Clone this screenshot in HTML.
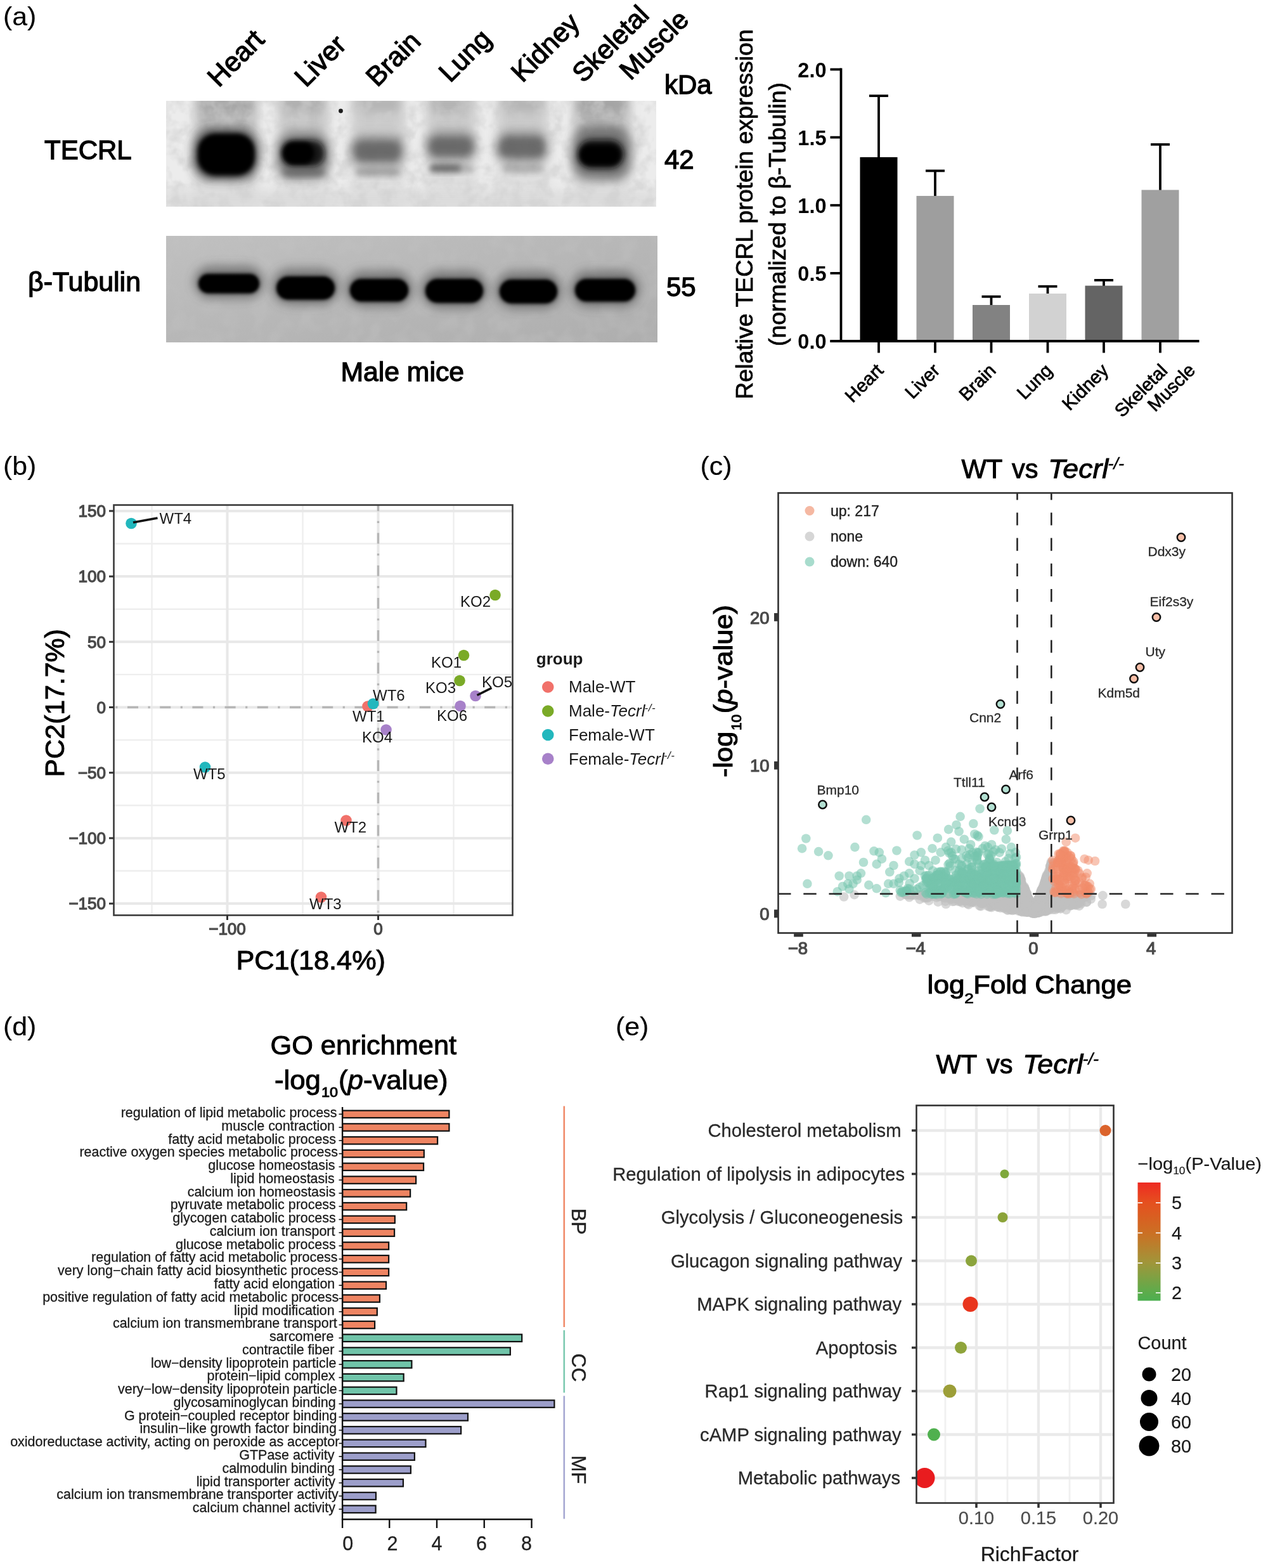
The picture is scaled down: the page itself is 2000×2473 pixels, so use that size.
<!DOCTYPE html>
<html lang="en">
<head>
<meta charset="utf-8">
<title>TECRL expression and Tecrl-/- transcriptome figure</title>
<style>
html,body{margin:0;padding:0;background:#fff;}
body{width:2000px;height:2473px;overflow:hidden;}
svg{display:block;font-family:"Liberation Sans", sans-serif;filter:blur(0.55px);}
text{white-space:pre;}
</style>
</head>
<body>
<svg width="2000" height="2473" viewBox="0 0 2000 2473">
<defs>
<filter id="b2" x="-30%" y="-50%" width="160%" height="200%"><feGaussianBlur stdDeviation="2"/></filter>
<filter id="b3" x="-30%" y="-50%" width="160%" height="200%"><feGaussianBlur stdDeviation="3"/></filter>
<filter id="b5" x="-30%" y="-50%" width="160%" height="200%"><feGaussianBlur stdDeviation="5"/></filter>
<filter id="b8" x="-40%" y="-60%" width="180%" height="220%"><feGaussianBlur stdDeviation="8"/></filter>
<filter id="b14" x="-50%" y="-50%" width="200%" height="200%"><feGaussianBlur stdDeviation="14"/></filter>
<filter id="soft" x="-5%" y="-5%" width="110%" height="110%"><feGaussianBlur stdDeviation="0.6"/></filter>
<filter id="noise1" x="0" y="0" width="100%" height="100%"><feTurbulence type="fractalNoise" baseFrequency="0.045" numOctaves="3" seed="4" result="t"/><feColorMatrix in="t" type="matrix" values="0 0 0 0 0.62  0 0 0 0 0.62  0 0 0 0 0.62  2.2 2.2 0 0 -1.9"/></filter>
<filter id="noise2" x="0" y="0" width="100%" height="100%"><feTurbulence type="fractalNoise" baseFrequency="0.04" numOctaves="2" seed="9" result="t"/><feColorMatrix in="t" type="matrix" values="0 0 0 0 0.55  0 0 0 0 0.55  0 0 0 0 0.55  2 2 0 0 -1.8"/></filter>
<linearGradient id="g2" x1="0" y1="0" x2="1" y2="1"><stop offset="0" stop-color="#c0c0c0"/><stop offset="1" stop-color="#aeaeae"/></linearGradient>
<clipPath id="clipA1"><rect x="262" y="159" width="773" height="167"/></clipPath>
<clipPath id="clipA2"><rect x="262" y="372" width="775" height="168"/></clipPath>
<clipPath id="clipE"><rect x="1445.5" y="1743.5" width="311" height="627"/></clipPath>
<clipPath id="clipC"><rect x="1228" y="778" width="715" height="693"/></clipPath>
<linearGradient id="cbar" x1="0" y1="0" x2="0" y2="1">
<stop offset="0" stop-color="#ee2a22"/><stop offset="0.17" stop-color="#e5501f"/><stop offset="0.43" stop-color="#cb7024"/><stop offset="0.68" stop-color="#a0963a"/><stop offset="0.93" stop-color="#5cac4c"/><stop offset="1" stop-color="#4caf50"/>
</linearGradient>
</defs>
<rect width="2000" height="2473" fill="#fff"/>
<g id="panel-a">
<text x="5" y="40.4" font-size="41" stroke="#000" stroke-width="0.15" textLength="52.3" lengthAdjust="spacingAndGlyphs">(a)</text>
<g clip-path="url(#clipA1)">
<rect x="262" y="159" width="773" height="167" fill="#ececec" />
<rect x="305" y="150" width="103" height="146" rx="6" fill="#bdbdbd" opacity="0.375" filter="url(#b8)"/>
<rect x="305" y="288" width="103" height="47" rx="6" fill="#c8c8c8" opacity="0.2" filter="url(#b8)"/>
<rect x="311" y="146" width="91" height="66" rx="6" fill="#8c8c8c" opacity="0.465" filter="url(#b8)"/>
<rect x="313" y="150" width="87" height="26" rx="6" fill="#808080" opacity="0.3" filter="url(#b8)"/>
<rect x="436" y="150" width="84" height="146" rx="6" fill="#bdbdbd" opacity="0.315" filter="url(#b8)"/>
<rect x="436" y="288" width="84" height="47" rx="6" fill="#c8c8c8" opacity="0.168" filter="url(#b8)"/>
<rect x="442" y="146" width="72" height="66" rx="6" fill="#8c8c8c" opacity="0.31" filter="url(#b8)"/>
<rect x="444" y="150" width="68" height="26" rx="6" fill="#808080" opacity="0.3" filter="url(#b8)"/>
<rect x="552" y="150" width="88" height="146" rx="6" fill="#bdbdbd" opacity="0.27" filter="url(#b8)"/>
<rect x="552" y="288" width="88" height="47" rx="6" fill="#c8c8c8" opacity="0.144" filter="url(#b8)"/>
<rect x="558" y="146" width="76" height="66" rx="6" fill="#8c8c8c" opacity="0.248" filter="url(#b8)"/>
<rect x="560" y="150" width="72" height="26" rx="6" fill="#808080" opacity="0.3" filter="url(#b8)"/>
<rect x="670" y="150" width="82" height="146" rx="6" fill="#bdbdbd" opacity="0.3" filter="url(#b8)"/>
<rect x="670" y="288" width="82" height="47" rx="6" fill="#c8c8c8" opacity="0.16" filter="url(#b8)"/>
<rect x="676" y="146" width="70" height="66" rx="6" fill="#8c8c8c" opacity="0.2604" filter="url(#b8)"/>
<rect x="678" y="150" width="66" height="26" rx="6" fill="#808080" opacity="0.3" filter="url(#b8)"/>
<rect x="782" y="150" width="84" height="146" rx="6" fill="#bdbdbd" opacity="0.27" filter="url(#b8)"/>
<rect x="782" y="288" width="84" height="47" rx="6" fill="#c8c8c8" opacity="0.144" filter="url(#b8)"/>
<rect x="788" y="146" width="72" height="66" rx="6" fill="#8c8c8c" opacity="0.248" filter="url(#b8)"/>
<rect x="790" y="150" width="68" height="26" rx="6" fill="#808080" opacity="0.3" filter="url(#b8)"/>
<rect x="902" y="150" width="94" height="146" rx="6" fill="#bdbdbd" opacity="0.375" filter="url(#b8)"/>
<rect x="902" y="288" width="94" height="47" rx="6" fill="#c8c8c8" opacity="0.2" filter="url(#b8)"/>
<rect x="908" y="146" width="82" height="66" rx="6" fill="#8c8c8c" opacity="0.496" filter="url(#b8)"/>
<rect x="910" y="150" width="78" height="26" rx="6" fill="#808080" opacity="0.3" filter="url(#b8)"/>
<rect x="262" y="159" width="773" height="167" filter="url(#noise1)" opacity="0.55"/>
<rect x="262" y="300" width="773" height="30" rx="2" fill="#d0d0d0" opacity="0.5" filter="url(#b8)"/>
<rect x="304" y="202" width="104" height="82" rx="30" fill="#333" opacity="0.75" filter="url(#b8)"/>
<rect x="312" y="211" width="89" height="66" rx="28" fill="#000" opacity="1" filter="url(#b5)"/>
<rect x="315" y="214" width="84" height="58" rx="24" fill="#000" opacity="1" filter="url(#b3)"/>
<rect x="436" y="208" width="84" height="74" rx="26" fill="#444" opacity="0.6" filter="url(#b8)"/>
<rect x="444" y="221" width="68" height="42" rx="20" fill="#111" opacity="0.9" filter="url(#b5)"/>
<rect x="446" y="224" width="50" height="35" rx="17" fill="#000" opacity="1" filter="url(#b3)"/>
<rect x="446" y="266" width="66" height="12" rx="6" fill="#555" opacity="0.55" filter="url(#b5)"/>
<rect x="553" y="214" width="85" height="48" rx="18" fill="#5a5a5a" opacity="0.66" filter="url(#b8)"/>
<rect x="560" y="224" width="70" height="28" rx="12" fill="#4a4a4a" opacity="0.45" filter="url(#b5)"/>
<rect x="560" y="265" width="72" height="13" rx="6.5" fill="#777" opacity="0.55" filter="url(#b5)"/>
<rect x="672" y="208" width="78" height="46" rx="18" fill="#5a5a5a" opacity="0.66" filter="url(#b8)"/>
<rect x="678" y="218" width="66" height="26" rx="12" fill="#4a4a4a" opacity="0.45" filter="url(#b5)"/>
<rect x="677" y="259" width="51" height="13" rx="6.5" fill="#3c3c3c" opacity="0.7" filter="url(#b5)"/>
<rect x="720" y="260" width="28" height="12" rx="6" fill="#777" opacity="0.4" filter="url(#b5)"/>
<rect x="783" y="208" width="81" height="48" rx="18" fill="#5a5a5a" opacity="0.66" filter="url(#b8)"/>
<rect x="789" y="217" width="69" height="29" rx="12" fill="#4a4a4a" opacity="0.45" filter="url(#b5)"/>
<rect x="792" y="259" width="66" height="14" rx="7" fill="#888" opacity="0.5" filter="url(#b5)"/>
<rect x="902" y="200" width="94" height="84" rx="28" fill="#444" opacity="0.65" filter="url(#b8)"/>
<rect x="911" y="220" width="73" height="46" rx="22" fill="#111" opacity="0.95" filter="url(#b5)"/>
<rect x="915" y="229" width="63" height="31" rx="15" fill="#000" opacity="1" filter="url(#b3)"/>
<circle cx="537.5" cy="175" r="3.4" fill="#1a1a1a" filter="url(#soft)"/>
</g>
<g clip-path="url(#clipA2)">
<rect x="262" y="372" width="775" height="168" fill="#b5b5b5" />
<rect x="262" y="372" width="775" height="168" fill="url(#g2)"/>
<rect x="262" y="372" width="775" height="168" filter="url(#noise2)" opacity="0.3"/>
<rect x="306" y="419" width="110" height="52" rx="26" fill="#444" opacity="0.55" filter="url(#b8)"/>
<rect x="313" y="432" width="96" height="30.5" rx="15.25" fill="#000" opacity="1" filter="url(#b3)"/>
<rect x="315" y="434" width="92" height="26.5" rx="13.25" fill="#000" opacity="1" filter="url(#b2)"/>
<rect x="429" y="423" width="106" height="58" rx="29" fill="#444" opacity="0.55" filter="url(#b8)"/>
<rect x="436" y="436" width="92" height="36.5" rx="18.25" fill="#000" opacity="1" filter="url(#b3)"/>
<rect x="438" y="438" width="88" height="32.5" rx="16.25" fill="#000" opacity="1" filter="url(#b2)"/>
<rect x="545" y="427" width="106" height="57" rx="28.5" fill="#444" opacity="0.55" filter="url(#b8)"/>
<rect x="552" y="440" width="92" height="35.5" rx="17.75" fill="#000" opacity="1" filter="url(#b3)"/>
<rect x="554" y="442" width="88" height="31.5" rx="15.75" fill="#000" opacity="1" filter="url(#b2)"/>
<rect x="664" y="427" width="105" height="59" rx="29.5" fill="#444" opacity="0.55" filter="url(#b8)"/>
<rect x="671" y="440" width="91" height="37.5" rx="18.75" fill="#000" opacity="1" filter="url(#b3)"/>
<rect x="673" y="442" width="87" height="33.5" rx="16.75" fill="#000" opacity="1" filter="url(#b2)"/>
<rect x="781" y="428" width="105" height="59" rx="29.5" fill="#444" opacity="0.55" filter="url(#b8)"/>
<rect x="788" y="441" width="91" height="37.5" rx="18.75" fill="#000" opacity="1" filter="url(#b3)"/>
<rect x="790" y="443" width="87" height="33.5" rx="16.75" fill="#000" opacity="1" filter="url(#b2)"/>
<rect x="900" y="427" width="109" height="57" rx="28.5" fill="#444" opacity="0.55" filter="url(#b8)"/>
<rect x="907" y="440" width="95" height="35.5" rx="17.75" fill="#000" opacity="1" filter="url(#b3)"/>
<rect x="909" y="442" width="91" height="31.5" rx="15.75" fill="#000" opacity="1" filter="url(#b2)"/>
</g>
<text x="70" y="251" font-size="42" stroke="#000" stroke-width="1.3">TECRL</text>
<text x="44" y="459" font-size="42" stroke="#000" stroke-width="1.3" textLength="178" lengthAdjust="spacingAndGlyphs">β-Tubulin</text>
<text x="537.5" y="601" font-size="42" stroke="#000" stroke-width="1.3" textLength="194.5" lengthAdjust="spacingAndGlyphs">Male mice</text>
<text x="1048" y="148" font-size="42" stroke="#000" stroke-width="1.3">kDa</text>
<text x="1048" y="266" font-size="42" stroke="#000" stroke-width="1.3">42</text>
<text x="1051" y="467" font-size="42" stroke="#000" stroke-width="1.3">55</text>
<text x="345" y="139" font-size="42.9" stroke="#000" stroke-width="1.3" transform="rotate(-45 345 139)">Heart</text>
<text x="482.5" y="139" font-size="42.9" stroke="#000" stroke-width="1.3" transform="rotate(-45 482.5 139)">Liver</text>
<text x="595" y="138.5" font-size="42.9" stroke="#000" stroke-width="1.3" transform="rotate(-45 595 138.5)">Brain</text>
<text x="710" y="131.5" font-size="42.9" stroke="#000" stroke-width="1.3" transform="rotate(-45 710 131.5)">Lung</text>
<text x="824" y="131.5" font-size="42.9" stroke="#000" stroke-width="1.3" transform="rotate(-45 824 131.5)">Kidney</text>
<text x="920" y="132" font-size="42.1" stroke="#000" stroke-width="1.3" transform="rotate(-45 920 132)">Skeletal</text>
<text x="994.5" y="128" font-size="42.1" stroke="#000" stroke-width="1.3" transform="rotate(-45 994.5 128)">Muscle</text>
<line x1="1386" y1="248.905" x2="1386" y2="151.15" stroke="#000" stroke-width="3.8" />
<line x1="1371" y1="151.15" x2="1401" y2="151.15" stroke="#000" stroke-width="3.8" />
<rect x="1356.5" y="247.905" width="59" height="290.095" fill="#000" />
<line x1="1386" y1="538" x2="1386" y2="556.5" stroke="#000" stroke-width="3.8" />
<line x1="1475" y1="309.967" x2="1475" y2="269.416" stroke="#000" stroke-width="3.8" />
<line x1="1460" y1="269.416" x2="1490" y2="269.416" stroke="#000" stroke-width="3.8" />
<rect x="1445.5" y="308.967" width="59" height="229.033" fill="#9e9e9e" />
<line x1="1475" y1="538" x2="1475" y2="556.5" stroke="#000" stroke-width="3.8" />
<line x1="1563.5" y1="482.01" x2="1563.5" y2="467.812" stroke="#000" stroke-width="3.8" />
<line x1="1548.5" y1="467.812" x2="1578.5" y2="467.812" stroke="#000" stroke-width="3.8" />
<rect x="1534" y="481.01" width="59" height="56.9905" fill="#828282" />
<line x1="1563.5" y1="538" x2="1563.5" y2="556.5" stroke="#000" stroke-width="3.8" />
<line x1="1652.5" y1="464.012" x2="1652.5" y2="451.743" stroke="#000" stroke-width="3.8" />
<line x1="1637.5" y1="451.743" x2="1667.5" y2="451.743" stroke="#000" stroke-width="3.8" />
<rect x="1623" y="463.012" width="59" height="74.9875" fill="#d2d2d2" />
<line x1="1652.5" y1="538" x2="1652.5" y2="556.5" stroke="#000" stroke-width="3.8" />
<line x1="1741" y1="451.586" x2="1741" y2="441.887" stroke="#000" stroke-width="3.8" />
<line x1="1726" y1="441.887" x2="1756" y2="441.887" stroke="#000" stroke-width="3.8" />
<rect x="1711.5" y="450.586" width="59" height="87.414" fill="#646464" />
<line x1="1741" y1="538" x2="1741" y2="556.5" stroke="#000" stroke-width="3.8" />
<line x1="1830" y1="300.54" x2="1830" y2="227.852" stroke="#000" stroke-width="3.8" />
<line x1="1815" y1="227.852" x2="1845" y2="227.852" stroke="#000" stroke-width="3.8" />
<rect x="1800.5" y="299.54" width="59" height="238.46" fill="#a0a0a0" />
<line x1="1830" y1="538" x2="1830" y2="556.5" stroke="#000" stroke-width="3.8" />
<line x1="1326.5" y1="107.6" x2="1326.5" y2="539.9" stroke="#000" stroke-width="3.8" />
<line x1="1309.5" y1="538" x2="1891.5" y2="538" stroke="#000" stroke-width="3.8" />
<line x1="1309.5" y1="538" x2="1326.5" y2="538" stroke="#000" stroke-width="3.8" />
<text x="1303.5" y="550.2" font-size="32.5" text-anchor="end" font-weight="bold">0.0</text>
<line x1="1309.5" y1="430.875" x2="1326.5" y2="430.875" stroke="#000" stroke-width="3.8" />
<text x="1303.5" y="443.075" font-size="32.5" text-anchor="end" font-weight="bold">0.5</text>
<line x1="1309.5" y1="323.75" x2="1326.5" y2="323.75" stroke="#000" stroke-width="3.8" />
<text x="1303.5" y="335.95" font-size="32.5" text-anchor="end" font-weight="bold">1.0</text>
<line x1="1309.5" y1="216.625" x2="1326.5" y2="216.625" stroke="#000" stroke-width="3.8" />
<text x="1303.5" y="228.825" font-size="32.5" text-anchor="end" font-weight="bold">1.5</text>
<line x1="1309.5" y1="109.5" x2="1326.5" y2="109.5" stroke="#000" stroke-width="3.8" />
<text x="1303.5" y="121.7" font-size="32.5" text-anchor="end" font-weight="bold">2.0</text>
<text x="1187" y="338" font-size="37.5" text-anchor="middle" stroke="#000" stroke-width="0.8" transform="rotate(-90 1187 338)">Relative TECRL protein expression</text>
<text x="1239" y="338" font-size="37.5" text-anchor="middle" stroke="#000" stroke-width="0.8" transform="rotate(-90 1239 338)">(normalized to β-Tubulin)</text>
<text x="1395" y="586" font-size="29" text-anchor="end" stroke="#000" stroke-width="0.8" transform="rotate(-45 1395 586)">Heart</text>
<text x="1484" y="586" font-size="29" text-anchor="end" stroke="#000" stroke-width="0.8" transform="rotate(-45 1484 586)">Liver</text>
<text x="1572.5" y="586" font-size="29" text-anchor="end" stroke="#000" stroke-width="0.8" transform="rotate(-45 1572.5 586)">Brain</text>
<text x="1661.5" y="586" font-size="29" text-anchor="end" stroke="#000" stroke-width="0.8" transform="rotate(-45 1661.5 586)">Lung</text>
<text x="1750" y="586" font-size="29" text-anchor="end" stroke="#000" stroke-width="0.8" transform="rotate(-45 1750 586)">Kidney</text>
<text x="1843" y="586.5" font-size="29" text-anchor="end" stroke="#000" stroke-width="0.8" transform="rotate(-45 1843 586.5)">Skeletal</text>
<text x="1887" y="585.5" font-size="29" text-anchor="end" stroke="#000" stroke-width="0.8" transform="rotate(-45 1887 585.5)">Muscle</text>
</g>
<g id="panel-b">
<text x="5" y="749.4" font-size="41" stroke="#000" stroke-width="0.15" textLength="52.3" lengthAdjust="spacingAndGlyphs">(b)</text>
<rect x="179.5" y="796.5" width="629" height="647" fill="#fff" />
<line x1="239.5" y1="796.5" x2="239.5" y2="1443.5" stroke="#eeeeee" stroke-width="2.4" />
<line x1="477.5" y1="796.5" x2="477.5" y2="1443.5" stroke="#eeeeee" stroke-width="2.4" />
<line x1="715.5" y1="796.5" x2="715.5" y2="1443.5" stroke="#eeeeee" stroke-width="2.4" />
<line x1="179.5" y1="1373.5" x2="808.5" y2="1373.5" stroke="#eeeeee" stroke-width="2.4" />
<line x1="179.5" y1="1270.3" x2="808.5" y2="1270.3" stroke="#eeeeee" stroke-width="2.4" />
<line x1="179.5" y1="1167.1" x2="808.5" y2="1167.1" stroke="#eeeeee" stroke-width="2.4" />
<line x1="179.5" y1="1063.9" x2="808.5" y2="1063.9" stroke="#eeeeee" stroke-width="2.4" />
<line x1="179.5" y1="960.7" x2="808.5" y2="960.7" stroke="#eeeeee" stroke-width="2.4" />
<line x1="179.5" y1="857.5" x2="808.5" y2="857.5" stroke="#eeeeee" stroke-width="2.4" />
<line x1="358.5" y1="796.5" x2="358.5" y2="1443.5" stroke="#e8e8e8" stroke-width="4" />
<line x1="596.5" y1="796.5" x2="596.5" y2="1443.5" stroke="#e8e8e8" stroke-width="4" />
<line x1="179.5" y1="1425.1" x2="808.5" y2="1425.1" stroke="#e8e8e8" stroke-width="4" />
<line x1="179.5" y1="1321.9" x2="808.5" y2="1321.9" stroke="#e8e8e8" stroke-width="4" />
<line x1="179.5" y1="1218.7" x2="808.5" y2="1218.7" stroke="#e8e8e8" stroke-width="4" />
<line x1="179.5" y1="1115.5" x2="808.5" y2="1115.5" stroke="#e8e8e8" stroke-width="4" />
<line x1="179.5" y1="1012.3" x2="808.5" y2="1012.3" stroke="#e8e8e8" stroke-width="4" />
<line x1="179.5" y1="909.1" x2="808.5" y2="909.1" stroke="#e8e8e8" stroke-width="4" />
<line x1="179.5" y1="805.9" x2="808.5" y2="805.9" stroke="#e8e8e8" stroke-width="4" />
<line x1="179.5" y1="1115.5" x2="808.5" y2="1115.5" stroke="#b6b6b6" stroke-width="3.4" stroke-dasharray="17 15.5 3.2 15.5" stroke-dashoffset="29.7"/>
<line x1="596.5" y1="796.5" x2="596.5" y2="1443.5" stroke="#b6b6b6" stroke-width="3.4" stroke-dasharray="17 15.5 3.2 15.5" stroke-dashoffset="7.2"/>
<circle cx="580" cy="1114" r="8.8" fill="#f1716a" />
<circle cx="546" cy="1294" r="8.8" fill="#f1716a" />
<circle cx="506.5" cy="1415" r="8.8" fill="#f1716a" />
<circle cx="731.5" cy="1033.5" r="8.8" fill="#7aaa27" />
<circle cx="781" cy="938.5" r="8.8" fill="#7aaa27" />
<circle cx="725" cy="1073.5" r="8.8" fill="#7aaa27" />
<circle cx="207" cy="825.5" r="8.8" fill="#22b7bd" />
<circle cx="323.5" cy="1210" r="8.8" fill="#22b7bd" />
<circle cx="588.5" cy="1110" r="8.8" fill="#22b7bd" />
<circle cx="609" cy="1151" r="8.8" fill="#a781c9" />
<circle cx="750" cy="1097.5" r="8.8" fill="#a781c9" />
<circle cx="726" cy="1113.5" r="8.8" fill="#a781c9" />
<line x1="210" y1="824" x2="248.5" y2="817" stroke="#111" stroke-width="3.6" />
<line x1="752.5" y1="1096.5" x2="775.5" y2="1085" stroke="#111" stroke-width="3.6" />
<text x="556" y="1137.5" font-size="24" fill="#1a1a1a">WT1</text>
<text x="527.5" y="1312.5" font-size="24" fill="#1a1a1a">WT2</text>
<text x="488" y="1434" font-size="24" fill="#1a1a1a">WT3</text>
<text x="680" y="1052.5" font-size="24" fill="#1a1a1a">KO1</text>
<text x="726" y="957" font-size="24" fill="#1a1a1a">KO2</text>
<text x="671" y="1093" font-size="24" fill="#1a1a1a">KO3</text>
<text x="251.5" y="826" font-size="24" fill="#1a1a1a">WT4</text>
<text x="305" y="1229" font-size="24" fill="#1a1a1a">WT5</text>
<text x="588" y="1105" font-size="24" fill="#1a1a1a">WT6</text>
<text x="571" y="1171" font-size="24" fill="#1a1a1a">KO4</text>
<text x="760" y="1084" font-size="24" fill="#1a1a1a">KO5</text>
<text x="689" y="1136.5" font-size="24" fill="#1a1a1a">KO6</text>
<rect x="179.5" y="796.5" width="629" height="647" fill="none" stroke="#3a3a3a" stroke-width="2.6" />
<line x1="172" y1="1425.1" x2="179.5" y2="1425.1" stroke="#333" stroke-width="3" />
<text x="167" y="1434.3" font-size="26" text-anchor="end" fill="#4a4a4a" stroke="#4a4a4a" stroke-width="1.3">−150</text>
<line x1="172" y1="1321.9" x2="179.5" y2="1321.9" stroke="#333" stroke-width="3" />
<text x="167" y="1331.1" font-size="26" text-anchor="end" fill="#4a4a4a" stroke="#4a4a4a" stroke-width="1.3">−100</text>
<line x1="172" y1="1218.7" x2="179.5" y2="1218.7" stroke="#333" stroke-width="3" />
<text x="167" y="1227.9" font-size="26" text-anchor="end" fill="#4a4a4a" stroke="#4a4a4a" stroke-width="1.3">−50</text>
<line x1="172" y1="1115.5" x2="179.5" y2="1115.5" stroke="#333" stroke-width="3" />
<text x="167" y="1124.7" font-size="26" text-anchor="end" fill="#4a4a4a" stroke="#4a4a4a" stroke-width="1.3">0</text>
<line x1="172" y1="1012.3" x2="179.5" y2="1012.3" stroke="#333" stroke-width="3" />
<text x="167" y="1021.5" font-size="26" text-anchor="end" fill="#4a4a4a" stroke="#4a4a4a" stroke-width="1.3">50</text>
<line x1="172" y1="909.1" x2="179.5" y2="909.1" stroke="#333" stroke-width="3" />
<text x="167" y="918.3" font-size="26" text-anchor="end" fill="#4a4a4a" stroke="#4a4a4a" stroke-width="1.3">100</text>
<line x1="172" y1="805.9" x2="179.5" y2="805.9" stroke="#333" stroke-width="3" />
<text x="167" y="815.1" font-size="26" text-anchor="end" fill="#4a4a4a" stroke="#4a4a4a" stroke-width="1.3">150</text>
<line x1="358.5" y1="1443.5" x2="358.5" y2="1451" stroke="#333" stroke-width="3" />
<text x="358.5" y="1474.3" font-size="26" text-anchor="middle" fill="#4a4a4a" stroke="#4a4a4a" stroke-width="1.3">−100</text>
<line x1="596.5" y1="1443.5" x2="596.5" y2="1451" stroke="#333" stroke-width="3" />
<text x="596.5" y="1474.3" font-size="26" text-anchor="middle" fill="#4a4a4a" stroke="#4a4a4a" stroke-width="1.3">0</text>
<text x="372.5" y="1528.5" font-size="43" stroke="#000" stroke-width="1" textLength="235.5" lengthAdjust="spacingAndGlyphs">PC1(18.4%)</text>
<text x="100.5" y="1225.5" font-size="43" stroke="#000" stroke-width="1" transform="rotate(-90 100.5 1225.5)" textLength="233.5" lengthAdjust="spacingAndGlyphs">PC2(17.7%)</text>
<text x="845.75" y="1047.5" font-size="26" font-weight="bold" fill="#1a1a1a">group</text>
<circle cx="864.25" cy="1083.5" r="9.3" fill="#f1716a" />
<text x="897" y="1092.3" font-size="26" fill="#1a1a1a">Male-WT</text>
<circle cx="864.25" cy="1121.5" r="9.3" fill="#7aaa27" />
<text x="897" y="1130.3" font-size="26" fill="#1a1a1a">Male-<tspan font-style="italic">Tecrl</tspan><tspan font-size="17" dy="-8.5" dx="-1" font-style="italic" letter-spacing="0.6">-/-</tspan></text>
<circle cx="864.25" cy="1159" r="9.3" fill="#22b7bd" />
<text x="897" y="1167.8" font-size="26" fill="#1a1a1a">Female-WT</text>
<circle cx="864.25" cy="1196.75" r="9.3" fill="#a781c9" />
<text x="897" y="1205.55" font-size="26" fill="#1a1a1a">Female-<tspan font-style="italic">Tecrl</tspan><tspan font-size="17" dy="-8.5" dx="-1" font-style="italic" letter-spacing="0.6">-/-</tspan></text>
</g>
<g id="panel-c">
<text x="1104.5" y="749.4" font-size="41" stroke="#000" stroke-width="0.15" textLength="50" lengthAdjust="spacingAndGlyphs">(c)</text>
<text stroke="#000" stroke-width="1"><tspan x="1516.4" y="754" font-size="43" textLength="65" lengthAdjust="spacingAndGlyphs">WT</tspan><tspan font-size="1"> </tspan><tspan x="1595.9" y="754" font-size="43" textLength="41.5" lengthAdjust="spacingAndGlyphs">vs</tspan><tspan font-size="1"> </tspan><tspan x="1653.2" y="754" font-size="43" textLength="95" lengthAdjust="spacingAndGlyphs" font-style="italic">Tecrl</tspan><tspan x="1747.4" y="740" font-size="25" textLength="25.5" lengthAdjust="spacingAndGlyphs" stroke-width="0.5" font-style="italic">-/-</tspan></text>
<rect x="1227.5" y="777.5" width="716" height="694" fill="#fff" />
<g clip-path="url(#clipC)">
<g fill="#c0c0c0" fill-opacity="0.62">
<circle cx="1572.1" cy="1421.1" r="7.3"/><circle cx="1607.8" cy="1403.5" r="7.3"/><circle cx="1591.8" cy="1414.9" r="7.3"/><circle cx="1628.1" cy="1436.8" r="7.3"/><circle cx="1646.7" cy="1436.2" r="7.3"/><circle cx="1712.1" cy="1415.1" r="7.3"/><circle cx="1591.1" cy="1430.3" r="7.3"/><circle cx="1621.4" cy="1434.5" r="7.3"/><circle cx="1629.3" cy="1440.5" r="7.3"/><circle cx="1581.1" cy="1420.5" r="7.3"/><circle cx="1650.6" cy="1408.8" r="7.3"/><circle cx="1544.8" cy="1410.6" r="7.3"/><circle cx="1670.5" cy="1416.2" r="7.3"/><circle cx="1637.0" cy="1435.0" r="7.3"/><circle cx="1674.0" cy="1422.3" r="7.3"/><circle cx="1621.8" cy="1429.4" r="7.3"/><circle cx="1672.8" cy="1433.4" r="7.3"/><circle cx="1657.5" cy="1361.8" r="7.3"/><circle cx="1614.2" cy="1435.7" r="7.3"/><circle cx="1634.9" cy="1438.9" r="7.3"/><circle cx="1609.3" cy="1384.6" r="7.3"/><circle cx="1612.9" cy="1434.0" r="7.3"/><circle cx="1645.2" cy="1404.0" r="7.3"/><circle cx="1602.7" cy="1430.4" r="7.3"/><circle cx="1564.3" cy="1428.2" r="7.3"/><circle cx="1652.7" cy="1423.7" r="7.3"/><circle cx="1650.5" cy="1381.9" r="7.3"/><circle cx="1549.1" cy="1424.7" r="7.3"/><circle cx="1685.6" cy="1413.0" r="7.3"/><circle cx="1698.8" cy="1423.5" r="7.3"/><circle cx="1680.5" cy="1414.6" r="7.3"/><circle cx="1627.9" cy="1439.5" r="7.3"/><circle cx="1641.4" cy="1431.0" r="7.3"/><circle cx="1609.8" cy="1386.2" r="7.3"/><circle cx="1653.1" cy="1400.1" r="7.3"/><circle cx="1596.7" cy="1412.5" r="7.3"/><circle cx="1611.5" cy="1426.0" r="7.3"/><circle cx="1626.6" cy="1437.3" r="7.3"/><circle cx="1684.5" cy="1417.5" r="7.3"/><circle cx="1565.0" cy="1429.0" r="7.3"/><circle cx="1651.0" cy="1396.1" r="7.3"/><circle cx="1626.2" cy="1426.6" r="7.3"/><circle cx="1626.3" cy="1428.5" r="7.3"/><circle cx="1647.7" cy="1426.6" r="7.3"/><circle cx="1654.1" cy="1418.1" r="7.3"/><circle cx="1457.7" cy="1416.4" r="7.3"/><circle cx="1600.2" cy="1423.3" r="7.3"/><circle cx="1642.9" cy="1417.5" r="7.3"/><circle cx="1654.9" cy="1411.7" r="7.3"/><circle cx="1658.7" cy="1417.1" r="7.3"/><circle cx="1626.0" cy="1438.0" r="7.3"/><circle cx="1691.8" cy="1415.4" r="7.3"/><circle cx="1637.9" cy="1428.2" r="7.3"/><circle cx="1502.4" cy="1422.0" r="7.3"/><circle cx="1652.2" cy="1393.7" r="7.3"/><circle cx="1535.6" cy="1411.8" r="7.3"/><circle cx="1607.3" cy="1385.6" r="7.3"/><circle cx="1576.0" cy="1414.6" r="7.3"/><circle cx="1520.4" cy="1419.0" r="7.3"/><circle cx="1613.8" cy="1411.3" r="7.3"/><circle cx="1574.5" cy="1412.9" r="7.3"/><circle cx="1460.4" cy="1414.0" r="7.3"/><circle cx="1536.5" cy="1413.0" r="7.3"/><circle cx="1616.4" cy="1409.7" r="7.3"/><circle cx="1605.3" cy="1423.0" r="7.3"/><circle cx="1549.8" cy="1419.1" r="7.3"/><circle cx="1649.8" cy="1437.0" r="7.3"/><circle cx="1620.7" cy="1419.8" r="7.3"/><circle cx="1660.3" cy="1417.7" r="7.3"/><circle cx="1684.0" cy="1412.4" r="7.3"/><circle cx="1621.7" cy="1428.1" r="7.3"/><circle cx="1555.2" cy="1412.0" r="7.3"/><circle cx="1534.0" cy="1421.3" r="7.3"/><circle cx="1655.5" cy="1401.6" r="7.3"/><circle cx="1631.4" cy="1434.5" r="7.3"/><circle cx="1595.3" cy="1430.3" r="7.3"/><circle cx="1628.0" cy="1435.3" r="7.3"/><circle cx="1650.1" cy="1409.8" r="7.3"/><circle cx="1673.0" cy="1421.3" r="7.3"/><circle cx="1564.1" cy="1431.1" r="7.3"/><circle cx="1662.1" cy="1419.6" r="7.3"/><circle cx="1642.3" cy="1410.8" r="7.3"/><circle cx="1651.2" cy="1435.9" r="7.3"/><circle cx="1627.0" cy="1436.9" r="7.3"/><circle cx="1668.6" cy="1421.8" r="7.3"/><circle cx="1642.4" cy="1415.4" r="7.3"/><circle cx="1659.5" cy="1428.9" r="7.3"/><circle cx="1620.1" cy="1434.2" r="7.3"/><circle cx="1587.6" cy="1429.3" r="7.3"/><circle cx="1638.7" cy="1430.6" r="7.3"/><circle cx="1514.6" cy="1413.6" r="7.3"/><circle cx="1626.1" cy="1426.8" r="7.3"/><circle cx="1631.1" cy="1440.2" r="7.3"/><circle cx="1587.9" cy="1424.2" r="7.3"/><circle cx="1587.6" cy="1413.1" r="7.3"/><circle cx="1638.1" cy="1423.7" r="7.3"/><circle cx="1620.3" cy="1417.8" r="7.3"/><circle cx="1533.4" cy="1423.1" r="7.3"/><circle cx="1521.4" cy="1410.9" r="7.3"/><circle cx="1569.1" cy="1414.5" r="7.3"/><circle cx="1677.3" cy="1423.1" r="7.3"/><circle cx="1601.6" cy="1423.5" r="7.3"/><circle cx="1634.7" cy="1439.9" r="7.3"/><circle cx="1525.9" cy="1425.3" r="7.3"/><circle cx="1606.1" cy="1388.2" r="7.3"/><circle cx="1653.3" cy="1427.4" r="7.3"/><circle cx="1622.2" cy="1422.0" r="7.3"/><circle cx="1554.2" cy="1411.4" r="7.3"/><circle cx="1578.4" cy="1427.3" r="7.3"/><circle cx="1619.8" cy="1419.4" r="7.3"/><circle cx="1674.6" cy="1413.5" r="7.3"/><circle cx="1620.7" cy="1414.8" r="7.3"/><circle cx="1459.1" cy="1411.4" r="7.3"/><circle cx="1564.8" cy="1418.5" r="7.3"/><circle cx="1656.3" cy="1397.6" r="7.3"/><circle cx="1625.8" cy="1423.1" r="7.3"/><circle cx="1626.9" cy="1434.4" r="7.3"/><circle cx="1529.8" cy="1415.0" r="7.3"/><circle cx="1618.5" cy="1420.9" r="7.3"/><circle cx="1691.9" cy="1423.2" r="7.3"/><circle cx="1614.1" cy="1433.3" r="7.3"/><circle cx="1655.0" cy="1403.7" r="7.3"/><circle cx="1576.2" cy="1427.9" r="7.3"/><circle cx="1644.1" cy="1407.2" r="7.3"/><circle cx="1624.4" cy="1436.1" r="7.3"/><circle cx="1621.5" cy="1430.1" r="7.3"/><circle cx="1608.3" cy="1432.2" r="7.3"/><circle cx="1628.3" cy="1437.7" r="7.3"/><circle cx="1654.2" cy="1401.2" r="7.3"/><circle cx="1610.6" cy="1410.6" r="7.3"/><circle cx="1651.3" cy="1425.2" r="7.3"/><circle cx="1608.9" cy="1390.2" r="7.3"/><circle cx="1604.8" cy="1382.5" r="7.3"/><circle cx="1628.1" cy="1429.3" r="7.3"/><circle cx="1580.3" cy="1425.1" r="7.3"/><circle cx="1462.5" cy="1410.6" r="7.3"/><circle cx="1609.7" cy="1398.7" r="7.3"/><circle cx="1646.4" cy="1433.7" r="7.3"/><circle cx="1505.0" cy="1421.5" r="7.3"/><circle cx="1654.3" cy="1390.7" r="7.3"/><circle cx="1643.8" cy="1402.6" r="7.3"/><circle cx="1428.1" cy="1411.0" r="7.3"/><circle cx="1658.3" cy="1421.4" r="7.3"/><circle cx="1591.9" cy="1431.9" r="7.3"/><circle cx="1640.9" cy="1421.6" r="7.3"/><circle cx="1616.8" cy="1432.2" r="7.3"/><circle cx="1624.4" cy="1422.6" r="7.3"/><circle cx="1699.4" cy="1425.9" r="7.3"/><circle cx="1660.6" cy="1415.4" r="7.3"/><circle cx="1621.7" cy="1427.2" r="7.3"/><circle cx="1596.8" cy="1436.0" r="7.3"/><circle cx="1614.0" cy="1401.1" r="7.3"/><circle cx="1587.2" cy="1423.4" r="7.3"/><circle cx="1644.0" cy="1432.0" r="7.3"/><circle cx="1689.7" cy="1413.8" r="7.3"/><circle cx="1595.0" cy="1413.5" r="7.3"/><circle cx="1599.9" cy="1421.8" r="7.3"/><circle cx="1658.6" cy="1427.4" r="7.3"/><circle cx="1638.4" cy="1419.9" r="7.3"/><circle cx="1623.6" cy="1430.8" r="7.3"/><circle cx="1641.9" cy="1412.5" r="7.3"/><circle cx="1530.6" cy="1419.5" r="7.3"/><circle cx="1626.8" cy="1433.2" r="7.3"/><circle cx="1641.9" cy="1426.7" r="7.3"/><circle cx="1616.6" cy="1402.5" r="7.3"/><circle cx="1558.5" cy="1422.9" r="7.3"/><circle cx="1599.8" cy="1424.7" r="7.3"/><circle cx="1604.3" cy="1392.5" r="7.3"/><circle cx="1557.9" cy="1410.9" r="7.3"/><circle cx="1596.8" cy="1428.0" r="7.3"/><circle cx="1600.7" cy="1434.9" r="7.3"/><circle cx="1622.0" cy="1433.3" r="7.3"/><circle cx="1573.4" cy="1420.3" r="7.3"/><circle cx="1579.4" cy="1410.7" r="7.3"/><circle cx="1639.9" cy="1415.6" r="7.3"/><circle cx="1592.5" cy="1434.1" r="7.3"/><circle cx="1443.0" cy="1412.2" r="7.3"/><circle cx="1604.0" cy="1405.7" r="7.3"/><circle cx="1693.7" cy="1420.1" r="7.3"/><circle cx="1655.2" cy="1395.0" r="7.3"/><circle cx="1621.9" cy="1425.0" r="7.3"/><circle cx="1670.6" cy="1416.0" r="7.3"/><circle cx="1651.8" cy="1434.6" r="7.3"/><circle cx="1632.8" cy="1432.6" r="7.3"/><circle cx="1668.0" cy="1432.1" r="7.3"/><circle cx="1705.3" cy="1425.4" r="7.3"/><circle cx="1533.1" cy="1418.4" r="7.3"/><circle cx="1471.0" cy="1413.9" r="7.3"/><circle cx="1631.2" cy="1438.0" r="7.3"/><circle cx="1662.6" cy="1418.8" r="7.3"/><circle cx="1603.2" cy="1419.1" r="7.3"/><circle cx="1633.6" cy="1433.8" r="7.3"/><circle cx="1639.7" cy="1426.6" r="7.3"/><circle cx="1546.3" cy="1417.4" r="7.3"/><circle cx="1637.0" cy="1423.1" r="7.3"/><circle cx="1699.8" cy="1414.5" r="7.3"/><circle cx="1630.0" cy="1439.9" r="7.3"/><circle cx="1599.9" cy="1425.5" r="7.3"/><circle cx="1592.9" cy="1417.3" r="7.3"/><circle cx="1597.9" cy="1415.9" r="7.3"/><circle cx="1609.5" cy="1424.7" r="7.3"/><circle cx="1695.7" cy="1412.4" r="7.3"/><circle cx="1651.6" cy="1411.7" r="7.3"/><circle cx="1639.3" cy="1436.7" r="7.3"/><circle cx="1641.6" cy="1416.1" r="7.3"/><circle cx="1636.2" cy="1427.7" r="7.3"/><circle cx="1612.0" cy="1421.7" r="7.3"/><circle cx="1589.3" cy="1413.9" r="7.3"/><circle cx="1668.0" cy="1418.1" r="7.3"/><circle cx="1648.1" cy="1427.0" r="7.3"/><circle cx="1628.4" cy="1436.4" r="7.3"/><circle cx="1681.7" cy="1410.8" r="7.3"/><circle cx="1587.0" cy="1412.2" r="7.3"/><circle cx="1617.1" cy="1425.4" r="7.3"/><circle cx="1639.0" cy="1437.3" r="7.3"/><circle cx="1623.0" cy="1428.4" r="7.3"/><circle cx="1557.9" cy="1429.0" r="7.3"/><circle cx="1676.9" cy="1416.8" r="7.3"/><circle cx="1616.2" cy="1411.5" r="7.3"/><circle cx="1673.2" cy="1428.5" r="7.3"/><circle cx="1627.0" cy="1438.8" r="7.3"/><circle cx="1536.3" cy="1417.1" r="7.3"/><circle cx="1703.8" cy="1411.8" r="7.3"/><circle cx="1638.8" cy="1431.2" r="7.3"/><circle cx="1608.5" cy="1384.7" r="7.3"/><circle cx="1585.1" cy="1424.3" r="7.3"/><circle cx="1657.4" cy="1406.3" r="7.3"/><circle cx="1643.2" cy="1408.6" r="7.3"/><circle cx="1664.8" cy="1413.8" r="7.3"/><circle cx="1651.9" cy="1383.4" r="7.3"/><circle cx="1673.1" cy="1432.3" r="7.3"/><circle cx="1596.3" cy="1411.3" r="7.3"/><circle cx="1621.1" cy="1416.9" r="7.3"/><circle cx="1584.0" cy="1431.8" r="7.3"/><circle cx="1616.8" cy="1410.9" r="7.3"/><circle cx="1647.0" cy="1431.2" r="7.3"/><circle cx="1621.3" cy="1421.6" r="7.3"/><circle cx="1639.8" cy="1424.3" r="7.3"/><circle cx="1670.0" cy="1422.8" r="7.3"/><circle cx="1671.8" cy="1420.5" r="7.3"/><circle cx="1622.8" cy="1422.1" r="7.3"/><circle cx="1629.8" cy="1433.7" r="7.3"/><circle cx="1557.8" cy="1413.1" r="7.3"/><circle cx="1638.4" cy="1415.5" r="7.3"/><circle cx="1580.5" cy="1420.3" r="7.3"/><circle cx="1601.8" cy="1424.0" r="7.3"/><circle cx="1603.4" cy="1416.4" r="7.3"/><circle cx="1515.1" cy="1422.0" r="7.3"/><circle cx="1610.4" cy="1386.9" r="7.3"/><circle cx="1641.5" cy="1428.7" r="7.3"/><circle cx="1602.2" cy="1430.7" r="7.3"/><circle cx="1592.4" cy="1422.5" r="7.3"/><circle cx="1637.4" cy="1437.4" r="7.3"/><circle cx="1626.9" cy="1437.2" r="7.3"/><circle cx="1623.3" cy="1434.8" r="7.3"/><circle cx="1594.3" cy="1427.1" r="7.3"/><circle cx="1632.1" cy="1435.9" r="7.3"/><circle cx="1540.5" cy="1418.9" r="7.3"/><circle cx="1677.9" cy="1423.2" r="7.3"/><circle cx="1590.9" cy="1411.5" r="7.3"/><circle cx="1632.6" cy="1431.1" r="7.3"/><circle cx="1600.6" cy="1424.9" r="7.3"/><circle cx="1608.8" cy="1382.0" r="7.3"/><circle cx="1628.8" cy="1438.1" r="7.3"/><circle cx="1604.5" cy="1386.3" r="7.3"/><circle cx="1593.0" cy="1419.1" r="7.3"/><circle cx="1644.6" cy="1427.7" r="7.3"/><circle cx="1622.1" cy="1426.4" r="7.3"/><circle cx="1652.9" cy="1403.0" r="7.3"/><circle cx="1630.1" cy="1434.7" r="7.3"/><circle cx="1654.4" cy="1381.2" r="7.3"/><circle cx="1582.4" cy="1426.4" r="7.3"/><circle cx="1632.4" cy="1436.2" r="7.3"/><circle cx="1585.7" cy="1413.5" r="7.3"/><circle cx="1649.3" cy="1395.0" r="7.3"/><circle cx="1641.5" cy="1411.3" r="7.3"/><circle cx="1624.9" cy="1429.5" r="7.3"/><circle cx="1659.9" cy="1425.9" r="7.3"/><circle cx="1675.0" cy="1430.2" r="7.3"/><circle cx="1587.8" cy="1424.6" r="7.3"/><circle cx="1601.1" cy="1432.9" r="7.3"/><circle cx="1560.3" cy="1413.6" r="7.3"/><circle cx="1648.3" cy="1437.2" r="7.3"/><circle cx="1625.9" cy="1430.5" r="7.3"/><circle cx="1611.1" cy="1438.1" r="7.3"/><circle cx="1656.8" cy="1421.0" r="7.3"/><circle cx="1624.2" cy="1428.6" r="7.3"/><circle cx="1657.2" cy="1411.0" r="7.3"/><circle cx="1620.3" cy="1433.6" r="7.3"/><circle cx="1550.5" cy="1422.4" r="7.3"/><circle cx="1577.7" cy="1416.0" r="7.3"/><circle cx="1636.7" cy="1437.0" r="7.3"/><circle cx="1620.1" cy="1418.8" r="7.3"/><circle cx="1606.7" cy="1386.4" r="7.3"/><circle cx="1656.6" cy="1429.8" r="7.3"/><circle cx="1638.9" cy="1428.7" r="7.3"/><circle cx="1643.0" cy="1404.4" r="7.3"/><circle cx="1590.9" cy="1415.5" r="7.3"/><circle cx="1579.2" cy="1423.4" r="7.3"/><circle cx="1626.8" cy="1434.3" r="7.3"/><circle cx="1589.3" cy="1411.0" r="7.3"/><circle cx="1547.2" cy="1429.4" r="7.3"/><circle cx="1598.7" cy="1425.8" r="7.3"/><circle cx="1652.3" cy="1405.5" r="7.3"/><circle cx="1615.4" cy="1404.7" r="7.3"/><circle cx="1656.9" cy="1369.4" r="7.3"/><circle cx="1670.9" cy="1423.7" r="7.3"/><circle cx="1658.7" cy="1410.9" r="7.3"/><circle cx="1665.3" cy="1416.3" r="7.3"/><circle cx="1624.6" cy="1427.4" r="7.3"/><circle cx="1694.4" cy="1426.9" r="7.3"/><circle cx="1592.8" cy="1425.7" r="7.3"/><circle cx="1510.3" cy="1417.1" r="7.3"/><circle cx="1611.1" cy="1388.4" r="7.3"/><circle cx="1659.7" cy="1419.9" r="7.3"/><circle cx="1611.2" cy="1425.1" r="7.3"/><circle cx="1721.2" cy="1412.7" r="7.3"/><circle cx="1668.3" cy="1425.5" r="7.3"/><circle cx="1651.0" cy="1423.3" r="7.3"/><circle cx="1639.7" cy="1423.7" r="7.3"/><circle cx="1615.4" cy="1437.8" r="7.3"/><circle cx="1696.8" cy="1415.9" r="7.3"/><circle cx="1625.6" cy="1428.1" r="7.3"/><circle cx="1534.2" cy="1413.4" r="7.3"/><circle cx="1656.3" cy="1422.0" r="7.3"/><circle cx="1648.2" cy="1408.8" r="7.3"/><circle cx="1652.5" cy="1404.5" r="7.3"/><circle cx="1608.2" cy="1400.9" r="7.3"/><circle cx="1620.6" cy="1419.8" r="7.3"/><circle cx="1667.5" cy="1421.4" r="7.3"/><circle cx="1621.5" cy="1422.6" r="7.3"/><circle cx="1588.9" cy="1421.7" r="7.3"/><circle cx="1669.8" cy="1413.4" r="7.3"/><circle cx="1584.5" cy="1422.6" r="7.3"/><circle cx="1659.2" cy="1420.8" r="7.3"/><circle cx="1611.9" cy="1393.8" r="7.3"/><circle cx="1673.2" cy="1412.4" r="7.3"/><circle cx="1612.2" cy="1409.5" r="7.3"/><circle cx="1561.4" cy="1429.6" r="7.3"/><circle cx="1666.2" cy="1422.0" r="7.3"/><circle cx="1623.7" cy="1424.5" r="7.3"/><circle cx="1636.5" cy="1435.1" r="7.3"/><circle cx="1614.8" cy="1436.1" r="7.3"/><circle cx="1712.7" cy="1414.9" r="7.3"/><circle cx="1607.4" cy="1412.9" r="7.3"/><circle cx="1599.5" cy="1420.3" r="7.3"/><circle cx="1667.9" cy="1429.9" r="7.3"/><circle cx="1631.9" cy="1438.8" r="7.3"/><circle cx="1630.7" cy="1438.9" r="7.3"/><circle cx="1671.5" cy="1422.6" r="7.3"/><circle cx="1599.6" cy="1419.9" r="7.3"/><circle cx="1689.5" cy="1422.7" r="7.3"/><circle cx="1642.6" cy="1404.9" r="7.3"/><circle cx="1547.5" cy="1424.7" r="7.3"/><circle cx="1683.5" cy="1425.8" r="7.3"/><circle cx="1533.7" cy="1420.6" r="7.3"/><circle cx="1658.0" cy="1359.5" r="7.3"/><circle cx="1681.6" cy="1417.1" r="7.3"/><circle cx="1637.5" cy="1437.4" r="7.3"/><circle cx="1573.4" cy="1424.6" r="7.3"/><circle cx="1680.3" cy="1415.7" r="7.3"/><circle cx="1609.1" cy="1413.4" r="7.3"/><circle cx="1569.1" cy="1426.4" r="7.3"/><circle cx="1626.5" cy="1437.5" r="7.3"/><circle cx="1613.1" cy="1407.7" r="7.3"/><circle cx="1532.2" cy="1412.2" r="7.3"/><circle cx="1660.5" cy="1428.0" r="7.3"/><circle cx="1668.0" cy="1425.8" r="7.3"/><circle cx="1612.6" cy="1434.5" r="7.3"/><circle cx="1536.7" cy="1417.8" r="7.3"/><circle cx="1667.2" cy="1425.7" r="7.3"/><circle cx="1641.6" cy="1411.9" r="7.3"/><circle cx="1620.8" cy="1432.5" r="7.3"/><circle cx="1676.6" cy="1419.1" r="7.3"/><circle cx="1697.0" cy="1427.8" r="7.3"/><circle cx="1581.2" cy="1415.6" r="7.3"/><circle cx="1660.6" cy="1429.3" r="7.3"/><circle cx="1616.9" cy="1414.6" r="7.3"/><circle cx="1604.5" cy="1404.4" r="7.3"/><circle cx="1590.2" cy="1413.8" r="7.3"/><circle cx="1459.9" cy="1415.4" r="7.3"/><circle cx="1568.4" cy="1427.8" r="7.3"/><circle cx="1633.8" cy="1430.4" r="7.3"/><circle cx="1639.4" cy="1417.4" r="7.3"/><circle cx="1611.3" cy="1409.1" r="7.3"/><circle cx="1632.3" cy="1440.4" r="7.3"/><circle cx="1623.0" cy="1418.9" r="7.3"/><circle cx="1595.6" cy="1430.9" r="7.3"/><circle cx="1601.3" cy="1423.4" r="7.3"/><circle cx="1631.7" cy="1434.7" r="7.3"/><circle cx="1661.2" cy="1420.2" r="7.3"/><circle cx="1548.1" cy="1424.1" r="7.3"/><circle cx="1627.9" cy="1436.6" r="7.3"/><circle cx="1638.6" cy="1426.0" r="7.3"/><circle cx="1620.8" cy="1415.8" r="7.3"/><circle cx="1624.7" cy="1435.0" r="7.3"/><circle cx="1611.9" cy="1399.5" r="7.3"/><circle cx="1582.1" cy="1423.0" r="7.3"/><circle cx="1646.5" cy="1436.2" r="7.3"/><circle cx="1703.3" cy="1414.0" r="7.3"/><circle cx="1437.9" cy="1411.9" r="7.3"/><circle cx="1621.3" cy="1414.8" r="7.3"/><circle cx="1636.0" cy="1432.6" r="7.3"/><circle cx="1621.1" cy="1438.8" r="7.3"/><circle cx="1644.7" cy="1407.6" r="7.3"/><circle cx="1636.1" cy="1435.2" r="7.3"/><circle cx="1632.6" cy="1431.3" r="7.3"/><circle cx="1662.0" cy="1425.0" r="7.3"/><circle cx="1593.8" cy="1434.5" r="7.3"/><circle cx="1625.3" cy="1433.8" r="7.3"/><circle cx="1570.2" cy="1413.1" r="7.3"/><circle cx="1654.5" cy="1410.1" r="7.3"/><circle cx="1547.3" cy="1421.1" r="7.3"/><circle cx="1594.7" cy="1429.9" r="7.3"/><circle cx="1656.1" cy="1424.6" r="7.3"/><circle cx="1637.9" cy="1432.3" r="7.3"/><circle cx="1661.5" cy="1410.7" r="7.3"/><circle cx="1607.0" cy="1414.8" r="7.3"/><circle cx="1616.7" cy="1412.5" r="7.3"/><circle cx="1630.2" cy="1439.5" r="7.3"/><circle cx="1636.3" cy="1432.2" r="7.3"/><circle cx="1628.6" cy="1437.7" r="7.3"/><circle cx="1668.3" cy="1423.8" r="7.3"/><circle cx="1683.2" cy="1415.4" r="7.3"/><circle cx="1622.3" cy="1417.2" r="7.3"/><circle cx="1638.7" cy="1419.4" r="7.3"/><circle cx="1657.2" cy="1418.4" r="7.3"/><circle cx="1640.4" cy="1434.7" r="7.3"/><circle cx="1654.6" cy="1407.8" r="7.3"/><circle cx="1635.8" cy="1437.6" r="7.3"/><circle cx="1579.2" cy="1417.2" r="7.3"/><circle cx="1675.7" cy="1426.6" r="7.3"/><circle cx="1624.4" cy="1432.1" r="7.3"/><circle cx="1533.9" cy="1422.9" r="7.3"/><circle cx="1620.1" cy="1438.4" r="7.3"/><circle cx="1647.1" cy="1407.7" r="7.3"/><circle cx="1658.4" cy="1426.4" r="7.3"/><circle cx="1454.7" cy="1411.0" r="7.3"/><circle cx="1615.6" cy="1399.8" r="7.3"/><circle cx="1514.3" cy="1420.8" r="7.3"/><circle cx="1655.9" cy="1408.5" r="7.3"/><circle cx="1646.8" cy="1420.0" r="7.3"/><circle cx="1608.4" cy="1429.1" r="7.3"/><circle cx="1631.4" cy="1437.6" r="7.3"/><circle cx="1620.5" cy="1437.0" r="7.3"/><circle cx="1613.2" cy="1419.2" r="7.3"/><circle cx="1593.4" cy="1420.3" r="7.3"/><circle cx="1545.2" cy="1428.9" r="7.3"/><circle cx="1624.4" cy="1431.7" r="7.3"/><circle cx="1638.6" cy="1426.8" r="7.3"/><circle cx="1606.7" cy="1422.5" r="7.3"/><circle cx="1635.8" cy="1433.7" r="7.3"/><circle cx="1548.1" cy="1416.0" r="7.3"/><circle cx="1622.3" cy="1427.8" r="7.3"/><circle cx="1656.4" cy="1394.5" r="7.3"/><circle cx="1647.5" cy="1407.1" r="7.3"/><circle cx="1623.6" cy="1430.7" r="7.3"/><circle cx="1622.4" cy="1417.5" r="7.3"/><circle cx="1682.7" cy="1412.1" r="7.3"/><circle cx="1652.8" cy="1417.5" r="7.3"/><circle cx="1656.0" cy="1366.4" r="7.3"/><circle cx="1638.1" cy="1423.0" r="7.3"/><circle cx="1649.8" cy="1437.5" r="7.3"/><circle cx="1614.8" cy="1417.8" r="7.3"/><circle cx="1643.7" cy="1417.1" r="7.3"/><circle cx="1582.2" cy="1411.2" r="7.3"/><circle cx="1611.4" cy="1421.0" r="7.3"/><circle cx="1553.1" cy="1415.7" r="7.3"/><circle cx="1659.3" cy="1411.3" r="7.3"/><circle cx="1622.9" cy="1428.1" r="7.3"/><circle cx="1663.7" cy="1424.0" r="7.3"/><circle cx="1630.8" cy="1439.5" r="7.3"/><circle cx="1596.6" cy="1426.1" r="7.3"/><circle cx="1616.6" cy="1436.8" r="7.3"/><circle cx="1629.8" cy="1440.0" r="7.3"/><circle cx="1627.1" cy="1429.1" r="7.3"/><circle cx="1650.9" cy="1427.9" r="7.3"/><circle cx="1596.1" cy="1428.0" r="7.3"/><circle cx="1624.3" cy="1423.2" r="7.3"/><circle cx="1626.5" cy="1428.9" r="7.3"/><circle cx="1610.3" cy="1420.6" r="7.3"/><circle cx="1637.3" cy="1427.0" r="7.3"/><circle cx="1587.3" cy="1416.7" r="7.3"/><circle cx="1655.4" cy="1427.8" r="7.3"/><circle cx="1587.3" cy="1417.5" r="7.3"/><circle cx="1632.8" cy="1434.4" r="7.3"/><circle cx="1714.0" cy="1422.9" r="7.3"/><circle cx="1592.3" cy="1423.4" r="7.3"/><circle cx="1579.3" cy="1410.8" r="7.3"/><circle cx="1670.2" cy="1416.1" r="7.3"/><circle cx="1653.1" cy="1390.2" r="7.3"/><circle cx="1429.7" cy="1411.4" r="7.3"/><circle cx="1637.0" cy="1428.1" r="7.3"/><circle cx="1614.2" cy="1403.5" r="7.3"/><circle cx="1615.9" cy="1427.7" r="7.3"/><circle cx="1596.0" cy="1411.0" r="7.3"/><circle cx="1599.0" cy="1417.3" r="7.3"/><circle cx="1635.9" cy="1436.8" r="7.3"/><circle cx="1616.1" cy="1401.7" r="7.3"/><circle cx="1616.9" cy="1427.0" r="7.3"/><circle cx="1632.0" cy="1436.0" r="7.3"/><circle cx="1615.3" cy="1429.6" r="7.3"/><circle cx="1615.2" cy="1423.7" r="7.3"/><circle cx="1640.6" cy="1411.3" r="7.3"/><circle cx="1634.2" cy="1439.3" r="7.3"/><circle cx="1536.1" cy="1423.6" r="7.3"/><circle cx="1602.7" cy="1422.5" r="7.3"/><circle cx="1640.8" cy="1437.4" r="7.3"/><circle cx="1604.8" cy="1395.4" r="7.3"/><circle cx="1619.8" cy="1412.4" r="7.3"/><circle cx="1537.7" cy="1413.1" r="7.3"/><circle cx="1703.6" cy="1423.6" r="7.3"/><circle cx="1637.8" cy="1438.0" r="7.3"/><circle cx="1643.2" cy="1410.1" r="7.3"/><circle cx="1627.0" cy="1437.3" r="7.3"/><circle cx="1630.6" cy="1435.5" r="7.3"/><circle cx="1579.8" cy="1414.5" r="7.3"/><circle cx="1533.2" cy="1414.0" r="7.3"/><circle cx="1524.0" cy="1414.6" r="7.3"/><circle cx="1636.1" cy="1428.9" r="7.3"/><circle cx="1627.7" cy="1435.4" r="7.3"/><circle cx="1602.9" cy="1425.5" r="7.3"/><circle cx="1588.6" cy="1424.8" r="7.3"/><circle cx="1651.3" cy="1431.7" r="7.3"/><circle cx="1617.2" cy="1411.5" r="7.3"/><circle cx="1629.5" cy="1434.5" r="7.3"/><circle cx="1596.0" cy="1432.4" r="7.3"/><circle cx="1613.6" cy="1438.5" r="7.3"/><circle cx="1654.9" cy="1408.9" r="7.3"/><circle cx="1564.1" cy="1426.4" r="7.3"/><circle cx="1555.4" cy="1423.0" r="7.3"/><circle cx="1702.1" cy="1419.2" r="7.3"/><circle cx="1462.9" cy="1414.1" r="7.3"/><circle cx="1679.8" cy="1426.7" r="7.3"/><circle cx="1601.1" cy="1426.5" r="7.3"/><circle cx="1570.3" cy="1423.4" r="7.3"/><circle cx="1439.0" cy="1411.5" r="7.3"/><circle cx="1619.1" cy="1419.1" r="7.3"/><circle cx="1556.8" cy="1413.0" r="7.3"/><circle cx="1594.9" cy="1432.0" r="7.3"/><circle cx="1582.5" cy="1416.9" r="7.3"/><circle cx="1616.3" cy="1424.0" r="7.3"/><circle cx="1605.9" cy="1399.9" r="7.3"/><circle cx="1623.9" cy="1426.3" r="7.3"/><circle cx="1630.3" cy="1436.5" r="7.3"/><circle cx="1645.5" cy="1417.6" r="7.3"/><circle cx="1636.3" cy="1433.9" r="7.3"/><circle cx="1572.3" cy="1410.8" r="7.3"/><circle cx="1640.8" cy="1408.0" r="7.3"/><circle cx="1620.3" cy="1432.6" r="7.3"/><circle cx="1513.3" cy="1412.6" r="7.3"/><circle cx="1487.5" cy="1415.1" r="7.3"/><circle cx="1575.3" cy="1414.3" r="7.3"/><circle cx="1610.4" cy="1410.1" r="7.3"/><circle cx="1598.3" cy="1418.4" r="7.3"/><circle cx="1652.3" cy="1402.7" r="7.3"/><circle cx="1546.6" cy="1413.8" r="7.3"/><circle cx="1586.8" cy="1415.3" r="7.3"/><circle cx="1672.3" cy="1428.5" r="7.3"/><circle cx="1603.2" cy="1433.3" r="7.3"/><circle cx="1599.4" cy="1414.2" r="7.3"/><circle cx="1677.0" cy="1427.0" r="7.3"/><circle cx="1653.5" cy="1378.0" r="7.3"/><circle cx="1599.7" cy="1410.9" r="7.3"/><circle cx="1591.8" cy="1416.3" r="7.3"/><circle cx="1589.6" cy="1417.6" r="7.3"/><circle cx="1656.3" cy="1413.6" r="7.3"/><circle cx="1633.4" cy="1437.1" r="7.3"/><circle cx="1625.0" cy="1437.8" r="7.3"/><circle cx="1554.2" cy="1420.0" r="7.3"/><circle cx="1680.4" cy="1417.6" r="7.3"/><circle cx="1675.2" cy="1426.9" r="7.3"/><circle cx="1620.8" cy="1418.2" r="7.3"/><circle cx="1620.4" cy="1435.3" r="7.3"/><circle cx="1657.5" cy="1404.0" r="7.3"/><circle cx="1537.1" cy="1418.2" r="7.3"/><circle cx="1505.3" cy="1413.9" r="7.3"/><circle cx="1647.7" cy="1409.1" r="7.3"/><circle cx="1646.9" cy="1397.2" r="7.3"/><circle cx="1554.4" cy="1420.2" r="7.3"/><circle cx="1519.1" cy="1413.9" r="7.3"/><circle cx="1621.4" cy="1428.1" r="7.3"/><circle cx="1634.2" cy="1434.1" r="7.3"/><circle cx="1487.5" cy="1413.3" r="7.3"/><circle cx="1586.3" cy="1430.5" r="7.3"/><circle cx="1637.1" cy="1434.3" r="7.3"/><circle cx="1602.9" cy="1413.9" r="7.3"/><circle cx="1674.3" cy="1419.3" r="7.3"/><circle cx="1640.5" cy="1428.0" r="7.3"/><circle cx="1623.7" cy="1423.9" r="7.3"/><circle cx="1523.9" cy="1411.3" r="7.3"/><circle cx="1680.5" cy="1417.2" r="7.3"/><circle cx="1610.9" cy="1422.1" r="7.3"/><circle cx="1628.2" cy="1433.2" r="7.3"/><circle cx="1716.0" cy="1410.7" r="7.3"/><circle cx="1650.2" cy="1398.0" r="7.3"/><circle cx="1595.5" cy="1424.1" r="7.3"/><circle cx="1647.8" cy="1427.4" r="7.3"/><circle cx="1713.7" cy="1422.8" r="7.3"/><circle cx="1630.4" cy="1439.7" r="7.3"/><circle cx="1619.4" cy="1419.3" r="7.3"/><circle cx="1582.6" cy="1416.0" r="7.3"/><circle cx="1677.8" cy="1428.5" r="7.3"/><circle cx="1686.0" cy="1411.5" r="7.3"/><circle cx="1594.6" cy="1435.2" r="7.3"/><circle cx="1597.5" cy="1432.3" r="7.3"/><circle cx="1570.5" cy="1424.6" r="7.3"/><circle cx="1656.6" cy="1426.8" r="7.3"/><circle cx="1656.5" cy="1399.0" r="7.3"/><circle cx="1634.6" cy="1434.0" r="7.3"/><circle cx="1610.3" cy="1426.9" r="7.3"/><circle cx="1602.1" cy="1413.9" r="7.3"/><circle cx="1620.0" cy="1413.2" r="7.3"/><circle cx="1664.4" cy="1423.1" r="7.3"/><circle cx="1624.7" cy="1422.7" r="7.3"/><circle cx="1527.7" cy="1426.9" r="7.3"/><circle cx="1649.9" cy="1397.8" r="7.3"/><circle cx="1589.8" cy="1420.7" r="7.3"/><circle cx="1649.1" cy="1385.8" r="7.3"/><circle cx="1646.1" cy="1399.7" r="7.3"/><circle cx="1621.3" cy="1432.5" r="7.3"/><circle cx="1636.7" cy="1420.9" r="7.3"/><circle cx="1590.5" cy="1412.9" r="7.3"/><circle cx="1579.4" cy="1420.8" r="7.3"/><circle cx="1521.4" cy="1420.4" r="7.3"/><circle cx="1589.7" cy="1427.3" r="7.3"/><circle cx="1602.4" cy="1425.7" r="7.3"/><circle cx="1644.6" cy="1419.7" r="7.3"/><circle cx="1636.1" cy="1429.9" r="7.3"/><circle cx="1622.5" cy="1429.8" r="7.3"/><circle cx="1652.8" cy="1417.1" r="7.3"/><circle cx="1646.7" cy="1427.3" r="7.3"/><circle cx="1577.7" cy="1422.8" r="7.3"/><circle cx="1631.3" cy="1434.6" r="7.3"/><circle cx="1609.2" cy="1421.5" r="7.3"/><circle cx="1615.6" cy="1414.8" r="7.3"/><circle cx="1597.4" cy="1415.9" r="7.3"/><circle cx="1631.5" cy="1440.2" r="7.3"/><circle cx="1624.7" cy="1431.6" r="7.3"/><circle cx="1674.9" cy="1422.2" r="7.3"/><circle cx="1626.0" cy="1423.3" r="7.3"/><circle cx="1565.0" cy="1423.6" r="7.3"/><circle cx="1651.7" cy="1398.4" r="7.3"/><circle cx="1586.5" cy="1415.4" r="7.3"/><circle cx="1606.0" cy="1379.3" r="7.3"/><circle cx="1606.1" cy="1436.6" r="7.3"/><circle cx="1641.2" cy="1420.2" r="7.3"/><circle cx="1628.6" cy="1433.0" r="7.3"/><circle cx="1696.0" cy="1426.9" r="7.3"/><circle cx="1531.6" cy="1418.9" r="7.3"/><circle cx="1544.5" cy="1419.9" r="7.3"/><circle cx="1652.1" cy="1417.5" r="7.3"/><circle cx="1607.4" cy="1388.1" r="7.3"/><circle cx="1595.6" cy="1420.5" r="7.3"/><circle cx="1648.7" cy="1387.8" r="7.3"/><circle cx="1647.3" cy="1393.1" r="7.3"/><circle cx="1601.3" cy="1414.1" r="7.3"/><circle cx="1648.6" cy="1392.1" r="7.3"/><circle cx="1660.1" cy="1424.2" r="7.3"/><circle cx="1595.2" cy="1412.1" r="7.3"/><circle cx="1620.8" cy="1416.9" r="7.3"/><circle cx="1605.4" cy="1389.9" r="7.3"/><circle cx="1614.9" cy="1424.3" r="7.3"/><circle cx="1621.4" cy="1430.1" r="7.3"/><circle cx="1603.6" cy="1420.3" r="7.3"/><circle cx="1578.2" cy="1423.9" r="7.3"/><circle cx="1553.3" cy="1422.7" r="7.3"/><circle cx="1602.1" cy="1429.1" r="7.3"/><circle cx="1626.5" cy="1436.3" r="7.3"/><circle cx="1594.8" cy="1414.3" r="7.3"/><circle cx="1624.8" cy="1427.8" r="7.3"/><circle cx="1602.0" cy="1411.1" r="7.3"/><circle cx="1541.9" cy="1418.8" r="7.3"/><circle cx="1631.3" cy="1439.0" r="7.3"/><circle cx="1560.8" cy="1430.6" r="7.3"/><circle cx="1525.7" cy="1420.3" r="7.3"/><circle cx="1616.4" cy="1401.7" r="7.3"/><circle cx="1592.5" cy="1415.1" r="7.3"/><circle cx="1619.1" cy="1433.0" r="7.3"/><circle cx="1620.1" cy="1416.1" r="7.3"/><circle cx="1622.0" cy="1416.1" r="7.3"/><circle cx="1620.0" cy="1428.3" r="7.3"/><circle cx="1629.8" cy="1438.3" r="7.3"/><circle cx="1578.8" cy="1426.6" r="7.3"/><circle cx="1609.4" cy="1408.6" r="7.3"/><circle cx="1625.3" cy="1437.8" r="7.3"/><circle cx="1651.5" cy="1420.9" r="7.3"/><circle cx="1625.3" cy="1423.7" r="7.3"/><circle cx="1663.7" cy="1413.4" r="7.3"/><circle cx="1535.1" cy="1414.5" r="7.3"/><circle cx="1608.9" cy="1400.9" r="7.3"/><circle cx="1648.7" cy="1424.1" r="7.3"/><circle cx="1655.4" cy="1381.3" r="7.3"/><circle cx="1620.7" cy="1426.5" r="7.3"/><circle cx="1622.3" cy="1426.9" r="7.3"/><circle cx="1564.7" cy="1423.1" r="7.3"/><circle cx="1643.8" cy="1401.4" r="7.3"/><circle cx="1626.8" cy="1439.4" r="7.3"/><circle cx="1692.0" cy="1422.4" r="7.3"/><circle cx="1689.2" cy="1428.3" r="7.3"/><circle cx="1596.0" cy="1420.0" r="7.3"/><circle cx="1618.6" cy="1410.2" r="7.3"/><circle cx="1589.7" cy="1420.9" r="7.3"/><circle cx="1613.5" cy="1414.6" r="7.3"/><circle cx="1628.0" cy="1434.3" r="7.3"/><circle cx="1622.9" cy="1428.2" r="7.3"/><circle cx="1603.2" cy="1422.4" r="7.3"/><circle cx="1666.2" cy="1429.8" r="7.3"/><circle cx="1624.9" cy="1433.6" r="7.3"/><circle cx="1713.9" cy="1411.2" r="7.3"/><circle cx="1676.6" cy="1411.8" r="7.3"/><circle cx="1602.5" cy="1422.3" r="7.3"/><circle cx="1615.9" cy="1414.4" r="7.3"/><circle cx="1595.7" cy="1411.5" r="7.3"/><circle cx="1673.9" cy="1411.4" r="7.3"/><circle cx="1667.3" cy="1432.9" r="7.3"/><circle cx="1561.2" cy="1418.2" r="7.3"/><circle cx="1527.3" cy="1413.2" r="7.3"/><circle cx="1676.1" cy="1411.0" r="7.3"/><circle cx="1622.1" cy="1429.3" r="7.3"/><circle cx="1628.2" cy="1431.3" r="7.3"/><circle cx="1635.0" cy="1430.7" r="7.3"/><circle cx="1609.7" cy="1413.5" r="7.3"/><circle cx="1666.9" cy="1412.9" r="7.3"/><circle cx="1643.5" cy="1420.1" r="7.3"/><circle cx="1616.2" cy="1425.9" r="7.3"/><circle cx="1618.8" cy="1421.8" r="7.3"/><circle cx="1613.2" cy="1397.8" r="7.3"/><circle cx="1633.6" cy="1436.3" r="7.3"/><circle cx="1627.6" cy="1431.3" r="7.3"/><circle cx="1564.5" cy="1414.9" r="7.3"/><circle cx="1628.2" cy="1438.0" r="7.3"/><circle cx="1657.8" cy="1408.9" r="7.3"/><circle cx="1720.7" cy="1418.1" r="7.3"/><circle cx="1629.3" cy="1433.1" r="7.3"/><circle cx="1537.1" cy="1420.4" r="7.3"/><circle cx="1672.9" cy="1418.4" r="7.3"/><circle cx="1491.3" cy="1421.6" r="7.3"/><circle cx="1638.8" cy="1429.6" r="7.3"/><circle cx="1644.3" cy="1430.2" r="7.3"/><circle cx="1570.0" cy="1411.3" r="7.3"/><circle cx="1503.8" cy="1411.3" r="7.3"/><circle cx="1616.1" cy="1431.5" r="7.3"/><circle cx="1565.4" cy="1416.5" r="7.3"/><circle cx="1566.2" cy="1421.0" r="7.3"/><circle cx="1563.7" cy="1428.4" r="7.3"/><circle cx="1641.0" cy="1433.3" r="7.3"/><circle cx="1627.0" cy="1439.8" r="7.3"/><circle cx="1636.8" cy="1428.7" r="7.3"/><circle cx="1644.0" cy="1415.8" r="7.3"/><circle cx="1462.4" cy="1416.5" r="7.3"/><circle cx="1619.7" cy="1437.2" r="7.3"/><circle cx="1635.2" cy="1431.6" r="7.3"/><circle cx="1567.9" cy="1423.8" r="7.3"/><circle cx="1617.4" cy="1403.3" r="7.3"/><circle cx="1678.5" cy="1417.9" r="7.3"/><circle cx="1552.1" cy="1411.5" r="7.3"/><circle cx="1591.8" cy="1423.9" r="7.3"/><circle cx="1639.9" cy="1417.7" r="7.3"/><circle cx="1645.7" cy="1437.5" r="7.3"/><circle cx="1641.0" cy="1418.2" r="7.3"/><circle cx="1599.8" cy="1430.4" r="7.3"/><circle cx="1628.3" cy="1437.5" r="7.3"/><circle cx="1638.6" cy="1430.0" r="7.3"/><circle cx="1613.7" cy="1422.6" r="7.3"/><circle cx="1553.2" cy="1417.8" r="7.3"/><circle cx="1601.0" cy="1426.3" r="7.3"/><circle cx="1467.5" cy="1411.0" r="7.3"/><circle cx="1570.4" cy="1412.8" r="7.3"/><circle cx="1550.7" cy="1423.2" r="7.3"/><circle cx="1626.5" cy="1428.8" r="7.3"/><circle cx="1616.9" cy="1403.0" r="7.3"/><circle cx="1622.8" cy="1437.6" r="7.3"/><circle cx="1547.1" cy="1419.0" r="7.3"/><circle cx="1561.4" cy="1422.2" r="7.3"/><circle cx="1660.2" cy="1421.4" r="7.3"/><circle cx="1595.8" cy="1422.6" r="7.3"/><circle cx="1613.3" cy="1415.7" r="7.3"/><circle cx="1584.4" cy="1426.3" r="7.3"/><circle cx="1573.7" cy="1430.6" r="7.3"/><circle cx="1593.9" cy="1414.9" r="7.3"/><circle cx="1683.1" cy="1412.3" r="7.3"/><circle cx="1599.3" cy="1411.8" r="7.3"/><circle cx="1646.9" cy="1415.1" r="7.3"/><circle cx="1648.9" cy="1419.6" r="7.3"/><circle cx="1603.3" cy="1429.7" r="7.3"/><circle cx="1631.3" cy="1434.9" r="7.3"/><circle cx="1450.8" cy="1411.4" r="7.3"/><circle cx="1618.2" cy="1433.2" r="7.3"/><circle cx="1499.1" cy="1418.3" r="7.3"/><circle cx="1636.2" cy="1430.0" r="7.3"/><circle cx="1628.1" cy="1430.7" r="7.3"/><circle cx="1685.9" cy="1416.7" r="7.3"/><circle cx="1596.7" cy="1417.8" r="7.3"/><circle cx="1687.1" cy="1422.9" r="7.3"/><circle cx="1624.7" cy="1426.1" r="7.3"/><circle cx="1655.6" cy="1427.7" r="7.3"/><circle cx="1577.9" cy="1431.9" r="7.3"/><circle cx="1595.0" cy="1413.3" r="7.3"/><circle cx="1582.5" cy="1411.7" r="7.3"/><circle cx="1603.6" cy="1425.9" r="7.3"/><circle cx="1632.4" cy="1439.2" r="7.3"/><circle cx="1594.5" cy="1415.4" r="7.3"/><circle cx="1658.3" cy="1421.1" r="7.3"/><circle cx="1628.4" cy="1433.1" r="7.3"/><circle cx="1617.1" cy="1403.8" r="7.3"/><circle cx="1686.0" cy="1423.4" r="7.3"/><circle cx="1596.6" cy="1411.4" r="7.3"/><circle cx="1534.8" cy="1421.0" r="7.3"/><circle cx="1599.1" cy="1435.3" r="7.3"/><circle cx="1576.2" cy="1419.9" r="7.3"/><circle cx="1630.3" cy="1439.4" r="7.3"/><circle cx="1609.9" cy="1425.3" r="7.3"/><circle cx="1639.3" cy="1429.7" r="7.3"/><circle cx="1634.9" cy="1425.0" r="7.3"/><circle cx="1606.5" cy="1423.4" r="7.3"/><circle cx="1645.6" cy="1395.8" r="7.3"/><circle cx="1592.3" cy="1415.6" r="7.3"/><circle cx="1648.3" cy="1404.8" r="7.3"/><circle cx="1691.3" cy="1423.6" r="7.3"/><circle cx="1665.1" cy="1428.4" r="7.3"/><circle cx="1583.5" cy="1432.6" r="7.3"/><circle cx="1609.9" cy="1399.4" r="7.3"/><circle cx="1571.7" cy="1424.3" r="7.3"/><circle cx="1536.7" cy="1419.0" r="7.3"/><circle cx="1596.1" cy="1432.4" r="7.3"/><circle cx="1687.0" cy="1428.8" r="7.3"/><circle cx="1614.6" cy="1427.3" r="7.3"/><circle cx="1559.9" cy="1421.2" r="7.3"/><circle cx="1636.6" cy="1424.7" r="7.3"/><circle cx="1606.2" cy="1399.3" r="7.3"/><circle cx="1597.0" cy="1416.9" r="7.3"/><circle cx="1660.7" cy="1434.7" r="7.3"/><circle cx="1641.6" cy="1425.8" r="7.3"/><circle cx="1685.4" cy="1413.1" r="7.3"/><circle cx="1673.5" cy="1418.5" r="7.3"/><circle cx="1645.0" cy="1425.4" r="7.3"/><circle cx="1629.6" cy="1432.9" r="7.3"/><circle cx="1607.2" cy="1384.5" r="7.3"/><circle cx="1646.0" cy="1402.3" r="7.3"/><circle cx="1538.4" cy="1419.5" r="7.3"/><circle cx="1639.5" cy="1430.6" r="7.3"/><circle cx="1610.9" cy="1398.4" r="7.3"/><circle cx="1643.6" cy="1420.3" r="7.3"/><circle cx="1536.9" cy="1412.1" r="7.3"/><circle cx="1652.2" cy="1412.3" r="7.3"/><circle cx="1598.5" cy="1416.2" r="7.3"/><circle cx="1619.9" cy="1419.1" r="7.3"/><circle cx="1461.3" cy="1413.8" r="7.3"/><circle cx="1638.2" cy="1426.3" r="7.3"/><circle cx="1503.8" cy="1413.8" r="7.3"/><circle cx="1678.3" cy="1421.6" r="7.3"/><circle cx="1580.4" cy="1427.5" r="7.3"/><circle cx="1669.4" cy="1410.7" r="7.3"/><circle cx="1639.3" cy="1423.2" r="7.3"/><circle cx="1575.2" cy="1413.7" r="7.3"/><circle cx="1593.9" cy="1415.7" r="7.3"/><circle cx="1541.2" cy="1417.2" r="7.3"/><circle cx="1621.1" cy="1424.2" r="7.3"/><circle cx="1435.1" cy="1411.0" r="7.3"/><circle cx="1596.6" cy="1416.5" r="7.3"/><circle cx="1481.3" cy="1414.2" r="7.3"/><circle cx="1614.2" cy="1411.1" r="7.3"/><circle cx="1585.5" cy="1417.5" r="7.3"/><circle cx="1641.0" cy="1434.5" r="7.3"/><circle cx="1603.7" cy="1423.1" r="7.3"/><circle cx="1667.1" cy="1411.5" r="7.3"/><circle cx="1629.0" cy="1432.8" r="7.3"/><circle cx="1617.7" cy="1414.3" r="7.3"/><circle cx="1659.1" cy="1424.2" r="7.3"/><circle cx="1609.2" cy="1437.0" r="7.3"/><circle cx="1657.9" cy="1385.7" r="7.3"/><circle cx="1609.8" cy="1387.6" r="7.3"/><circle cx="1683.4" cy="1426.2" r="7.3"/><circle cx="1673.5" cy="1415.5" r="7.3"/><circle cx="1656.4" cy="1400.8" r="7.3"/><circle cx="1677.5" cy="1413.1" r="7.3"/><circle cx="1640.0" cy="1418.5" r="7.3"/><circle cx="1530.0" cy="1422.7" r="7.3"/><circle cx="1679.9" cy="1423.6" r="7.3"/><circle cx="1644.8" cy="1412.7" r="7.3"/><circle cx="1464.2" cy="1415.5" r="7.3"/><circle cx="1597.5" cy="1431.1" r="7.3"/><circle cx="1503.6" cy="1417.0" r="7.3"/><circle cx="1660.0" cy="1417.3" r="7.3"/><circle cx="1576.3" cy="1423.9" r="7.3"/><circle cx="1606.9" cy="1384.8" r="7.3"/><circle cx="1687.4" cy="1421.8" r="7.3"/><circle cx="1629.3" cy="1434.0" r="7.3"/><circle cx="1622.5" cy="1418.7" r="7.3"/><circle cx="1620.2" cy="1438.4" r="7.3"/><circle cx="1624.8" cy="1420.4" r="7.3"/><circle cx="1637.5" cy="1437.5" r="7.3"/><circle cx="1623.4" cy="1423.8" r="7.3"/><circle cx="1625.1" cy="1426.9" r="7.3"/><circle cx="1671.9" cy="1421.1" r="7.3"/><circle cx="1606.8" cy="1415.9" r="7.3"/><circle cx="1621.2" cy="1431.5" r="7.3"/><circle cx="1654.9" cy="1395.9" r="7.3"/><circle cx="1633.4" cy="1439.2" r="7.3"/><circle cx="1524.5" cy="1420.5" r="7.3"/><circle cx="1596.4" cy="1415.9" r="7.3"/><circle cx="1607.9" cy="1408.8" r="7.3"/><circle cx="1595.0" cy="1424.3" r="7.3"/><circle cx="1597.5" cy="1421.0" r="7.3"/><circle cx="1596.8" cy="1412.9" r="7.3"/><circle cx="1654.4" cy="1434.6" r="7.3"/><circle cx="1590.6" cy="1418.7" r="7.3"/><circle cx="1651.3" cy="1387.8" r="7.3"/><circle cx="1680.6" cy="1416.1" r="7.3"/><circle cx="1535.2" cy="1417.4" r="7.3"/><circle cx="1599.0" cy="1410.8" r="7.3"/><circle cx="1668.9" cy="1431.2" r="7.3"/><circle cx="1665.3" cy="1420.6" r="7.3"/><circle cx="1624.7" cy="1422.7" r="7.3"/><circle cx="1642.0" cy="1404.3" r="7.3"/><circle cx="1630.3" cy="1439.8" r="7.3"/><circle cx="1622.4" cy="1425.5" r="7.3"/><circle cx="1535.1" cy="1414.1" r="7.3"/><circle cx="1620.6" cy="1422.5" r="7.3"/><circle cx="1572.7" cy="1416.8" r="7.3"/><circle cx="1644.4" cy="1420.1" r="7.3"/><circle cx="1612.0" cy="1407.5" r="7.3"/><circle cx="1662.3" cy="1428.0" r="7.3"/><circle cx="1633.4" cy="1431.3" r="7.3"/><circle cx="1641.6" cy="1406.8" r="7.3"/><circle cx="1662.9" cy="1426.8" r="7.3"/><circle cx="1627.8" cy="1431.0" r="7.3"/><circle cx="1597.2" cy="1414.9" r="7.3"/><circle cx="1633.6" cy="1438.0" r="7.3"/><circle cx="1647.3" cy="1391.2" r="7.3"/><circle cx="1658.0" cy="1416.2" r="7.3"/><circle cx="1613.6" cy="1410.7" r="7.3"/><circle cx="1667.3" cy="1423.4" r="7.3"/><circle cx="1583.4" cy="1428.7" r="7.3"/><circle cx="1675.1" cy="1411.2" r="7.3"/><circle cx="1619.8" cy="1418.3" r="7.3"/><circle cx="1692.2" cy="1424.9" r="7.3"/><circle cx="1617.7" cy="1413.8" r="7.3"/><circle cx="1613.4" cy="1409.9" r="7.3"/><circle cx="1683.1" cy="1415.5" r="7.3"/><circle cx="1661.2" cy="1423.9" r="7.3"/><circle cx="1642.7" cy="1437.1" r="7.3"/><circle cx="1657.7" cy="1411.0" r="7.3"/><circle cx="1628.1" cy="1433.3" r="7.3"/><circle cx="1449.8" cy="1412.6" r="7.3"/><circle cx="1634.6" cy="1436.7" r="7.3"/><circle cx="1595.2" cy="1416.5" r="7.3"/><circle cx="1635.8" cy="1436.6" r="7.3"/><circle cx="1625.5" cy="1424.8" r="7.3"/><circle cx="1629.8" cy="1434.6" r="7.3"/><circle cx="1583.9" cy="1414.1" r="7.3"/><circle cx="1635.0" cy="1439.8" r="7.3"/><circle cx="1596.6" cy="1424.7" r="7.3"/><circle cx="1682.6" cy="1417.6" r="7.3"/><circle cx="1646.6" cy="1424.7" r="7.3"/><circle cx="1645.2" cy="1410.7" r="7.3"/><circle cx="1643.1" cy="1432.5" r="7.3"/><circle cx="1619.7" cy="1421.6" r="7.3"/><circle cx="1642.2" cy="1425.3" r="7.3"/><circle cx="1668.3" cy="1427.9" r="7.3"/><circle cx="1640.5" cy="1439.0" r="7.3"/><circle cx="1541.1" cy="1417.9" r="7.3"/><circle cx="1433.7" cy="1411.7" r="7.3"/><circle cx="1557.9" cy="1422.1" r="7.3"/><circle cx="1596.9" cy="1427.2" r="7.3"/><circle cx="1626.6" cy="1428.5" r="7.3"/><circle cx="1548.3" cy="1425.2" r="7.3"/><circle cx="1570.8" cy="1413.3" r="7.3"/><circle cx="1692.9" cy="1414.7" r="7.3"/><circle cx="1677.3" cy="1422.8" r="7.3"/><circle cx="1688.5" cy="1417.7" r="7.3"/><circle cx="1556.6" cy="1410.6" r="7.3"/><circle cx="1512.2" cy="1422.0" r="7.3"/><circle cx="1572.2" cy="1419.1" r="7.3"/><circle cx="1632.9" cy="1433.8" r="7.3"/><circle cx="1621.2" cy="1430.7" r="7.3"/><circle cx="1641.9" cy="1409.3" r="7.3"/><circle cx="1477.3" cy="1415.7" r="7.3"/><circle cx="1636.5" cy="1436.2" r="7.3"/><circle cx="1605.2" cy="1415.9" r="7.3"/><circle cx="1664.7" cy="1434.8" r="7.3"/><circle cx="1620.4" cy="1409.9" r="7.3"/><circle cx="1650.7" cy="1433.7" r="7.3"/><circle cx="1591.0" cy="1416.4" r="7.3"/><circle cx="1642.8" cy="1404.4" r="7.3"/><circle cx="1619.4" cy="1429.5" r="7.3"/><circle cx="1631.4" cy="1437.7" r="7.3"/><circle cx="1636.1" cy="1421.3" r="7.3"/><circle cx="1670.7" cy="1418.0" r="7.3"/><circle cx="1659.1" cy="1429.4" r="7.3"/><circle cx="1596.2" cy="1420.0" r="7.3"/><circle cx="1601.9" cy="1433.2" r="7.3"/><circle cx="1629.1" cy="1436.0" r="7.3"/><circle cx="1558.5" cy="1413.1" r="7.3"/><circle cx="1598.9" cy="1432.4" r="7.3"/><circle cx="1650.9" cy="1435.7" r="7.3"/><circle cx="1634.2" cy="1439.5" r="7.3"/><circle cx="1657.3" cy="1374.3" r="7.3"/><circle cx="1658.3" cy="1431.4" r="7.3"/><circle cx="1570.3" cy="1419.2" r="7.3"/><circle cx="1573.7" cy="1413.2" r="7.3"/><circle cx="1626.1" cy="1427.1" r="7.3"/><circle cx="1627.4" cy="1434.0" r="7.3"/><circle cx="1609.5" cy="1405.1" r="7.3"/><circle cx="1634.2" cy="1433.1" r="7.3"/><circle cx="1656.8" cy="1385.9" r="7.3"/><circle cx="1654.6" cy="1417.0" r="7.3"/><circle cx="1659.0" cy="1421.2" r="7.3"/><circle cx="1493.9" cy="1415.8" r="7.3"/><circle cx="1669.6" cy="1421.0" r="7.3"/><circle cx="1639.6" cy="1428.1" r="7.3"/><circle cx="1631.0" cy="1437.0" r="7.3"/><circle cx="1648.3" cy="1406.8" r="7.3"/><circle cx="1627.8" cy="1434.7" r="7.3"/><circle cx="1591.6" cy="1428.7" r="7.3"/><circle cx="1674.1" cy="1412.7" r="7.3"/><circle cx="1641.2" cy="1410.1" r="7.3"/><circle cx="1605.0" cy="1433.7" r="7.3"/><circle cx="1597.1" cy="1419.3" r="7.3"/><circle cx="1660.5" cy="1411.9" r="7.3"/><circle cx="1661.0" cy="1431.3" r="7.3"/><circle cx="1669.1" cy="1417.4" r="7.3"/><circle cx="1671.0" cy="1427.2" r="7.3"/><circle cx="1602.2" cy="1419.5" r="7.3"/><circle cx="1611.4" cy="1428.0" r="7.3"/><circle cx="1690.0" cy="1427.9" r="7.3"/><circle cx="1706.7" cy="1415.9" r="7.3"/><circle cx="1621.2" cy="1417.3" r="7.3"/><circle cx="1571.6" cy="1420.3" r="7.3"/><circle cx="1565.7" cy="1413.0" r="7.3"/><circle cx="1611.4" cy="1410.6" r="7.3"/><circle cx="1653.5" cy="1387.3" r="7.3"/><circle cx="1671.1" cy="1422.2" r="7.3"/><circle cx="1576.6" cy="1429.9" r="7.3"/><circle cx="1600.2" cy="1430.8" r="7.3"/><circle cx="1511.1" cy="1418.5" r="7.3"/><circle cx="1631.9" cy="1439.4" r="7.3"/><circle cx="1592.0" cy="1431.2" r="7.3"/><circle cx="1527.1" cy="1413.8" r="7.3"/><circle cx="1608.8" cy="1388.6" r="7.3"/><circle cx="1525.5" cy="1415.4" r="7.3"/><circle cx="1608.5" cy="1401.0" r="7.3"/><circle cx="1645.2" cy="1423.2" r="7.3"/><circle cx="1608.1" cy="1389.0" r="7.3"/><circle cx="1591.2" cy="1418.2" r="7.3"/><circle cx="1625.9" cy="1426.3" r="7.3"/><circle cx="1490.7" cy="1416.7" r="7.3"/><circle cx="1642.8" cy="1433.6" r="7.3"/><circle cx="1640.1" cy="1431.8" r="7.3"/><circle cx="1571.1" cy="1426.5" r="7.3"/><circle cx="1549.7" cy="1425.0" r="7.3"/><circle cx="1656.2" cy="1405.7" r="7.3"/><circle cx="1630.1" cy="1435.8" r="7.3"/><circle cx="1572.0" cy="1424.2" r="7.3"/><circle cx="1639.2" cy="1417.8" r="7.3"/><circle cx="1638.7" cy="1439.2" r="7.3"/><circle cx="1611.1" cy="1436.8" r="7.3"/><circle cx="1616.8" cy="1425.7" r="7.3"/><circle cx="1509.8" cy="1411.5" r="7.3"/><circle cx="1560.9" cy="1414.0" r="7.3"/><circle cx="1624.5" cy="1428.6" r="7.3"/><circle cx="1654.9" cy="1425.9" r="7.3"/><circle cx="1582.8" cy="1412.6" r="7.3"/><circle cx="1642.9" cy="1414.7" r="7.3"/><circle cx="1646.7" cy="1401.3" r="7.3"/><circle cx="1618.9" cy="1425.6" r="7.3"/><circle cx="1659.7" cy="1416.6" r="7.3"/><circle cx="1503.0" cy="1412.5" r="7.3"/><circle cx="1610.1" cy="1430.7" r="7.3"/><circle cx="1668.6" cy="1425.0" r="7.3"/><circle cx="1690.6" cy="1419.6" r="7.3"/><circle cx="1622.1" cy="1431.2" r="7.3"/><circle cx="1671.8" cy="1414.3" r="7.3"/><circle cx="1619.2" cy="1410.5" r="7.3"/><circle cx="1627.4" cy="1436.8" r="7.3"/><circle cx="1520.8" cy="1418.6" r="7.3"/><circle cx="1608.7" cy="1426.7" r="7.3"/><circle cx="1629.1" cy="1439.7" r="7.3"/><circle cx="1672.8" cy="1427.2" r="7.3"/><circle cx="1629.1" cy="1430.8" r="7.3"/><circle cx="1582.6" cy="1423.7" r="7.3"/><circle cx="1666.1" cy="1428.6" r="7.3"/><circle cx="1459.9" cy="1411.5" r="7.3"/><circle cx="1459.3" cy="1415.7" r="7.3"/><circle cx="1638.0" cy="1417.5" r="7.3"/><circle cx="1690.4" cy="1426.5" r="7.3"/><circle cx="1633.2" cy="1432.1" r="7.3"/><circle cx="1658.3" cy="1422.9" r="7.3"/><circle cx="1604.7" cy="1408.4" r="7.3"/><circle cx="1594.4" cy="1416.8" r="7.3"/><circle cx="1616.8" cy="1437.5" r="7.3"/><circle cx="1624.6" cy="1432.9" r="7.3"/><circle cx="1656.8" cy="1366.8" r="7.3"/><circle cx="1610.3" cy="1436.9" r="7.3"/><circle cx="1614.7" cy="1433.1" r="7.3"/><circle cx="1648.7" cy="1393.8" r="7.3"/><circle cx="1636.9" cy="1439.6" r="7.3"/><circle cx="1606.1" cy="1423.4" r="7.3"/><circle cx="1590.0" cy="1429.2" r="7.3"/><circle cx="1619.7" cy="1415.3" r="7.3"/><circle cx="1566.3" cy="1423.1" r="7.3"/><circle cx="1659.9" cy="1414.9" r="7.3"/><circle cx="1654.2" cy="1396.4" r="7.3"/><circle cx="1703.2" cy="1423.7" r="7.3"/><circle cx="1456.6" cy="1411.5" r="7.3"/><circle cx="1572.8" cy="1424.8" r="7.3"/><circle cx="1653.4" cy="1423.7" r="7.3"/><circle cx="1519.2" cy="1412.3" r="7.3"/><circle cx="1652.7" cy="1418.6" r="7.3"/><circle cx="1638.1" cy="1416.4" r="7.3"/><circle cx="1635.5" cy="1435.8" r="7.3"/><circle cx="1566.8" cy="1423.5" r="7.3"/><circle cx="1639.3" cy="1428.0" r="7.3"/><circle cx="1634.5" cy="1434.4" r="7.3"/><circle cx="1629.7" cy="1434.9" r="7.3"/><circle cx="1636.0" cy="1430.8" r="7.3"/><circle cx="1629.9" cy="1438.4" r="7.3"/><circle cx="1640.0" cy="1436.0" r="7.3"/><circle cx="1625.5" cy="1424.1" r="7.3"/><circle cx="1631.7" cy="1437.5" r="7.3"/><circle cx="1643.7" cy="1407.7" r="7.3"/><circle cx="1632.9" cy="1435.2" r="7.3"/><circle cx="1631.3" cy="1435.8" r="7.3"/><circle cx="1524.1" cy="1412.0" r="7.3"/><circle cx="1558.4" cy="1419.0" r="7.3"/><circle cx="1603.5" cy="1421.5" r="7.3"/><circle cx="1595.1" cy="1415.9" r="7.3"/><circle cx="1623.9" cy="1426.9" r="7.3"/><circle cx="1582.9" cy="1429.2" r="7.3"/><circle cx="1678.9" cy="1427.7" r="7.3"/><circle cx="1501.5" cy="1418.5" r="7.3"/><circle cx="1590.3" cy="1435.5" r="7.3"/><circle cx="1625.0" cy="1425.1" r="7.3"/><circle cx="1574.1" cy="1430.7" r="7.3"/><circle cx="1582.5" cy="1411.9" r="7.3"/><circle cx="1621.2" cy="1438.9" r="7.3"/><circle cx="1624.1" cy="1421.0" r="7.3"/><circle cx="1431.0" cy="1411.3" r="7.3"/><circle cx="1642.1" cy="1415.3" r="7.3"/><circle cx="1616.7" cy="1420.9" r="7.3"/><circle cx="1655.8" cy="1394.1" r="7.3"/><circle cx="1701.0" cy="1411.9" r="7.3"/><circle cx="1589.7" cy="1422.3" r="7.3"/><circle cx="1651.7" cy="1400.6" r="7.3"/><circle cx="1655.1" cy="1435.3" r="7.3"/><circle cx="1629.8" cy="1439.0" r="7.3"/><circle cx="1592.6" cy="1428.2" r="7.3"/><circle cx="1624.2" cy="1423.2" r="7.3"/><circle cx="1582.6" cy="1411.3" r="7.3"/><circle cx="1629.1" cy="1436.0" r="7.3"/><circle cx="1608.2" cy="1393.6" r="7.3"/><circle cx="1626.5" cy="1429.7" r="7.3"/><circle cx="1664.7" cy="1417.9" r="7.3"/><circle cx="1649.9" cy="1425.0" r="7.3"/><circle cx="1707.2" cy="1411.6" r="7.3"/><circle cx="1578.1" cy="1413.5" r="7.3"/><circle cx="1566.2" cy="1415.5" r="7.3"/><circle cx="1576.4" cy="1413.7" r="7.3"/><circle cx="1672.8" cy="1420.6" r="7.3"/><circle cx="1615.6" cy="1398.4" r="7.3"/><circle cx="1612.4" cy="1405.1" r="7.3"/><circle cx="1594.2" cy="1418.4" r="7.3"/><circle cx="1667.2" cy="1414.5" r="7.3"/><circle cx="1604.8" cy="1424.6" r="7.3"/><circle cx="1616.2" cy="1434.9" r="7.3"/><circle cx="1599.2" cy="1424.4" r="7.3"/><circle cx="1633.9" cy="1434.9" r="7.3"/><circle cx="1620.3" cy="1412.0" r="7.3"/><circle cx="1686.4" cy="1417.3" r="7.3"/><circle cx="1597.9" cy="1419.1" r="7.3"/><circle cx="1625.3" cy="1427.7" r="7.3"/><circle cx="1640.1" cy="1419.1" r="7.3"/><circle cx="1612.8" cy="1410.0" r="7.3"/><circle cx="1675.1" cy="1410.8" r="7.3"/><circle cx="1618.2" cy="1439.0" r="7.3"/><circle cx="1595.2" cy="1419.0" r="7.3"/><circle cx="1588.5" cy="1435.4" r="7.3"/><circle cx="1479.4" cy="1413.8" r="7.3"/><circle cx="1479.8" cy="1412.4" r="7.3"/><circle cx="1544.1" cy="1412.2" r="7.3"/><circle cx="1655.7" cy="1411.6" r="7.3"/><circle cx="1521.5" cy="1420.8" r="7.3"/><circle cx="1587.8" cy="1431.8" r="7.3"/><circle cx="1619.7" cy="1420.6" r="7.3"/><circle cx="1639.8" cy="1416.1" r="7.3"/><circle cx="1649.2" cy="1409.1" r="7.3"/><circle cx="1628.4" cy="1440.5" r="7.3"/><circle cx="1649.3" cy="1411.2" r="7.3"/><circle cx="1616.9" cy="1429.1" r="7.3"/><circle cx="1654.7" cy="1417.3" r="7.3"/><circle cx="1603.5" cy="1415.7" r="7.3"/><circle cx="1499.7" cy="1413.3" r="7.3"/><circle cx="1599.6" cy="1432.0" r="7.3"/><circle cx="1667.0" cy="1415.0" r="7.3"/><circle cx="1560.1" cy="1418.4" r="7.3"/><circle cx="1619.2" cy="1407.6" r="7.3"/><circle cx="1621.8" cy="1432.7" r="7.3"/><circle cx="1518.2" cy="1424.2" r="7.3"/><circle cx="1582.4" cy="1425.6" r="7.3"/><circle cx="1636.8" cy="1433.9" r="7.3"/><circle cx="1639.9" cy="1412.6" r="7.3"/><circle cx="1657.7" cy="1363.1" r="7.3"/><circle cx="1653.9" cy="1391.5" r="7.3"/><circle cx="1648.6" cy="1411.1" r="7.3"/><circle cx="1635.4" cy="1439.6" r="7.3"/><circle cx="1609.2" cy="1384.0" r="7.3"/><circle cx="1610.7" cy="1394.1" r="7.3"/><circle cx="1632.5" cy="1441.0" r="7.3"/><circle cx="1646.9" cy="1416.6" r="7.3"/><circle cx="1652.0" cy="1381.0" r="7.3"/><circle cx="1630.8" cy="1438.2" r="7.3"/><circle cx="1605.3" cy="1384.0" r="7.3"/><circle cx="1606.0" cy="1388.8" r="7.3"/><circle cx="1654.1" cy="1379.0" r="7.3"/><circle cx="1610.2" cy="1392.6" r="7.3"/><circle cx="1642.0" cy="1423.1" r="7.3"/><circle cx="1645.8" cy="1405.4" r="7.3"/><circle cx="1626.3" cy="1432.0" r="7.3"/><circle cx="1618.8" cy="1425.7" r="7.3"/><circle cx="1652.1" cy="1393.8" r="7.3"/><circle cx="1645.7" cy="1411.4" r="7.3"/><circle cx="1614.2" cy="1422.5" r="7.3"/><circle cx="1656.2" cy="1371.1" r="7.3"/><circle cx="1657.2" cy="1372.9" r="7.3"/><circle cx="1607.2" cy="1401.2" r="7.3"/><circle cx="1606.5" cy="1386.8" r="7.3"/><circle cx="1637.6" cy="1417.6" r="7.3"/><circle cx="1619.9" cy="1429.9" r="7.3"/><circle cx="1615.9" cy="1422.5" r="7.3"/><circle cx="1605.4" cy="1389.7" r="7.3"/><circle cx="1626.7" cy="1435.0" r="7.3"/><circle cx="1655.5" cy="1385.3" r="7.3"/><circle cx="1648.8" cy="1398.2" r="7.3"/><circle cx="1609.4" cy="1410.2" r="7.3"/><circle cx="1636.9" cy="1421.2" r="7.3"/><circle cx="1606.6" cy="1384.5" r="7.3"/><circle cx="1616.5" cy="1408.8" r="7.3"/><circle cx="1649.1" cy="1391.8" r="7.3"/><circle cx="1617.1" cy="1425.3" r="7.3"/><circle cx="1656.4" cy="1366.0" r="7.3"/><circle cx="1654.0" cy="1383.2" r="7.3"/><circle cx="1606.6" cy="1394.0" r="7.3"/><circle cx="1653.3" cy="1398.5" r="7.3"/><circle cx="1619.9" cy="1435.1" r="7.3"/><circle cx="1651.7" cy="1395.0" r="7.3"/><circle cx="1608.3" cy="1398.4" r="7.3"/><circle cx="1614.9" cy="1412.2" r="7.3"/><circle cx="1637.3" cy="1425.5" r="7.3"/><circle cx="1609.1" cy="1395.2" r="7.3"/><circle cx="1606.9" cy="1392.5" r="7.3"/><circle cx="1647.7" cy="1408.7" r="7.3"/><circle cx="1648.5" cy="1407.0" r="7.3"/><circle cx="1625.2" cy="1425.3" r="7.3"/><circle cx="1604.0" cy="1388.0" r="7.3"/><circle cx="1633.0" cy="1432.8" r="7.3"/><circle cx="1655.3" cy="1375.1" r="7.3"/><circle cx="1616.0" cy="1421.3" r="7.3"/><circle cx="1630.0" cy="1438.7" r="7.3"/><circle cx="1633.9" cy="1439.7" r="7.3"/><circle cx="1641.5" cy="1421.8" r="7.3"/><circle cx="1606.5" cy="1400.7" r="7.3"/><circle cx="1654.6" cy="1372.7" r="7.3"/><circle cx="1651.7" cy="1393.9" r="7.3"/><circle cx="1657.3" cy="1384.2" r="7.3"/><circle cx="1643.3" cy="1402.2" r="7.3"/><circle cx="1615.2" cy="1424.8" r="7.3"/><circle cx="1610.7" cy="1411.8" r="7.3"/><circle cx="1647.5" cy="1399.7" r="7.3"/><circle cx="1629.7" cy="1440.0" r="7.3"/><circle cx="1638.7" cy="1437.2" r="7.3"/><circle cx="1611.1" cy="1398.4" r="7.3"/><circle cx="1638.8" cy="1418.7" r="7.3"/><circle cx="1648.8" cy="1409.3" r="7.3"/><circle cx="1620.4" cy="1433.4" r="7.3"/><circle cx="1630.5" cy="1440.8" r="7.3"/><circle cx="1651.0" cy="1387.8" r="7.3"/><circle cx="1647.8" cy="1402.3" r="7.3"/><circle cx="1653.4" cy="1376.7" r="7.3"/><circle cx="1648.9" cy="1390.2" r="7.3"/><circle cx="1615.6" cy="1416.2" r="7.3"/><circle cx="1606.9" cy="1383.5" r="7.3"/><circle cx="1629.6" cy="1431.8" r="7.3"/><circle cx="1619.6" cy="1423.5" r="7.3"/><circle cx="1650.9" cy="1379.9" r="7.3"/><circle cx="1645.0" cy="1399.1" r="7.3"/><circle cx="1654.0" cy="1390.7" r="7.3"/><circle cx="1637.3" cy="1439.5" r="7.3"/><circle cx="1640.6" cy="1409.4" r="7.3"/><circle cx="1631.3" cy="1440.0" r="7.3"/><circle cx="1634.8" cy="1439.9" r="7.3"/><circle cx="1628.9" cy="1440.1" r="7.3"/><circle cx="1626.5" cy="1427.4" r="7.3"/><circle cx="1644.0" cy="1402.6" r="7.3"/><circle cx="1628.7" cy="1436.0" r="7.3"/><circle cx="1606.8" cy="1382.6" r="7.3"/><circle cx="1634.8" cy="1434.3" r="7.3"/><circle cx="1611.7" cy="1403.8" r="7.3"/><circle cx="1607.2" cy="1402.5" r="7.3"/><circle cx="1608.1" cy="1396.0" r="7.3"/><circle cx="1611.3" cy="1392.4" r="7.3"/><circle cx="1637.0" cy="1421.3" r="7.3"/><circle cx="1633.9" cy="1438.8" r="7.3"/><circle cx="1618.8" cy="1410.3" r="7.3"/><circle cx="1635.6" cy="1428.8" r="7.3"/><circle cx="1638.2" cy="1439.7" r="7.3"/><circle cx="1614.7" cy="1411.7" r="7.3"/><circle cx="1649.7" cy="1384.0" r="7.3"/><circle cx="1636.0" cy="1435.9" r="7.3"/><circle cx="1606.4" cy="1388.0" r="7.3"/><circle cx="1626.1" cy="1424.5" r="7.3"/><circle cx="1615.1" cy="1418.9" r="7.3"/><circle cx="1604.7" cy="1402.8" r="7.3"/><circle cx="1647.7" cy="1391.7" r="7.3"/><circle cx="1612.2" cy="1417.3" r="7.3"/><circle cx="1635.1" cy="1436.7" r="7.3"/><circle cx="1637.2" cy="1419.7" r="7.3"/><circle cx="1644.4" cy="1417.5" r="7.3"/><circle cx="1636.8" cy="1434.6" r="7.3"/><circle cx="1645.1" cy="1416.2" r="7.3"/><circle cx="1651.1" cy="1387.6" r="7.3"/><circle cx="1652.3" cy="1393.5" r="7.3"/><circle cx="1655.7" cy="1377.3" r="7.3"/><circle cx="1617.8" cy="1413.2" r="7.3"/><circle cx="1620.7" cy="1435.2" r="7.3"/><circle cx="1606.0" cy="1386.5" r="7.3"/><circle cx="1617.0" cy="1426.5" r="7.3"/><circle cx="1646.0" cy="1416.8" r="7.3"/><circle cx="1644.8" cy="1416.5" r="7.3"/><circle cx="1623.6" cy="1418.8" r="7.3"/><circle cx="1648.9" cy="1389.5" r="7.3"/><circle cx="1657.1" cy="1372.7" r="7.3"/><circle cx="1654.6" cy="1379.1" r="7.3"/><circle cx="1635.5" cy="1435.0" r="7.3"/><circle cx="1624.4" cy="1428.6" r="7.3"/><circle cx="1617.3" cy="1412.0" r="7.3"/><circle cx="1650.8" cy="1387.2" r="7.3"/><circle cx="1616.1" cy="1426.3" r="7.3"/><circle cx="1623.8" cy="1430.9" r="7.3"/><circle cx="1649.8" cy="1394.8" r="7.3"/><circle cx="1632.0" cy="1435.8" r="7.3"/><circle cx="1633.9" cy="1431.5" r="7.3"/><circle cx="1634.1" cy="1432.9" r="7.3"/><circle cx="1616.7" cy="1425.1" r="7.3"/><circle cx="1627.7" cy="1428.8" r="7.3"/><circle cx="1655.3" cy="1386.6" r="7.3"/><circle cx="1635.1" cy="1432.0" r="7.3"/><circle cx="1628.5" cy="1438.9" r="7.3"/><circle cx="1646.7" cy="1416.5" r="7.3"/><circle cx="1616.2" cy="1419.7" r="7.3"/><circle cx="1614.9" cy="1418.8" r="7.3"/><circle cx="1608.2" cy="1393.3" r="7.3"/><circle cx="1613.2" cy="1402.1" r="7.3"/><circle cx="1636.4" cy="1427.8" r="7.3"/><circle cx="1629.9" cy="1435.8" r="7.3"/><circle cx="1619.9" cy="1423.4" r="7.3"/><circle cx="1641.2" cy="1428.3" r="7.3"/><circle cx="1643.7" cy="1411.0" r="7.3"/><circle cx="1656.8" cy="1373.2" r="7.3"/><circle cx="1633.7" cy="1430.8" r="7.3"/><circle cx="1739.4" cy="1412.4" r="7.3"/><circle cx="1738.6" cy="1426.0" r="7.3"/><circle cx="1775.3" cy="1426.0" r="7.3"/><circle cx="1331.1" cy="1414.5" r="7.3"/><circle cx="1347.6" cy="1411.2" r="7.3"/><circle cx="1419.8" cy="1413.6" r="7.3"/><circle cx="1434.2" cy="1415.3" r="7.3"/><circle cx="1450.7" cy="1418.6" r="7.3"/><circle cx="1465.2" cy="1420.7" r="7.3"/><circle cx="1479.6" cy="1422.7" r="7.3"/><circle cx="1492.0" cy="1426.0" r="7.3"/><circle cx="1702.3" cy="1428.9" r="7.3"/><circle cx="1681.7" cy="1435.1" r="7.3"/><circle cx="1708.5" cy="1414.5" r="7.3"/>
</g>
<g fill="#74c5ad" fill-opacity="0.55">
<circle cx="1568.7" cy="1391.4" r="7.3"/><circle cx="1551.0" cy="1407.2" r="7.3"/><circle cx="1601.1" cy="1353.5" r="7.3"/><circle cx="1560.9" cy="1356.8" r="7.3"/><circle cx="1602.7" cy="1381.7" r="7.3"/><circle cx="1531.9" cy="1378.0" r="7.3"/><circle cx="1509.7" cy="1387.3" r="7.3"/><circle cx="1542.9" cy="1382.2" r="7.3"/><circle cx="1598.7" cy="1377.7" r="7.3"/><circle cx="1561.1" cy="1366.6" r="7.3"/><circle cx="1592.5" cy="1386.3" r="7.3"/><circle cx="1592.5" cy="1367.3" r="7.3"/><circle cx="1515.1" cy="1404.3" r="7.3"/><circle cx="1459.8" cy="1407.9" r="7.3"/><circle cx="1418.5" cy="1385.6" r="7.3"/><circle cx="1541.7" cy="1349.1" r="7.3"/><circle cx="1592.7" cy="1394.0" r="7.3"/><circle cx="1485.5" cy="1406.8" r="7.3"/><circle cx="1554.7" cy="1386.6" r="7.3"/><circle cx="1528.7" cy="1404.0" r="7.3"/><circle cx="1558.4" cy="1360.3" r="7.3"/><circle cx="1486.0" cy="1409.1" r="7.3"/><circle cx="1552.3" cy="1398.6" r="7.3"/><circle cx="1585.9" cy="1390.3" r="7.3"/><circle cx="1534.3" cy="1399.9" r="7.3"/><circle cx="1554.5" cy="1375.4" r="7.3"/><circle cx="1461.4" cy="1385.6" r="7.3"/><circle cx="1573.7" cy="1399.5" r="7.3"/><circle cx="1559.8" cy="1380.2" r="7.3"/><circle cx="1487.4" cy="1401.4" r="7.3"/><circle cx="1498.8" cy="1402.0" r="7.3"/><circle cx="1546.9" cy="1387.3" r="7.3"/><circle cx="1469.5" cy="1384.9" r="7.3"/><circle cx="1461.7" cy="1410.2" r="7.3"/><circle cx="1495.5" cy="1400.8" r="7.3"/><circle cx="1591.5" cy="1387.2" r="7.3"/><circle cx="1421.1" cy="1407.6" r="7.3"/><circle cx="1601.1" cy="1395.7" r="7.3"/><circle cx="1465.7" cy="1388.6" r="7.3"/><circle cx="1527.1" cy="1387.6" r="7.3"/><circle cx="1585.0" cy="1393.5" r="7.3"/><circle cx="1597.3" cy="1364.9" r="7.3"/><circle cx="1589.2" cy="1387.5" r="7.3"/><circle cx="1468.2" cy="1397.0" r="7.3"/><circle cx="1584.8" cy="1402.3" r="7.3"/><circle cx="1519.5" cy="1402.0" r="7.3"/><circle cx="1536.8" cy="1379.0" r="7.3"/><circle cx="1528.8" cy="1338.2" r="7.3"/><circle cx="1549.0" cy="1403.4" r="7.3"/><circle cx="1526.8" cy="1406.8" r="7.3"/><circle cx="1599.2" cy="1384.4" r="7.3"/><circle cx="1582.3" cy="1374.3" r="7.3"/><circle cx="1594.2" cy="1377.8" r="7.3"/><circle cx="1561.0" cy="1355.0" r="7.3"/><circle cx="1516.8" cy="1377.0" r="7.3"/><circle cx="1463.5" cy="1391.5" r="7.3"/><circle cx="1595.8" cy="1386.4" r="7.3"/><circle cx="1540.8" cy="1399.1" r="7.3"/><circle cx="1540.0" cy="1343.7" r="7.3"/><circle cx="1542.1" cy="1345.2" r="7.3"/><circle cx="1565.1" cy="1405.5" r="7.3"/><circle cx="1475.2" cy="1386.5" r="7.3"/><circle cx="1546.6" cy="1395.8" r="7.3"/><circle cx="1504.1" cy="1410.4" r="7.3"/><circle cx="1548.6" cy="1404.7" r="7.3"/><circle cx="1464.5" cy="1402.0" r="7.3"/><circle cx="1534.9" cy="1393.0" r="7.3"/><circle cx="1561.5" cy="1375.4" r="7.3"/><circle cx="1597.7" cy="1387.0" r="7.3"/><circle cx="1578.3" cy="1365.8" r="7.3"/><circle cx="1510.3" cy="1405.0" r="7.3"/><circle cx="1596.6" cy="1400.4" r="7.3"/><circle cx="1602.5" cy="1365.3" r="7.3"/><circle cx="1532.7" cy="1368.1" r="7.3"/><circle cx="1540.5" cy="1410.0" r="7.3"/><circle cx="1429.9" cy="1406.1" r="7.3"/><circle cx="1559.9" cy="1406.1" r="7.3"/><circle cx="1498.9" cy="1388.0" r="7.3"/><circle cx="1590.7" cy="1407.7" r="7.3"/><circle cx="1546.7" cy="1385.1" r="7.3"/><circle cx="1528.4" cy="1387.7" r="7.3"/><circle cx="1563.5" cy="1372.4" r="7.3"/><circle cx="1483.5" cy="1374.5" r="7.3"/><circle cx="1560.8" cy="1394.1" r="7.3"/><circle cx="1584.1" cy="1406.2" r="7.3"/><circle cx="1584.1" cy="1381.9" r="7.3"/><circle cx="1533.3" cy="1393.2" r="7.3"/><circle cx="1577.6" cy="1378.2" r="7.3"/><circle cx="1476.6" cy="1404.2" r="7.3"/><circle cx="1560.9" cy="1382.5" r="7.3"/><circle cx="1560.0" cy="1390.7" r="7.3"/><circle cx="1597.9" cy="1400.8" r="7.3"/><circle cx="1525.8" cy="1398.3" r="7.3"/><circle cx="1495.0" cy="1397.9" r="7.3"/><circle cx="1569.9" cy="1410.2" r="7.3"/><circle cx="1554.0" cy="1368.2" r="7.3"/><circle cx="1479.0" cy="1375.5" r="7.3"/><circle cx="1469.3" cy="1410.4" r="7.3"/><circle cx="1430.1" cy="1404.6" r="7.3"/><circle cx="1566.8" cy="1343.5" r="7.3"/><circle cx="1450.5" cy="1399.3" r="7.3"/><circle cx="1567.9" cy="1388.5" r="7.3"/><circle cx="1471.1" cy="1394.8" r="7.3"/><circle cx="1583.1" cy="1408.2" r="7.3"/><circle cx="1536.8" cy="1380.7" r="7.3"/><circle cx="1472.2" cy="1385.5" r="7.3"/><circle cx="1484.8" cy="1404.5" r="7.3"/><circle cx="1542.4" cy="1385.3" r="7.3"/><circle cx="1567.4" cy="1367.1" r="7.3"/><circle cx="1543.8" cy="1362.3" r="7.3"/><circle cx="1534.1" cy="1389.3" r="7.3"/><circle cx="1583.2" cy="1388.9" r="7.3"/><circle cx="1571.5" cy="1384.2" r="7.3"/><circle cx="1583.5" cy="1405.5" r="7.3"/><circle cx="1546.5" cy="1378.8" r="7.3"/><circle cx="1479.1" cy="1389.1" r="7.3"/><circle cx="1579.7" cy="1368.0" r="7.3"/><circle cx="1490.3" cy="1402.1" r="7.3"/><circle cx="1567.8" cy="1363.1" r="7.3"/><circle cx="1446.3" cy="1402.4" r="7.3"/><circle cx="1573.7" cy="1394.5" r="7.3"/><circle cx="1565.0" cy="1406.8" r="7.3"/><circle cx="1483.1" cy="1393.5" r="7.3"/><circle cx="1464.5" cy="1380.5" r="7.3"/><circle cx="1491.1" cy="1376.5" r="7.3"/><circle cx="1537.7" cy="1350.5" r="7.3"/><circle cx="1569.8" cy="1396.2" r="7.3"/><circle cx="1603.0" cy="1373.2" r="7.3"/><circle cx="1561.8" cy="1389.3" r="7.3"/><circle cx="1534.8" cy="1408.0" r="7.3"/><circle cx="1585.5" cy="1381.5" r="7.3"/><circle cx="1468.3" cy="1395.5" r="7.3"/><circle cx="1576.8" cy="1365.4" r="7.3"/><circle cx="1584.6" cy="1385.6" r="7.3"/><circle cx="1471.4" cy="1408.1" r="7.3"/><circle cx="1513.2" cy="1391.5" r="7.3"/><circle cx="1521.8" cy="1407.2" r="7.3"/><circle cx="1591.4" cy="1396.6" r="7.3"/><circle cx="1579.6" cy="1405.7" r="7.3"/><circle cx="1546.7" cy="1377.8" r="7.3"/><circle cx="1598.5" cy="1375.0" r="7.3"/><circle cx="1594.8" cy="1387.3" r="7.3"/><circle cx="1501.8" cy="1391.6" r="7.3"/><circle cx="1568.5" cy="1409.5" r="7.3"/><circle cx="1489.7" cy="1390.1" r="7.3"/><circle cx="1560.5" cy="1386.8" r="7.3"/><circle cx="1599.8" cy="1364.1" r="7.3"/><circle cx="1603.1" cy="1352.0" r="7.3"/><circle cx="1529.1" cy="1400.0" r="7.3"/><circle cx="1527.4" cy="1392.9" r="7.3"/><circle cx="1601.7" cy="1396.8" r="7.3"/><circle cx="1505.9" cy="1392.5" r="7.3"/><circle cx="1502.5" cy="1391.0" r="7.3"/><circle cx="1566.1" cy="1410.5" r="7.3"/><circle cx="1601.9" cy="1362.5" r="7.3"/><circle cx="1518.5" cy="1386.7" r="7.3"/><circle cx="1520.6" cy="1406.8" r="7.3"/><circle cx="1532.7" cy="1394.1" r="7.3"/><circle cx="1572.6" cy="1380.6" r="7.3"/><circle cx="1552.0" cy="1392.4" r="7.3"/><circle cx="1601.0" cy="1399.3" r="7.3"/><circle cx="1592.5" cy="1388.1" r="7.3"/><circle cx="1559.6" cy="1346.2" r="7.3"/><circle cx="1597.3" cy="1402.4" r="7.3"/><circle cx="1507.4" cy="1409.8" r="7.3"/><circle cx="1581.4" cy="1384.8" r="7.3"/><circle cx="1577.3" cy="1399.2" r="7.3"/><circle cx="1599.5" cy="1378.4" r="7.3"/><circle cx="1560.3" cy="1353.6" r="7.3"/><circle cx="1563.4" cy="1403.1" r="7.3"/><circle cx="1500.0" cy="1391.4" r="7.3"/><circle cx="1532.0" cy="1375.9" r="7.3"/><circle cx="1591.1" cy="1364.2" r="7.3"/><circle cx="1549.2" cy="1391.1" r="7.3"/><circle cx="1581.9" cy="1402.4" r="7.3"/><circle cx="1601.7" cy="1379.0" r="7.3"/><circle cx="1583.7" cy="1365.0" r="7.3"/><circle cx="1557.0" cy="1369.0" r="7.3"/><circle cx="1555.6" cy="1377.6" r="7.3"/><circle cx="1474.6" cy="1409.6" r="7.3"/><circle cx="1556.3" cy="1396.7" r="7.3"/><circle cx="1509.3" cy="1404.2" r="7.3"/><circle cx="1532.9" cy="1395.6" r="7.3"/><circle cx="1569.8" cy="1377.1" r="7.3"/><circle cx="1601.9" cy="1390.8" r="7.3"/><circle cx="1534.4" cy="1406.2" r="7.3"/><circle cx="1491.9" cy="1379.2" r="7.3"/><circle cx="1588.5" cy="1374.6" r="7.3"/><circle cx="1591.9" cy="1395.8" r="7.3"/><circle cx="1495.6" cy="1363.6" r="7.3"/><circle cx="1559.0" cy="1405.3" r="7.3"/><circle cx="1488.6" cy="1374.5" r="7.3"/><circle cx="1554.8" cy="1365.9" r="7.3"/><circle cx="1538.0" cy="1390.0" r="7.3"/><circle cx="1510.8" cy="1385.6" r="7.3"/><circle cx="1558.5" cy="1382.5" r="7.3"/><circle cx="1526.5" cy="1386.7" r="7.3"/><circle cx="1480.3" cy="1378.9" r="7.3"/><circle cx="1602.3" cy="1381.2" r="7.3"/><circle cx="1467.5" cy="1391.7" r="7.3"/><circle cx="1558.5" cy="1407.6" r="7.3"/><circle cx="1559.6" cy="1401.5" r="7.3"/><circle cx="1570.1" cy="1377.0" r="7.3"/><circle cx="1575.5" cy="1408.4" r="7.3"/><circle cx="1557.4" cy="1389.9" r="7.3"/><circle cx="1429.1" cy="1405.0" r="7.3"/><circle cx="1578.4" cy="1371.9" r="7.3"/><circle cx="1602.8" cy="1388.8" r="7.3"/><circle cx="1602.3" cy="1380.9" r="7.3"/><circle cx="1543.9" cy="1407.9" r="7.3"/><circle cx="1546.9" cy="1398.0" r="7.3"/><circle cx="1593.4" cy="1387.7" r="7.3"/><circle cx="1536.9" cy="1382.4" r="7.3"/><circle cx="1533.3" cy="1400.4" r="7.3"/><circle cx="1455.3" cy="1396.8" r="7.3"/><circle cx="1565.9" cy="1398.6" r="7.3"/><circle cx="1601.6" cy="1344.4" r="7.3"/><circle cx="1582.0" cy="1381.3" r="7.3"/><circle cx="1591.5" cy="1406.5" r="7.3"/><circle cx="1566.8" cy="1368.3" r="7.3"/><circle cx="1516.1" cy="1403.5" r="7.3"/><circle cx="1601.1" cy="1405.6" r="7.3"/><circle cx="1472.7" cy="1410.5" r="7.3"/><circle cx="1534.1" cy="1345.0" r="7.3"/><circle cx="1465.7" cy="1408.1" r="7.3"/><circle cx="1526.5" cy="1409.8" r="7.3"/><circle cx="1529.4" cy="1347.9" r="7.3"/><circle cx="1599.5" cy="1406.8" r="7.3"/><circle cx="1592.4" cy="1387.5" r="7.3"/><circle cx="1598.7" cy="1372.4" r="7.3"/><circle cx="1502.3" cy="1386.6" r="7.3"/><circle cx="1592.0" cy="1404.3" r="7.3"/><circle cx="1560.5" cy="1398.3" r="7.3"/><circle cx="1497.1" cy="1345.4" r="7.3"/><circle cx="1597.8" cy="1365.0" r="7.3"/><circle cx="1535.3" cy="1386.4" r="7.3"/><circle cx="1571.7" cy="1404.7" r="7.3"/><circle cx="1568.8" cy="1383.4" r="7.3"/><circle cx="1431.5" cy="1401.4" r="7.3"/><circle cx="1473.1" cy="1389.1" r="7.3"/><circle cx="1556.7" cy="1410.1" r="7.3"/><circle cx="1600.1" cy="1404.4" r="7.3"/><circle cx="1544.5" cy="1402.0" r="7.3"/><circle cx="1576.6" cy="1378.0" r="7.3"/><circle cx="1491.1" cy="1394.4" r="7.3"/><circle cx="1579.1" cy="1381.4" r="7.3"/><circle cx="1477.1" cy="1403.2" r="7.3"/><circle cx="1599.9" cy="1388.7" r="7.3"/><circle cx="1512.5" cy="1363.1" r="7.3"/><circle cx="1527.8" cy="1405.2" r="7.3"/><circle cx="1533.8" cy="1401.2" r="7.3"/><circle cx="1518.3" cy="1375.6" r="7.3"/><circle cx="1576.2" cy="1406.6" r="7.3"/><circle cx="1534.5" cy="1385.1" r="7.3"/><circle cx="1542.1" cy="1401.2" r="7.3"/><circle cx="1599.1" cy="1408.1" r="7.3"/><circle cx="1599.0" cy="1367.2" r="7.3"/><circle cx="1508.0" cy="1339.2" r="7.3"/><circle cx="1603.1" cy="1392.2" r="7.3"/><circle cx="1576.9" cy="1407.8" r="7.3"/><circle cx="1602.7" cy="1389.0" r="7.3"/><circle cx="1585.9" cy="1366.1" r="7.3"/><circle cx="1510.2" cy="1390.9" r="7.3"/><circle cx="1507.8" cy="1380.3" r="7.3"/><circle cx="1510.1" cy="1397.4" r="7.3"/><circle cx="1562.3" cy="1406.0" r="7.3"/><circle cx="1583.7" cy="1387.5" r="7.3"/><circle cx="1528.5" cy="1387.7" r="7.3"/><circle cx="1546.0" cy="1392.7" r="7.3"/><circle cx="1475.8" cy="1389.9" r="7.3"/><circle cx="1542.6" cy="1388.2" r="7.3"/><circle cx="1525.1" cy="1362.7" r="7.3"/><circle cx="1576.6" cy="1377.4" r="7.3"/><circle cx="1603.1" cy="1400.9" r="7.3"/><circle cx="1565.5" cy="1379.9" r="7.3"/><circle cx="1597.2" cy="1377.0" r="7.3"/><circle cx="1501.9" cy="1349.8" r="7.3"/><circle cx="1532.4" cy="1390.0" r="7.3"/><circle cx="1461.4" cy="1381.0" r="7.3"/><circle cx="1496.5" cy="1385.7" r="7.3"/><circle cx="1602.8" cy="1409.5" r="7.3"/><circle cx="1585.8" cy="1371.5" r="7.3"/><circle cx="1516.9" cy="1353.8" r="7.3"/><circle cx="1551.6" cy="1397.0" r="7.3"/><circle cx="1589.0" cy="1409.2" r="7.3"/><circle cx="1524.2" cy="1349.8" r="7.3"/><circle cx="1472.0" cy="1404.4" r="7.3"/><circle cx="1579.9" cy="1338.8" r="7.3"/><circle cx="1530.1" cy="1380.0" r="7.3"/><circle cx="1572.5" cy="1360.0" r="7.3"/><circle cx="1591.8" cy="1398.7" r="7.3"/><circle cx="1575.2" cy="1404.2" r="7.3"/><circle cx="1519.9" cy="1377.7" r="7.3"/><circle cx="1548.3" cy="1367.5" r="7.3"/><circle cx="1545.1" cy="1375.6" r="7.3"/><circle cx="1484.9" cy="1382.5" r="7.3"/><circle cx="1481.1" cy="1399.6" r="7.3"/><circle cx="1498.5" cy="1366.0" r="7.3"/><circle cx="1469.0" cy="1405.9" r="7.3"/><circle cx="1556.4" cy="1375.6" r="7.3"/><circle cx="1524.4" cy="1408.8" r="7.3"/><circle cx="1536.9" cy="1380.1" r="7.3"/><circle cx="1598.7" cy="1395.8" r="7.3"/><circle cx="1573.9" cy="1403.3" r="7.3"/><circle cx="1526.8" cy="1371.0" r="7.3"/><circle cx="1475.7" cy="1406.5" r="7.3"/><circle cx="1569.8" cy="1371.6" r="7.3"/><circle cx="1532.2" cy="1372.2" r="7.3"/><circle cx="1507.0" cy="1355.2" r="7.3"/><circle cx="1541.0" cy="1401.6" r="7.3"/><circle cx="1571.0" cy="1410.3" r="7.3"/><circle cx="1440.8" cy="1405.3" r="7.3"/><circle cx="1600.9" cy="1372.5" r="7.3"/><circle cx="1596.7" cy="1380.6" r="7.3"/><circle cx="1545.7" cy="1407.0" r="7.3"/><circle cx="1557.9" cy="1386.8" r="7.3"/><circle cx="1474.2" cy="1399.3" r="7.3"/><circle cx="1588.2" cy="1375.3" r="7.3"/><circle cx="1588.0" cy="1402.0" r="7.3"/><circle cx="1492.0" cy="1394.8" r="7.3"/><circle cx="1505.0" cy="1397.2" r="7.3"/><circle cx="1563.7" cy="1378.0" r="7.3"/><circle cx="1557.3" cy="1400.0" r="7.3"/><circle cx="1573.3" cy="1402.0" r="7.3"/><circle cx="1601.8" cy="1399.5" r="7.3"/><circle cx="1591.1" cy="1370.2" r="7.3"/><circle cx="1482.0" cy="1406.2" r="7.3"/><circle cx="1576.4" cy="1387.4" r="7.3"/><circle cx="1572.4" cy="1389.1" r="7.3"/><circle cx="1602.4" cy="1394.6" r="7.3"/><circle cx="1603.0" cy="1393.9" r="7.3"/><circle cx="1484.8" cy="1403.4" r="7.3"/><circle cx="1591.6" cy="1369.4" r="7.3"/><circle cx="1559.4" cy="1401.3" r="7.3"/><circle cx="1460.3" cy="1386.7" r="7.3"/><circle cx="1483.4" cy="1385.6" r="7.3"/><circle cx="1562.5" cy="1361.6" r="7.3"/><circle cx="1543.5" cy="1390.2" r="7.3"/><circle cx="1602.8" cy="1390.4" r="7.3"/><circle cx="1462.4" cy="1390.1" r="7.3"/><circle cx="1588.4" cy="1364.1" r="7.3"/><circle cx="1554.9" cy="1394.9" r="7.3"/><circle cx="1472.2" cy="1400.7" r="7.3"/><circle cx="1517.6" cy="1399.7" r="7.3"/><circle cx="1475.9" cy="1381.0" r="7.3"/><circle cx="1488.9" cy="1404.6" r="7.3"/><circle cx="1575.4" cy="1408.7" r="7.3"/><circle cx="1603.1" cy="1362.0" r="7.3"/><circle cx="1506.4" cy="1409.7" r="7.3"/><circle cx="1504.1" cy="1399.8" r="7.3"/><circle cx="1561.2" cy="1385.0" r="7.3"/><circle cx="1568.2" cy="1385.6" r="7.3"/><circle cx="1493.0" cy="1385.2" r="7.3"/><circle cx="1508.3" cy="1407.8" r="7.3"/><circle cx="1552.4" cy="1363.3" r="7.3"/><circle cx="1581.5" cy="1408.4" r="7.3"/><circle cx="1595.5" cy="1403.2" r="7.3"/><circle cx="1551.2" cy="1397.6" r="7.3"/><circle cx="1576.4" cy="1372.5" r="7.3"/><circle cx="1593.0" cy="1409.6" r="7.3"/><circle cx="1516.3" cy="1402.5" r="7.3"/><circle cx="1480.8" cy="1382.6" r="7.3"/><circle cx="1574.0" cy="1390.9" r="7.3"/><circle cx="1434.7" cy="1393.2" r="7.3"/><circle cx="1556.0" cy="1367.9" r="7.3"/><circle cx="1482.8" cy="1404.1" r="7.3"/><circle cx="1579.0" cy="1387.7" r="7.3"/><circle cx="1601.5" cy="1387.6" r="7.3"/><circle cx="1598.6" cy="1392.9" r="7.3"/><circle cx="1434.3" cy="1401.8" r="7.3"/><circle cx="1597.6" cy="1366.1" r="7.3"/><circle cx="1584.6" cy="1407.1" r="7.3"/><circle cx="1573.4" cy="1366.3" r="7.3"/><circle cx="1560.8" cy="1404.1" r="7.3"/><circle cx="1519.4" cy="1386.3" r="7.3"/><circle cx="1549.5" cy="1393.3" r="7.3"/><circle cx="1497.9" cy="1361.5" r="7.3"/><circle cx="1475.9" cy="1403.8" r="7.3"/><circle cx="1578.5" cy="1375.0" r="7.3"/><circle cx="1541.7" cy="1380.2" r="7.3"/><circle cx="1512.0" cy="1397.2" r="7.3"/><circle cx="1597.9" cy="1395.7" r="7.3"/><circle cx="1532.6" cy="1391.7" r="7.3"/><circle cx="1544.3" cy="1373.2" r="7.3"/><circle cx="1588.3" cy="1381.1" r="7.3"/><circle cx="1597.9" cy="1407.4" r="7.3"/><circle cx="1483.2" cy="1382.7" r="7.3"/><circle cx="1484.6" cy="1379.7" r="7.3"/><circle cx="1567.6" cy="1365.6" r="7.3"/><circle cx="1563.1" cy="1349.4" r="7.3"/><circle cx="1598.7" cy="1395.1" r="7.3"/><circle cx="1529.1" cy="1383.7" r="7.3"/><circle cx="1477.4" cy="1410.6" r="7.3"/><circle cx="1598.0" cy="1393.1" r="7.3"/><circle cx="1543.8" cy="1344.2" r="7.3"/><circle cx="1571.1" cy="1373.8" r="7.3"/><circle cx="1511.9" cy="1387.3" r="7.3"/><circle cx="1602.3" cy="1393.4" r="7.3"/><circle cx="1533.5" cy="1360.1" r="7.3"/><circle cx="1557.4" cy="1347.4" r="7.3"/><circle cx="1530.6" cy="1395.0" r="7.3"/><circle cx="1579.1" cy="1400.6" r="7.3"/><circle cx="1598.9" cy="1405.4" r="7.3"/><circle cx="1461.3" cy="1384.3" r="7.3"/><circle cx="1509.8" cy="1403.0" r="7.3"/><circle cx="1602.7" cy="1385.3" r="7.3"/><circle cx="1596.8" cy="1405.2" r="7.3"/><circle cx="1554.2" cy="1401.6" r="7.3"/><circle cx="1596.4" cy="1363.7" r="7.3"/><circle cx="1593.5" cy="1364.4" r="7.3"/><circle cx="1483.7" cy="1410.1" r="7.3"/><circle cx="1526.2" cy="1370.6" r="7.3"/><circle cx="1585.8" cy="1358.9" r="7.3"/><circle cx="1591.4" cy="1388.0" r="7.3"/><circle cx="1576.6" cy="1344.6" r="7.3"/><circle cx="1561.8" cy="1385.2" r="7.3"/><circle cx="1555.4" cy="1367.7" r="7.3"/><circle cx="1485.3" cy="1384.9" r="7.3"/><circle cx="1472.7" cy="1384.2" r="7.3"/><circle cx="1517.0" cy="1375.6" r="7.3"/><circle cx="1472.1" cy="1396.0" r="7.3"/><circle cx="1419.7" cy="1404.1" r="7.3"/><circle cx="1587.4" cy="1379.4" r="7.3"/><circle cx="1538.1" cy="1387.6" r="7.3"/><circle cx="1579.6" cy="1392.4" r="7.3"/><circle cx="1554.5" cy="1385.2" r="7.3"/><circle cx="1515.9" cy="1392.7" r="7.3"/><circle cx="1514.0" cy="1394.4" r="7.3"/><circle cx="1571.9" cy="1407.8" r="7.3"/><circle cx="1516.0" cy="1378.0" r="7.3"/><circle cx="1489.2" cy="1382.8" r="7.3"/><circle cx="1593.5" cy="1378.9" r="7.3"/><circle cx="1593.0" cy="1366.2" r="7.3"/><circle cx="1492.6" cy="1375.1" r="7.3"/><circle cx="1517.2" cy="1389.0" r="7.3"/><circle cx="1541.1" cy="1356.0" r="7.3"/><circle cx="1490.1" cy="1399.3" r="7.3"/><circle cx="1495.5" cy="1341.5" r="7.3"/><circle cx="1513.1" cy="1372.7" r="7.3"/><circle cx="1536.0" cy="1393.7" r="7.3"/><circle cx="1491.5" cy="1392.7" r="7.3"/><circle cx="1424.0" cy="1407.7" r="7.3"/><circle cx="1495.9" cy="1409.9" r="7.3"/><circle cx="1568.0" cy="1393.5" r="7.3"/><circle cx="1576.9" cy="1406.0" r="7.3"/><circle cx="1483.7" cy="1391.9" r="7.3"/><circle cx="1600.1" cy="1388.0" r="7.3"/><circle cx="1556.5" cy="1386.4" r="7.3"/><circle cx="1564.7" cy="1387.5" r="7.3"/><circle cx="1543.8" cy="1407.0" r="7.3"/><circle cx="1581.4" cy="1365.3" r="7.3"/><circle cx="1483.7" cy="1375.3" r="7.3"/><circle cx="1569.2" cy="1376.5" r="7.3"/><circle cx="1469.0" cy="1393.6" r="7.3"/><circle cx="1520.0" cy="1385.5" r="7.3"/><circle cx="1539.7" cy="1392.9" r="7.3"/><circle cx="1503.8" cy="1403.2" r="7.3"/><circle cx="1583.1" cy="1364.6" r="7.3"/><circle cx="1557.9" cy="1367.1" r="7.3"/><circle cx="1576.9" cy="1399.3" r="7.3"/><circle cx="1568.8" cy="1407.2" r="7.3"/><circle cx="1557.8" cy="1389.8" r="7.3"/><circle cx="1551.1" cy="1363.5" r="7.3"/><circle cx="1520.9" cy="1390.2" r="7.3"/><circle cx="1551.4" cy="1393.2" r="7.3"/><circle cx="1535.7" cy="1408.8" r="7.3"/><circle cx="1583.8" cy="1383.3" r="7.3"/><circle cx="1506.3" cy="1372.8" r="7.3"/><circle cx="1532.1" cy="1399.2" r="7.3"/><circle cx="1511.9" cy="1403.4" r="7.3"/><circle cx="1537.1" cy="1400.0" r="7.3"/><circle cx="1518.9" cy="1385.7" r="7.3"/><circle cx="1555.8" cy="1396.9" r="7.3"/><circle cx="1526.4" cy="1386.7" r="7.3"/><circle cx="1540.8" cy="1357.3" r="7.3"/><circle cx="1520.3" cy="1405.3" r="7.3"/><circle cx="1516.8" cy="1366.2" r="7.3"/><circle cx="1477.5" cy="1380.1" r="7.3"/><circle cx="1530.8" cy="1399.1" r="7.3"/><circle cx="1592.6" cy="1389.7" r="7.3"/><circle cx="1520.3" cy="1385.5" r="7.3"/><circle cx="1518.3" cy="1396.9" r="7.3"/><circle cx="1478.2" cy="1380.8" r="7.3"/><circle cx="1479.2" cy="1386.6" r="7.3"/><circle cx="1509.2" cy="1394.6" r="7.3"/><circle cx="1549.7" cy="1383.4" r="7.3"/><circle cx="1590.9" cy="1353.9" r="7.3"/><circle cx="1514.6" cy="1384.3" r="7.3"/><circle cx="1549.0" cy="1399.0" r="7.3"/><circle cx="1592.4" cy="1396.9" r="7.3"/><circle cx="1580.4" cy="1384.4" r="7.3"/><circle cx="1536.5" cy="1395.4" r="7.3"/><circle cx="1490.0" cy="1401.3" r="7.3"/><circle cx="1588.5" cy="1374.5" r="7.3"/><circle cx="1589.9" cy="1366.5" r="7.3"/><circle cx="1516.6" cy="1364.6" r="7.3"/><circle cx="1572.2" cy="1402.9" r="7.3"/><circle cx="1544.8" cy="1387.9" r="7.3"/><circle cx="1531.7" cy="1378.3" r="7.3"/><circle cx="1548.5" cy="1390.1" r="7.3"/><circle cx="1527.8" cy="1406.4" r="7.3"/><circle cx="1557.5" cy="1380.5" r="7.3"/><circle cx="1467.6" cy="1401.1" r="7.3"/><circle cx="1555.2" cy="1367.2" r="7.3"/><circle cx="1583.7" cy="1380.8" r="7.3"/><circle cx="1572.6" cy="1405.0" r="7.3"/><circle cx="1541.0" cy="1350.9" r="7.3"/><circle cx="1472.4" cy="1407.3" r="7.3"/><circle cx="1600.4" cy="1384.9" r="7.3"/><circle cx="1469.3" cy="1395.8" r="7.3"/><circle cx="1422.8" cy="1406.1" r="7.3"/><circle cx="1532.9" cy="1367.4" r="7.3"/><circle cx="1570.0" cy="1386.8" r="7.3"/><circle cx="1577.4" cy="1389.0" r="7.3"/><circle cx="1590.9" cy="1386.1" r="7.3"/><circle cx="1538.8" cy="1379.3" r="7.3"/><circle cx="1587.8" cy="1365.0" r="7.3"/><circle cx="1577.6" cy="1391.7" r="7.3"/><circle cx="1588.1" cy="1369.1" r="7.3"/><circle cx="1543.1" cy="1384.8" r="7.3"/><circle cx="1560.6" cy="1405.2" r="7.3"/><circle cx="1511.9" cy="1376.8" r="7.3"/><circle cx="1504.3" cy="1354.6" r="7.3"/><circle cx="1568.5" cy="1367.0" r="7.3"/><circle cx="1485.6" cy="1408.4" r="7.3"/><circle cx="1517.9" cy="1376.9" r="7.3"/><circle cx="1487.7" cy="1382.8" r="7.3"/><circle cx="1515.8" cy="1390.5" r="7.3"/><circle cx="1479.7" cy="1380.3" r="7.3"/><circle cx="1461.1" cy="1391.6" r="7.3"/><circle cx="1550.5" cy="1398.0" r="7.3"/><circle cx="1567.3" cy="1385.9" r="7.3"/><circle cx="1506.6" cy="1385.3" r="7.3"/><circle cx="1589.4" cy="1399.8" r="7.3"/><circle cx="1561.5" cy="1388.4" r="7.3"/><circle cx="1599.8" cy="1405.5" r="7.3"/><circle cx="1547.6" cy="1410.4" r="7.3"/><circle cx="1601.9" cy="1381.6" r="7.3"/><circle cx="1567.4" cy="1364.9" r="7.3"/><circle cx="1602.7" cy="1405.8" r="7.3"/><circle cx="1271.3" cy="1322.5" r="7.3"/><circle cx="1265.1" cy="1338.2" r="7.3"/><circle cx="1291.1" cy="1343.1" r="7.3"/><circle cx="1306.4" cy="1349.3" r="7.3"/><circle cx="1273.4" cy="1393.8" r="7.3"/><circle cx="1366.2" cy="1292.8" r="7.3"/><circle cx="1348.4" cy="1336.1" r="7.3"/><circle cx="1378.5" cy="1342.3" r="7.3"/><circle cx="1386.8" cy="1344.4" r="7.3"/><circle cx="1414.4" cy="1341.5" r="7.3"/><circle cx="1362.0" cy="1360.0" r="7.3"/><circle cx="1390.9" cy="1354.7" r="7.3"/><circle cx="1382.7" cy="1362.9" r="7.3"/><circle cx="1409.5" cy="1365.0" r="7.3"/><circle cx="1403.3" cy="1375.3" r="7.3"/><circle cx="1323.7" cy="1381.5" r="7.3"/><circle cx="1339.4" cy="1381.5" r="7.3"/><circle cx="1357.9" cy="1377.3" r="7.3"/><circle cx="1351.7" cy="1387.7" r="7.3"/><circle cx="1337.3" cy="1393.8" r="7.3"/><circle cx="1370.3" cy="1395.9" r="7.3"/><circle cx="1320.8" cy="1406.2" r="7.3"/><circle cx="1339.4" cy="1402.1" r="7.3"/><circle cx="1382.7" cy="1401.3" r="7.3"/><circle cx="1397.1" cy="1408.3" r="7.3"/><circle cx="1446.6" cy="1317.5" r="7.3"/><circle cx="1478.8" cy="1321.7" r="7.3"/><circle cx="1470.5" cy="1338.2" r="7.3"/><circle cx="1452.8" cy="1344.4" r="7.3"/><circle cx="1442.5" cy="1348.5" r="7.3"/><circle cx="1500.2" cy="1327.9" r="7.3"/><circle cx="1496.1" cy="1308.1" r="7.3"/><circle cx="1508.5" cy="1301.0" r="7.3"/><circle cx="1514.6" cy="1287.8" r="7.3"/><circle cx="1535.3" cy="1299.0" r="7.3"/><circle cx="1545.6" cy="1275.5" r="7.3"/><circle cx="1537.3" cy="1315.5" r="7.3"/><circle cx="1543.5" cy="1319.6" r="7.3"/><circle cx="1568.3" cy="1309.3" r="7.3"/><circle cx="1588.9" cy="1310.1" r="7.3"/><circle cx="1553.8" cy="1334.0" r="7.3"/><circle cx="1564.1" cy="1332.0" r="7.3"/><circle cx="1570.3" cy="1340.2" r="7.3"/><circle cx="1595.1" cy="1336.1" r="7.3"/><circle cx="1593.0" cy="1346.4" r="7.3"/><circle cx="1516.7" cy="1340.2" r="7.3"/><circle cx="1531.1" cy="1332.0" r="7.3"/><circle cx="1527.0" cy="1352.6" r="7.3"/><circle cx="1500.2" cy="1344.4" r="7.3"/><circle cx="1475.5" cy="1356.7" r="7.3"/><circle cx="1459.0" cy="1356.7" r="7.3"/><circle cx="1434.2" cy="1358.8" r="7.3"/><circle cx="1442.5" cy="1362.9" r="7.3"/><circle cx="1452.8" cy="1365.0" r="7.3"/><circle cx="1426.0" cy="1381.5" r="7.3"/><circle cx="1417.7" cy="1391.8" r="7.3"/><circle cx="1409.5" cy="1393.8" r="7.3"/><circle cx="1401.2" cy="1393.8" r="7.3"/><circle cx="1434.2" cy="1377.3" r="7.3"/><circle cx="1442.5" cy="1385.6" r="7.3"/><circle cx="1450.7" cy="1373.2" r="7.3"/><circle cx="1459.0" cy="1381.5" r="7.3"/><circle cx="1465.2" cy="1365.0" r="7.3"/><circle cx="1471.3" cy="1373.2" r="7.3"/><circle cx="1329.0" cy="1398.0" r="7.3"/><circle cx="1345.5" cy="1393.8" r="7.3"/><circle cx="1351.7" cy="1381.5" r="7.3"/><circle cx="1541.5" cy="1317.5" r="7.3"/><circle cx="1558.0" cy="1336.1" r="7.3"/><circle cx="1549.7" cy="1338.2" r="7.3"/><circle cx="1586.8" cy="1323.7" r="7.3"/><circle cx="1492.0" cy="1336.1" r="7.3"/><circle cx="1483.7" cy="1344.4" r="7.3"/><circle cx="1520.8" cy="1323.7" r="7.3"/><circle cx="1512.6" cy="1311.4" r="7.3"/>
</g>
<g fill="#f18c69" fill-opacity="0.5">
<circle cx="1675.2" cy="1355.4" r="7.3"/><circle cx="1707.2" cy="1384.1" r="7.3"/><circle cx="1716.4" cy="1398.4" r="7.3"/><circle cx="1674.4" cy="1367.9" r="7.3"/><circle cx="1679.6" cy="1343.1" r="7.3"/><circle cx="1696.6" cy="1394.8" r="7.3"/><circle cx="1660.8" cy="1385.9" r="7.3"/><circle cx="1679.5" cy="1391.5" r="7.3"/><circle cx="1668.4" cy="1357.9" r="7.3"/><circle cx="1716.1" cy="1405.7" r="7.3"/><circle cx="1661.0" cy="1365.6" r="7.3"/><circle cx="1692.2" cy="1380.2" r="7.3"/><circle cx="1679.1" cy="1388.1" r="7.3"/><circle cx="1664.3" cy="1371.7" r="7.3"/><circle cx="1687.2" cy="1365.8" r="7.3"/><circle cx="1678.0" cy="1342.9" r="7.3"/><circle cx="1676.4" cy="1344.2" r="7.3"/><circle cx="1694.8" cy="1369.8" r="7.3"/><circle cx="1695.8" cy="1370.6" r="7.3"/><circle cx="1683.1" cy="1376.4" r="7.3"/><circle cx="1677.1" cy="1377.3" r="7.3"/><circle cx="1676.7" cy="1404.8" r="7.3"/><circle cx="1683.2" cy="1408.6" r="7.3"/><circle cx="1702.3" cy="1403.5" r="7.3"/><circle cx="1677.2" cy="1369.5" r="7.3"/><circle cx="1678.5" cy="1356.5" r="7.3"/><circle cx="1679.3" cy="1341.7" r="7.3"/><circle cx="1662.5" cy="1406.4" r="7.3"/><circle cx="1676.7" cy="1362.5" r="7.3"/><circle cx="1682.9" cy="1372.6" r="7.3"/><circle cx="1677.4" cy="1370.2" r="7.3"/><circle cx="1676.2" cy="1368.0" r="7.3"/><circle cx="1696.9" cy="1370.9" r="7.3"/><circle cx="1693.0" cy="1361.4" r="7.3"/><circle cx="1676.6" cy="1382.3" r="7.3"/><circle cx="1660.3" cy="1356.7" r="7.3"/><circle cx="1666.7" cy="1386.6" r="7.3"/><circle cx="1718.9" cy="1402.6" r="7.3"/><circle cx="1669.2" cy="1394.9" r="7.3"/><circle cx="1661.7" cy="1371.0" r="7.3"/><circle cx="1671.9" cy="1346.4" r="7.3"/><circle cx="1694.1" cy="1409.6" r="7.3"/><circle cx="1685.1" cy="1409.8" r="7.3"/><circle cx="1705.8" cy="1410.4" r="7.3"/><circle cx="1695.6" cy="1401.9" r="7.3"/><circle cx="1675.5" cy="1355.9" r="7.3"/><circle cx="1667.7" cy="1382.4" r="7.3"/><circle cx="1669.6" cy="1362.0" r="7.3"/><circle cx="1682.2" cy="1351.5" r="7.3"/><circle cx="1683.2" cy="1348.6" r="7.3"/><circle cx="1712.7" cy="1397.3" r="7.3"/><circle cx="1694.8" cy="1377.3" r="7.3"/><circle cx="1681.7" cy="1364.8" r="7.3"/><circle cx="1668.2" cy="1361.0" r="7.3"/><circle cx="1689.8" cy="1375.2" r="7.3"/><circle cx="1673.8" cy="1399.3" r="7.3"/><circle cx="1685.5" cy="1369.5" r="7.3"/><circle cx="1679.2" cy="1361.6" r="7.3"/><circle cx="1687.4" cy="1351.9" r="7.3"/><circle cx="1678.5" cy="1382.1" r="7.3"/><circle cx="1665.1" cy="1407.7" r="7.3"/><circle cx="1673.5" cy="1409.3" r="7.3"/><circle cx="1687.0" cy="1382.2" r="7.3"/><circle cx="1716.3" cy="1407.4" r="7.3"/><circle cx="1675.5" cy="1364.9" r="7.3"/><circle cx="1682.6" cy="1409.4" r="7.3"/><circle cx="1668.2" cy="1359.8" r="7.3"/><circle cx="1676.0" cy="1353.1" r="7.3"/><circle cx="1681.8" cy="1372.0" r="7.3"/><circle cx="1677.6" cy="1379.8" r="7.3"/><circle cx="1688.7" cy="1349.8" r="7.3"/><circle cx="1694.0" cy="1384.4" r="7.3"/><circle cx="1690.1" cy="1354.6" r="7.3"/><circle cx="1662.6" cy="1360.5" r="7.3"/><circle cx="1690.8" cy="1401.6" r="7.3"/><circle cx="1670.3" cy="1376.1" r="7.3"/><circle cx="1713.3" cy="1409.6" r="7.3"/><circle cx="1683.1" cy="1358.3" r="7.3"/><circle cx="1696.5" cy="1389.1" r="7.3"/><circle cx="1669.8" cy="1379.1" r="7.3"/><circle cx="1670.1" cy="1399.8" r="7.3"/><circle cx="1713.9" cy="1409.1" r="7.3"/><circle cx="1693.3" cy="1380.5" r="7.3"/><circle cx="1674.2" cy="1405.8" r="7.3"/><circle cx="1690.1" cy="1369.3" r="7.3"/><circle cx="1689.7" cy="1367.1" r="7.3"/><circle cx="1663.7" cy="1383.7" r="7.3"/><circle cx="1671.9" cy="1397.2" r="7.3"/><circle cx="1685.8" cy="1386.0" r="7.3"/><circle cx="1683.4" cy="1344.6" r="7.3"/><circle cx="1670.5" cy="1355.3" r="7.3"/><circle cx="1682.7" cy="1407.9" r="7.3"/><circle cx="1702.0" cy="1391.5" r="7.3"/><circle cx="1702.6" cy="1377.9" r="7.3"/><circle cx="1662.8" cy="1389.5" r="7.3"/><circle cx="1679.6" cy="1352.6" r="7.3"/><circle cx="1670.4" cy="1394.8" r="7.3"/><circle cx="1683.7" cy="1386.6" r="7.3"/><circle cx="1673.0" cy="1354.3" r="7.3"/><circle cx="1660.1" cy="1370.4" r="7.3"/><circle cx="1668.3" cy="1387.2" r="7.3"/><circle cx="1678.5" cy="1376.0" r="7.3"/><circle cx="1676.0" cy="1396.5" r="7.3"/><circle cx="1706.1" cy="1385.7" r="7.3"/><circle cx="1692.9" cy="1368.7" r="7.3"/><circle cx="1714.1" cy="1397.0" r="7.3"/><circle cx="1685.7" cy="1401.9" r="7.3"/><circle cx="1665.1" cy="1386.6" r="7.3"/><circle cx="1680.9" cy="1404.1" r="7.3"/><circle cx="1683.8" cy="1383.2" r="7.3"/><circle cx="1686.3" cy="1405.5" r="7.3"/><circle cx="1695.3" cy="1393.2" r="7.3"/><circle cx="1688.6" cy="1383.4" r="7.3"/><circle cx="1690.9" cy="1397.4" r="7.3"/><circle cx="1693.3" cy="1358.9" r="7.3"/><circle cx="1683.3" cy="1404.9" r="7.3"/><circle cx="1688.8" cy="1349.5" r="7.3"/><circle cx="1703.0" cy="1407.6" r="7.3"/><circle cx="1712.7" cy="1407.1" r="7.3"/><circle cx="1693.0" cy="1397.3" r="7.3"/><circle cx="1679.0" cy="1393.3" r="7.3"/><circle cx="1663.6" cy="1407.8" r="7.3"/><circle cx="1665.3" cy="1401.0" r="7.3"/><circle cx="1671.1" cy="1388.4" r="7.3"/><circle cx="1669.4" cy="1347.0" r="7.3"/><circle cx="1682.8" cy="1374.7" r="7.3"/><circle cx="1710.1" cy="1397.1" r="7.3"/><circle cx="1691.9" cy="1407.5" r="7.3"/><circle cx="1696.1" cy="1388.0" r="7.3"/><circle cx="1700.4" cy="1373.0" r="7.3"/><circle cx="1691.7" cy="1363.0" r="7.3"/><circle cx="1711.1" cy="1396.1" r="7.3"/><circle cx="1672.5" cy="1347.6" r="7.3"/><circle cx="1687.7" cy="1409.1" r="7.3"/><circle cx="1707.5" cy="1400.6" r="7.3"/><circle cx="1677.2" cy="1341.7" r="7.3"/><circle cx="1671.9" cy="1348.8" r="7.3"/><circle cx="1676.9" cy="1351.2" r="7.3"/><circle cx="1684.2" cy="1368.5" r="7.3"/><circle cx="1673.1" cy="1360.4" r="7.3"/><circle cx="1710.6" cy="1354.7" r="7.3"/><circle cx="1716.7" cy="1356.7" r="7.3"/><circle cx="1727.1" cy="1358.0" r="7.3"/><circle cx="1696.1" cy="1321.7" r="7.3"/><circle cx="1681.7" cy="1327.9" r="7.3"/><circle cx="1714.7" cy="1377.3" r="7.3"/><circle cx="1712.6" cy="1383.5" r="7.3"/><circle cx="1718.8" cy="1393.8" r="7.3"/><circle cx="1720.9" cy="1402.1" r="7.3"/>
</g>
</g>
<line x1="1604.5" y1="777.5" x2="1604.5" y2="1471.5" stroke="#262626" stroke-width="2.6" stroke-dasharray="20.2 20" stroke-dashoffset="9.3"/>
<line x1="1658.3" y1="777.5" x2="1658.3" y2="1471.5" stroke="#262626" stroke-width="2.6" stroke-dasharray="20.2 20" stroke-dashoffset="9.3"/>
<line x1="1227.5" y1="1409.8" x2="1943.5" y2="1409.8" stroke="#262626" stroke-width="2.6" stroke-dasharray="20.4 19.8" stroke-dashoffset="0.4"/>
<circle cx="1863" cy="847.5" r="6.2" fill="#f7bfa8" stroke="#111" stroke-width="2.5" />
<circle cx="1824" cy="973.5" r="6.2" fill="#f7bfa8" stroke="#111" stroke-width="2.5" />
<circle cx="1798" cy="1052.5" r="6.2" fill="#f7bfa8" stroke="#111" stroke-width="2.5" />
<circle cx="1788.5" cy="1070.5" r="6.2" fill="#f7bfa8" stroke="#111" stroke-width="2.5" />
<circle cx="1578" cy="1110.5" r="6.2" fill="#b3e0d2" stroke="#111" stroke-width="2.5" />
<circle cx="1586.5" cy="1245" r="6.2" fill="#b3e0d2" stroke="#111" stroke-width="2.5" />
<circle cx="1553" cy="1257" r="6.2" fill="#b3e0d2" stroke="#111" stroke-width="2.5" />
<circle cx="1564" cy="1273" r="6.2" fill="#b3e0d2" stroke="#111" stroke-width="2.5" />
<circle cx="1297.5" cy="1269" r="6.2" fill="#b3e0d2" stroke="#111" stroke-width="2.5" />
<circle cx="1689" cy="1294" r="6.2" fill="#f7bfa8" stroke="#111" stroke-width="2.5" />
<text x="1810.5" y="877" font-size="21" fill="#2a2a2a" stroke="#2a2a2a" stroke-width="0.3">Ddx3y</text>
<text x="1813.5" y="956" font-size="21" fill="#2a2a2a" stroke="#2a2a2a" stroke-width="0.3">Eif2s3y</text>
<text x="1806.5" y="1035" font-size="21" fill="#2a2a2a" stroke="#2a2a2a" stroke-width="0.3">Uty</text>
<text x="1731.5" y="1100" font-size="21" fill="#2a2a2a" stroke="#2a2a2a" stroke-width="0.3">Kdm5d</text>
<text x="1529" y="1139" font-size="21" fill="#2a2a2a" stroke="#2a2a2a" stroke-width="0.3">Cnn2</text>
<text x="1591.5" y="1228.5" font-size="21" fill="#2a2a2a" stroke="#2a2a2a" stroke-width="0.3">Arf6</text>
<text x="1504" y="1241" font-size="21" fill="#2a2a2a" stroke="#2a2a2a" stroke-width="0.3">Ttll11</text>
<text x="1559" y="1302.5" font-size="21" fill="#2a2a2a" stroke="#2a2a2a" stroke-width="0.3">Kcnd3</text>
<text x="1288.5" y="1252.5" font-size="21" fill="#2a2a2a" stroke="#2a2a2a" stroke-width="0.3">Bmp10</text>
<text x="1638" y="1323.5" font-size="21" fill="#2a2a2a" stroke="#2a2a2a" stroke-width="0.3">Grrp1</text>
<circle cx="1277" cy="805.5" r="7.5" fill="#f5b8a2" />
<text x="1310" y="813.5" font-size="23" fill="#222" stroke="#222" stroke-width="0.4">up: 217</text>
<circle cx="1277" cy="846" r="7.5" fill="#d6d6d6" />
<text x="1310" y="854" font-size="23" fill="#222" stroke="#222" stroke-width="0.4">none</text>
<circle cx="1277" cy="886" r="7.5" fill="#a8dccd" />
<text x="1310" y="894" font-size="23" fill="#222" stroke="#222" stroke-width="0.4">down: 640</text>
<rect x="1227.5" y="777.5" width="716" height="694" fill="none" stroke="#303030" stroke-width="2.6" />
<rect x="1221" y="1434.6" width="6" height="12.8" fill="#343434" />
<text x="1213.5" y="1451.2" font-size="27.5" text-anchor="end" fill="#4a4a4a" stroke="#4a4a4a" stroke-width="1.2">0</text>
<rect x="1221" y="1200.8" width="6" height="12.8" fill="#343434" />
<text x="1213.5" y="1217.4" font-size="27.5" text-anchor="end" fill="#4a4a4a" stroke="#4a4a4a" stroke-width="1.2">10</text>
<rect x="1221" y="967" width="6" height="12.8" fill="#343434" />
<text x="1213.5" y="983.6" font-size="27.5" text-anchor="end" fill="#4a4a4a" stroke="#4a4a4a" stroke-width="1.2">20</text>
<rect x="1252.18" y="1472.3" width="14.6" height="5.2" fill="#343434" />
<text x="1258.48" y="1505" font-size="27.5" text-anchor="middle" fill="#4a4a4a" stroke="#4a4a4a" stroke-width="1.2">−8</text>
<rect x="1437.94" y="1472.3" width="14.6" height="5.2" fill="#343434" />
<text x="1444.24" y="1505" font-size="27.5" text-anchor="middle" fill="#4a4a4a" stroke="#4a4a4a" stroke-width="1.2">−4</text>
<rect x="1623.7" y="1472.3" width="14.6" height="5.2" fill="#343434" />
<text x="1630" y="1505" font-size="27.5" text-anchor="middle" fill="#4a4a4a" stroke="#4a4a4a" stroke-width="1.2">0</text>
<rect x="1809.46" y="1472.3" width="14.6" height="5.2" fill="#343434" />
<text x="1815.76" y="1505" font-size="27.5" text-anchor="middle" fill="#4a4a4a" stroke="#4a4a4a" stroke-width="1.2">4</text>
<text stroke="#000" stroke-width="1.05"><tspan x="1462.6" y="1566.8" font-size="40.5" textLength="59" lengthAdjust="spacingAndGlyphs">log</tspan><tspan x="1521.2" y="1582" font-size="21.5" textLength="14.6" lengthAdjust="spacingAndGlyphs" stroke-width="0.8">2</tspan><tspan x="1535.3" y="1566.8" font-size="40.5" textLength="249.7" lengthAdjust="spacingAndGlyphs">Fold Change</tspan></text>
<text x="1154.7" y="1226" font-size="41" stroke="#000" stroke-width="1.05" transform="rotate(-90 1154.7 1226)" textLength="272" lengthAdjust="spacingAndGlyphs">-log<tspan font-size="21.5" dy="14.5" dx="1.5">10</tspan><tspan dy="-14.5" dx="1.5">(</tspan><tspan font-style="italic">p</tspan>-value)</text>
</g>
<g id="panel-d">
<text x="5" y="1632.9" font-size="41" stroke="#000" stroke-width="0.15" textLength="52.3" lengthAdjust="spacingAndGlyphs">(d)</text>
<text x="426.5" y="1662.5" font-size="42.5" stroke="#000" stroke-width="1" textLength="293.5" lengthAdjust="spacingAndGlyphs">GO enrichment</text>
<text x="433" y="1717.5" font-size="42" stroke="#000" stroke-width="1" textLength="273.5" lengthAdjust="spacingAndGlyphs">-log<tspan font-size="22.5" dy="12.5" dx="1">10</tspan><tspan dy="-12.5" dx="1">(</tspan><tspan font-style="italic">p</tspan>-value)</text>
<rect x="540.1" y="1751.55" width="168.335" height="11.4" fill="#ee8462" stroke="#111" stroke-width="2.2" />
<line x1="534.5" y1="1757.25" x2="539.5" y2="1757.25" stroke="#111" stroke-width="1.6" />
<text x="531.532" y="1762.05" font-size="21.45" text-anchor="end" fill="#1c1c1c" stroke="#1c1c1c" stroke-width="0.3">regulation of lipid metabolic process</text>
<rect x="540.1" y="1772.32" width="168.335" height="11.4" fill="#ee8462" stroke="#111" stroke-width="2.2" />
<line x1="534.5" y1="1778.02" x2="539.5" y2="1778.02" stroke="#111" stroke-width="1.6" />
<text x="528.045" y="1782.82" font-size="21.45" text-anchor="end" fill="#1c1c1c" stroke="#1c1c1c" stroke-width="0.3">muscle contraction</text>
<rect x="540.1" y="1793.08" width="150.021" height="11.4" fill="#ee8462" stroke="#111" stroke-width="2.2" />
<line x1="534.5" y1="1798.78" x2="539.5" y2="1798.78" stroke="#111" stroke-width="1.6" />
<text x="529.89" y="1803.58" font-size="21.45" text-anchor="end" fill="#1c1c1c" stroke="#1c1c1c" stroke-width="0.3">fatty acid metabolic process</text>
<rect x="540.1" y="1813.85" width="128.718" height="11.4" fill="#ee8462" stroke="#111" stroke-width="2.2" />
<line x1="534.5" y1="1819.55" x2="539.5" y2="1819.55" stroke="#111" stroke-width="1.6" />
<text x="532.967" y="1824.35" font-size="21.45" text-anchor="end" fill="#1c1c1c" stroke="#1c1c1c" stroke-width="0.3">reactive oxygen species metabolic process</text>
<rect x="540.1" y="1834.62" width="127.97" height="11.4" fill="#ee8462" stroke="#111" stroke-width="2.2" />
<line x1="534.5" y1="1840.32" x2="539.5" y2="1840.32" stroke="#111" stroke-width="1.6" />
<text x="528.507" y="1845.12" font-size="21.45" text-anchor="end" fill="#1c1c1c" stroke="#1c1c1c" stroke-width="0.3">glucose homeostasis</text>
<rect x="540.1" y="1855.38" width="116.01" height="11.4" fill="#ee8462" stroke="#111" stroke-width="2.2" />
<line x1="534.5" y1="1861.09" x2="539.5" y2="1861.09" stroke="#111" stroke-width="1.6" />
<text x="527.737" y="1865.88" font-size="21.45" text-anchor="end" fill="#1c1c1c" stroke="#1c1c1c" stroke-width="0.3">lipid homeostasis</text>
<rect x="540.1" y="1876.15" width="107.04" height="11.4" fill="#ee8462" stroke="#111" stroke-width="2.2" />
<line x1="534.5" y1="1881.85" x2="539.5" y2="1881.85" stroke="#111" stroke-width="1.6" />
<text x="529.224" y="1886.65" font-size="21.45" text-anchor="end" fill="#1c1c1c" stroke="#1c1c1c" stroke-width="0.3">calcium ion homeostasis</text>
<rect x="540.1" y="1896.92" width="101.06" height="11.4" fill="#ee8462" stroke="#111" stroke-width="2.2" />
<line x1="534.5" y1="1902.62" x2="539.5" y2="1902.62" stroke="#111" stroke-width="1.6" />
<text x="529.814" y="1907.42" font-size="21.45" text-anchor="end" fill="#1c1c1c" stroke="#1c1c1c" stroke-width="0.3">pyruvate metabolic process</text>
<rect x="540.1" y="1917.69" width="82.7463" height="11.4" fill="#ee8462" stroke="#111" stroke-width="2.2" />
<line x1="534.5" y1="1923.39" x2="539.5" y2="1923.39" stroke="#111" stroke-width="1.6" />
<text x="529.737" y="1928.19" font-size="21.45" text-anchor="end" fill="#1c1c1c" stroke="#1c1c1c" stroke-width="0.3">glycogen catabolic process</text>
<rect x="540.1" y="1938.45" width="81.9988" height="11.4" fill="#ee8462" stroke="#111" stroke-width="2.2" />
<line x1="534.5" y1="1944.15" x2="539.5" y2="1944.15" stroke="#111" stroke-width="1.6" />
<text x="528.455" y="1948.95" font-size="21.45" text-anchor="end" fill="#1c1c1c" stroke="#1c1c1c" stroke-width="0.3">calcium ion transport</text>
<rect x="540.1" y="1959.22" width="73.0288" height="11.4" fill="#ee8462" stroke="#111" stroke-width="2.2" />
<line x1="534.5" y1="1964.92" x2="539.5" y2="1964.92" stroke="#111" stroke-width="1.6" />
<text x="529.634" y="1969.72" font-size="21.45" text-anchor="end" fill="#1c1c1c" stroke="#1c1c1c" stroke-width="0.3">glucose metabolic process</text>
<rect x="540.1" y="1979.99" width="73.0288" height="11.4" fill="#ee8462" stroke="#111" stroke-width="2.2" />
<line x1="534.5" y1="1985.69" x2="539.5" y2="1985.69" stroke="#111" stroke-width="1.6" />
<text x="532.557" y="1990.49" font-size="21.45" text-anchor="end" fill="#1c1c1c" stroke="#1c1c1c" stroke-width="0.3">regulation of fatty acid metabolic process</text>
<rect x="540.1" y="2000.75" width="73.0288" height="11.4" fill="#ee8462" stroke="#111" stroke-width="2.2" />
<line x1="534.5" y1="2006.45" x2="539.5" y2="2006.45" stroke="#111" stroke-width="1.6" />
<text x="533.723" y="2011.25" font-size="21.45" text-anchor="end" fill="#1c1c1c" stroke="#1c1c1c" stroke-width="0.3">very long−chain fatty acid biosynthetic process</text>
<rect x="540.1" y="2021.52" width="68.9175" height="11.4" fill="#ee8462" stroke="#111" stroke-width="2.2" />
<line x1="534.5" y1="2027.22" x2="539.5" y2="2027.22" stroke="#111" stroke-width="1.6" />
<text x="528.302" y="2032.02" font-size="21.45" text-anchor="end" fill="#1c1c1c" stroke="#1c1c1c" stroke-width="0.3">fatty acid elongation</text>
<rect x="540.1" y="2042.29" width="58.8263" height="11.4" fill="#ee8462" stroke="#111" stroke-width="2.2" />
<line x1="534.5" y1="2047.99" x2="539.5" y2="2047.99" stroke="#111" stroke-width="1.6" />
<text x="534.249" y="2052.79" font-size="21.45" text-anchor="end" fill="#1c1c1c" stroke="#1c1c1c" stroke-width="0.3">positive regulation of fatty acid metabolic process</text>
<rect x="540.1" y="2063.06" width="54.715" height="11.4" fill="#ee8462" stroke="#111" stroke-width="2.2" />
<line x1="534.5" y1="2068.76" x2="539.5" y2="2068.76" stroke="#111" stroke-width="1.6" />
<text x="527.609" y="2073.56" font-size="21.45" text-anchor="end" fill="#1c1c1c" stroke="#1c1c1c" stroke-width="0.3">lipid modification</text>
<rect x="540.1" y="2083.82" width="50.9775" height="11.4" fill="#ee8462" stroke="#111" stroke-width="2.2" />
<line x1="534.5" y1="2089.52" x2="539.5" y2="2089.52" stroke="#111" stroke-width="1.6" />
<text x="531.813" y="2094.32" font-size="21.45" text-anchor="end" fill="#1c1c1c" stroke="#1c1c1c" stroke-width="0.3">calcium ion transmembrane transport</text>
<rect x="540.1" y="2104.59" width="283.076" height="11.4" fill="#70c4a9" stroke="#111" stroke-width="2.2" />
<line x1="534.5" y1="2110.29" x2="539.5" y2="2110.29" stroke="#111" stroke-width="1.6" />
<text x="526.378" y="2115.09" font-size="21.45" text-anchor="end" fill="#1c1c1c" stroke="#1c1c1c" stroke-width="0.3">sarcomere</text>
<rect x="540.1" y="2125.36" width="264.762" height="11.4" fill="#70c4a9" stroke="#111" stroke-width="2.2" />
<line x1="534.5" y1="2131.06" x2="539.5" y2="2131.06" stroke="#111" stroke-width="1.6" />
<text x="527.327" y="2135.86" font-size="21.45" text-anchor="end" fill="#1c1c1c" stroke="#1c1c1c" stroke-width="0.3">contractile fiber</text>
<rect x="540.1" y="2146.12" width="109.282" height="11.4" fill="#70c4a9" stroke="#111" stroke-width="2.2" />
<line x1="534.5" y1="2151.82" x2="539.5" y2="2151.82" stroke="#111" stroke-width="1.6" />
<text x="530.493" y="2156.62" font-size="21.45" text-anchor="end" fill="#1c1c1c" stroke="#1c1c1c" stroke-width="0.3">low−density lipoprotein particle</text>
<rect x="540.1" y="2166.89" width="96.575" height="11.4" fill="#70c4a9" stroke="#111" stroke-width="2.2" />
<line x1="534.5" y1="2172.59" x2="539.5" y2="2172.59" stroke="#111" stroke-width="1.6" />
<text x="528.545" y="2177.39" font-size="21.45" text-anchor="end" fill="#1c1c1c" stroke="#1c1c1c" stroke-width="0.3">protein−lipid complex</text>
<rect x="540.1" y="2187.66" width="85.3625" height="11.4" fill="#70c4a9" stroke="#111" stroke-width="2.2" />
<line x1="534.5" y1="2193.36" x2="539.5" y2="2193.36" stroke="#111" stroke-width="1.6" />
<text x="531.634" y="2198.16" font-size="21.45" text-anchor="end" fill="#1c1c1c" stroke="#1c1c1c" stroke-width="0.3">very−low−density lipoprotein particle</text>
<rect x="540.1" y="2208.42" width="334.28" height="11.4" fill="#9c9eca" stroke="#111" stroke-width="2.2" />
<line x1="534.5" y1="2214.12" x2="539.5" y2="2214.12" stroke="#111" stroke-width="1.6" />
<text x="529.712" y="2218.92" font-size="21.45" text-anchor="end" fill="#1c1c1c" stroke="#1c1c1c" stroke-width="0.3">glycosaminoglycan binding</text>
<rect x="540.1" y="2229.19" width="197.861" height="11.4" fill="#9c9eca" stroke="#111" stroke-width="2.2" />
<line x1="534.5" y1="2234.89" x2="539.5" y2="2234.89" stroke="#111" stroke-width="1.6" />
<text x="531.417" y="2239.69" font-size="21.45" text-anchor="end" fill="#1c1c1c" stroke="#1c1c1c" stroke-width="0.3">G protein−coupled receptor binding</text>
<rect x="540.1" y="2249.96" width="187.022" height="11.4" fill="#9c9eca" stroke="#111" stroke-width="2.2" />
<line x1="534.5" y1="2255.66" x2="539.5" y2="2255.66" stroke="#111" stroke-width="1.6" />
<text x="530.878" y="2260.46" font-size="21.45" text-anchor="end" fill="#1c1c1c" stroke="#1c1c1c" stroke-width="0.3">insulin−like growth factor binding</text>
<rect x="540.1" y="2270.73" width="131.334" height="11.4" fill="#9c9eca" stroke="#111" stroke-width="2.2" />
<line x1="534.5" y1="2276.43" x2="539.5" y2="2276.43" stroke="#111" stroke-width="1.6" />
<text x="535.368" y="2281.23" font-size="21.45" text-anchor="end" fill="#1c1c1c" stroke="#1c1c1c" stroke-width="0.3">oxidoreductase activity, acting on peroxide as acceptor</text>
<rect x="540.1" y="2291.49" width="113.768" height="11.4" fill="#9c9eca" stroke="#111" stroke-width="2.2" />
<line x1="534.5" y1="2297.19" x2="539.5" y2="2297.19" stroke="#111" stroke-width="1.6" />
<text x="527.429" y="2301.99" font-size="21.45" text-anchor="end" fill="#1c1c1c" stroke="#1c1c1c" stroke-width="0.3">GTPase activity</text>
<rect x="540.1" y="2312.26" width="107.788" height="11.4" fill="#9c9eca" stroke="#111" stroke-width="2.2" />
<line x1="534.5" y1="2317.96" x2="539.5" y2="2317.96" stroke="#111" stroke-width="1.6" />
<text x="528.02" y="2322.76" font-size="21.45" text-anchor="end" fill="#1c1c1c" stroke="#1c1c1c" stroke-width="0.3">calmodulin binding</text>
<rect x="540.1" y="2333.03" width="95.8275" height="11.4" fill="#9c9eca" stroke="#111" stroke-width="2.2" />
<line x1="534.5" y1="2338.73" x2="539.5" y2="2338.73" stroke="#111" stroke-width="1.6" />
<text x="528.916" y="2343.53" font-size="21.45" text-anchor="end" fill="#1c1c1c" stroke="#1c1c1c" stroke-width="0.3">lipid transporter activity</text>
<rect x="540.1" y="2353.79" width="52.8462" height="11.4" fill="#9c9eca" stroke="#111" stroke-width="2.2" />
<line x1="534.5" y1="2359.49" x2="539.5" y2="2359.49" stroke="#111" stroke-width="1.6" />
<text x="533.76" y="2364.29" font-size="21.45" text-anchor="end" fill="#1c1c1c" stroke="#1c1c1c" stroke-width="0.3">calcium ion transmembrane transporter activity</text>
<rect x="540.1" y="2374.56" width="52.4725" height="11.4" fill="#9c9eca" stroke="#111" stroke-width="2.2" />
<line x1="534.5" y1="2380.26" x2="539.5" y2="2380.26" stroke="#111" stroke-width="1.6" />
<text x="529.044" y="2385.06" font-size="21.45" text-anchor="end" fill="#1c1c1c" stroke="#1c1c1c" stroke-width="0.3">calcium channel activity</text>
<line x1="540.1" y1="1746" x2="540.1" y2="2397" stroke="#111" stroke-width="2.4" />
<line x1="538.9" y1="2396.3" x2="839.8" y2="2396.3" stroke="#111" stroke-width="2.6" />
<line x1="540.1" y1="2396" x2="540.1" y2="2410" stroke="#111" stroke-width="2.4" />
<text x="548.7" y="2445" font-size="30.5" text-anchor="middle" fill="#222" stroke="#222" stroke-width="0.3">0</text>
<line x1="614.25" y1="2396" x2="614.25" y2="2410" stroke="#111" stroke-width="2.4" />
<text x="619" y="2445" font-size="30.5" text-anchor="middle" fill="#222" stroke="#222" stroke-width="0.3">2</text>
<line x1="689" y1="2396" x2="689" y2="2410" stroke="#111" stroke-width="2.4" />
<text x="689" y="2445" font-size="30.5" text-anchor="middle" fill="#222" stroke="#222" stroke-width="0.3">4</text>
<line x1="763.75" y1="2396" x2="763.75" y2="2410" stroke="#111" stroke-width="2.4" />
<text x="759.5" y="2445" font-size="30.5" text-anchor="middle" fill="#222" stroke="#222" stroke-width="0.3">6</text>
<line x1="838.5" y1="2396" x2="838.5" y2="2410" stroke="#111" stroke-width="2.4" />
<text x="830.5" y="2445" font-size="30.5" text-anchor="middle" fill="#222" stroke="#222" stroke-width="0.3">8</text>
<line x1="889.8" y1="1744.5" x2="889.8" y2="2093" stroke="#f08b6b" stroke-width="2.6" />
<line x1="889.8" y1="2098" x2="889.8" y2="2196.5" stroke="#7cc9b0" stroke-width="2.6" />
<line x1="889.8" y1="2201.5" x2="889.8" y2="2395.5" stroke="#a6a8d2" stroke-width="2.6" />
<text x="902" y="1926.5" font-size="31" text-anchor="middle" fill="#222" stroke="#222" stroke-width="0.4" transform="rotate(90 902 1926.5)">BP</text>
<text x="902" y="2157" font-size="31" text-anchor="middle" fill="#222" stroke="#222" stroke-width="0.4" transform="rotate(90 902 2157)">CC</text>
<text x="902" y="2318" font-size="31" text-anchor="middle" fill="#222" stroke="#222" stroke-width="0.4" transform="rotate(90 902 2318)">MF</text>
</g>
<g id="panel-e">
<text x="970.9" y="1632.9" font-size="41" stroke="#000" stroke-width="0.15" textLength="52.3" lengthAdjust="spacingAndGlyphs">(e)</text>
<text stroke="#000" stroke-width="1"><tspan x="1476.4" y="1692.5" font-size="43" textLength="65" lengthAdjust="spacingAndGlyphs">WT</tspan><tspan font-size="1"> </tspan><tspan x="1555.9" y="1692.5" font-size="43" textLength="41.5" lengthAdjust="spacingAndGlyphs">vs</tspan><tspan font-size="1"> </tspan><tspan x="1613.2" y="1692.5" font-size="43" textLength="95" lengthAdjust="spacingAndGlyphs" font-style="italic">Tecrl</tspan><tspan x="1707.4" y="1678.5" font-size="25" textLength="25.5" lengthAdjust="spacingAndGlyphs" stroke-width="0.5" font-style="italic">-/-</tspan></text>
<rect x="1445.5" y="1743.5" width="311" height="627" fill="#fff" />
<line x1="1491" y1="1743.5" x2="1491" y2="2370.5" stroke="#f0f0f0" stroke-width="2.8" />
<line x1="1589" y1="1743.5" x2="1589" y2="2370.5" stroke="#f0f0f0" stroke-width="2.8" />
<line x1="1687" y1="1743.5" x2="1687" y2="2370.5" stroke="#f0f0f0" stroke-width="2.8" />
<line x1="1540" y1="1743.5" x2="1540" y2="2370.5" stroke="#eaeaea" stroke-width="4.4" />
<line x1="1638" y1="1743.5" x2="1638" y2="2370.5" stroke="#eaeaea" stroke-width="4.4" />
<line x1="1736" y1="1743.5" x2="1736" y2="2370.5" stroke="#eaeaea" stroke-width="4.4" />
<line x1="1445.5" y1="1783" x2="1756.5" y2="1783" stroke="#eaeaea" stroke-width="4.4" />
<line x1="1445.5" y1="1851.5" x2="1756.5" y2="1851.5" stroke="#eaeaea" stroke-width="4.4" />
<line x1="1445.5" y1="1920" x2="1756.5" y2="1920" stroke="#eaeaea" stroke-width="4.4" />
<line x1="1445.5" y1="1988.5" x2="1756.5" y2="1988.5" stroke="#eaeaea" stroke-width="4.4" />
<line x1="1445.5" y1="2057" x2="1756.5" y2="2057" stroke="#eaeaea" stroke-width="4.4" />
<line x1="1445.5" y1="2125.5" x2="1756.5" y2="2125.5" stroke="#eaeaea" stroke-width="4.4" />
<line x1="1445.5" y1="2194" x2="1756.5" y2="2194" stroke="#eaeaea" stroke-width="4.4" />
<line x1="1445.5" y1="2262.5" x2="1756.5" y2="2262.5" stroke="#eaeaea" stroke-width="4.4" />
<line x1="1445.5" y1="2331" x2="1756.5" y2="2331" stroke="#eaeaea" stroke-width="4.4" />
<g clip-path="url(#clipE)">
<circle cx="1743.5" cy="1783" r="9" fill="#db632c" />
<circle cx="1584.5" cy="1851.5" r="7" fill="#7fa83c" />
<circle cx="1581.5" cy="1920" r="8" fill="#8ba338" />
<circle cx="1532" cy="1988.5" r="9" fill="#8ba43c" />
<circle cx="1530.5" cy="2057" r="12" fill="#e9351d" />
<circle cx="1515.5" cy="2125.5" r="9.5" fill="#8fa43b" />
<circle cx="1498" cy="2194" r="10.5" fill="#9c9e38" />
<circle cx="1473" cy="2262.5" r="10" fill="#50b04f" />
<circle cx="1458.5" cy="2331" r="16" fill="#e91c1f" />
</g>
<line x1="1438" y1="1783" x2="1445.5" y2="1783" stroke="#333" stroke-width="3.6" />
<text x="1421.5" y="1793.3" font-size="29.2" text-anchor="end" fill="#2a2a2a" stroke="#2a2a2a" stroke-width="0.3">Cholesterol metabolism</text>
<line x1="1438" y1="1851.5" x2="1445.5" y2="1851.5" stroke="#333" stroke-width="3.6" />
<text x="1427" y="1861.8" font-size="29.2" text-anchor="end" fill="#2a2a2a" stroke="#2a2a2a" stroke-width="0.3">Regulation of lipolysis in adipocytes</text>
<line x1="1438" y1="1920" x2="1445.5" y2="1920" stroke="#333" stroke-width="3.6" />
<text x="1424" y="1930.3" font-size="29.2" text-anchor="end" fill="#2a2a2a" stroke="#2a2a2a" stroke-width="0.3">Glycolysis / Gluconeogenesis</text>
<line x1="1438" y1="1988.5" x2="1445.5" y2="1988.5" stroke="#333" stroke-width="3.6" />
<text x="1423" y="1998.8" font-size="29.2" text-anchor="end" fill="#2a2a2a" stroke="#2a2a2a" stroke-width="0.3">Glucagon signaling pathway</text>
<line x1="1438" y1="2057" x2="1445.5" y2="2057" stroke="#333" stroke-width="3.6" />
<text x="1422" y="2067.3" font-size="29.2" text-anchor="end" fill="#2a2a2a" stroke="#2a2a2a" stroke-width="0.3">MAPK signaling pathway</text>
<line x1="1438" y1="2125.5" x2="1445.5" y2="2125.5" stroke="#333" stroke-width="3.6" />
<text x="1415" y="2135.8" font-size="29.2" text-anchor="end" fill="#2a2a2a" stroke="#2a2a2a" stroke-width="0.3">Apoptosis</text>
<line x1="1438" y1="2194" x2="1445.5" y2="2194" stroke="#333" stroke-width="3.6" />
<text x="1421.5" y="2204.3" font-size="29.2" text-anchor="end" fill="#2a2a2a" stroke="#2a2a2a" stroke-width="0.3">Rap1 signaling pathway</text>
<line x1="1438" y1="2262.5" x2="1445.5" y2="2262.5" stroke="#333" stroke-width="3.6" />
<text x="1421.5" y="2272.8" font-size="29.2" text-anchor="end" fill="#2a2a2a" stroke="#2a2a2a" stroke-width="0.3">cAMP signaling pathway</text>
<line x1="1438" y1="2331" x2="1445.5" y2="2331" stroke="#333" stroke-width="3.6" />
<text x="1420" y="2341.3" font-size="29.2" text-anchor="end" fill="#2a2a2a" stroke="#2a2a2a" stroke-width="0.3">Metabolic pathways</text>
<rect x="1445.5" y="1743.5" width="311" height="627" fill="none" stroke="#333" stroke-width="2.6" />
<line x1="1540" y1="2370.5" x2="1540" y2="2378" stroke="#333" stroke-width="3.6" />
<text x="1540" y="2403.8" font-size="29" text-anchor="middle" fill="#4d4d4d" stroke="#4d4d4d" stroke-width="0.2">0.10</text>
<line x1="1638" y1="2370.5" x2="1638" y2="2378" stroke="#333" stroke-width="3.6" />
<text x="1638" y="2403.8" font-size="29" text-anchor="middle" fill="#4d4d4d" stroke="#4d4d4d" stroke-width="0.2">0.15</text>
<line x1="1736" y1="2370.5" x2="1736" y2="2378" stroke="#333" stroke-width="3.6" />
<text x="1736" y="2403.8" font-size="29" text-anchor="middle" fill="#4d4d4d" stroke="#4d4d4d" stroke-width="0.2">0.20</text>
<text x="1624" y="2462" font-size="32" text-anchor="middle" fill="#1a1a1a" stroke="#1a1a1a" stroke-width="0.3">RichFactor</text>
<rect x="1794.5" y="1865" width="36" height="186.5" fill="url(#cbar)" />
<line x1="1794.5" y1="1897" x2="1802" y2="1897" stroke="#fff" stroke-width="1.6" />
<line x1="1823" y1="1897" x2="1830.5" y2="1897" stroke="#fff" stroke-width="1.6" />
<text x="1848" y="1907.3" font-size="28.8" fill="#1a1a1a" stroke="#1a1a1a" stroke-width="0.2">5</text>
<line x1="1794.5" y1="1944.5" x2="1802" y2="1944.5" stroke="#fff" stroke-width="1.6" />
<line x1="1823" y1="1944.5" x2="1830.5" y2="1944.5" stroke="#fff" stroke-width="1.6" />
<text x="1848" y="1954.8" font-size="28.8" fill="#1a1a1a" stroke="#1a1a1a" stroke-width="0.2">4</text>
<line x1="1794.5" y1="1992" x2="1802" y2="1992" stroke="#fff" stroke-width="1.6" />
<line x1="1823" y1="1992" x2="1830.5" y2="1992" stroke="#fff" stroke-width="1.6" />
<text x="1848" y="2002.3" font-size="28.8" fill="#1a1a1a" stroke="#1a1a1a" stroke-width="0.2">3</text>
<line x1="1794.5" y1="2039" x2="1802" y2="2039" stroke="#fff" stroke-width="1.6" />
<line x1="1823" y1="2039" x2="1830.5" y2="2039" stroke="#fff" stroke-width="1.6" />
<text x="1848" y="2049.3" font-size="28.8" fill="#1a1a1a" stroke="#1a1a1a" stroke-width="0.2">2</text>
<text x="1794.5" y="1845" font-size="28.5" fill="#1a1a1a" stroke="#1a1a1a" stroke-width="0.2" textLength="195.5" lengthAdjust="spacingAndGlyphs">−log<tspan font-size="17" dy="7">10</tspan><tspan dy="-7">(P-Value)</tspan></text>
<text x="1794.5" y="2127.5" font-size="28.9" fill="#1a1a1a" stroke="#1a1a1a" stroke-width="0.2">Count</text>
<circle cx="1812.5" cy="2167.5" r="11" fill="#000" />
<text x="1847" y="2178" font-size="28.8" fill="#1a1a1a" stroke="#1a1a1a" stroke-width="0.2">20</text>
<circle cx="1812.5" cy="2205" r="13" fill="#000" />
<text x="1847" y="2215.5" font-size="28.8" fill="#1a1a1a" stroke="#1a1a1a" stroke-width="0.2">40</text>
<circle cx="1812.5" cy="2242.5" r="14.5" fill="#000" />
<text x="1847" y="2253" font-size="28.8" fill="#1a1a1a" stroke="#1a1a1a" stroke-width="0.2">60</text>
<circle cx="1812.5" cy="2280.5" r="16" fill="#000" />
<text x="1847" y="2291" font-size="28.8" fill="#1a1a1a" stroke="#1a1a1a" stroke-width="0.2">80</text>
</g>
</svg>
</body>
</html>
